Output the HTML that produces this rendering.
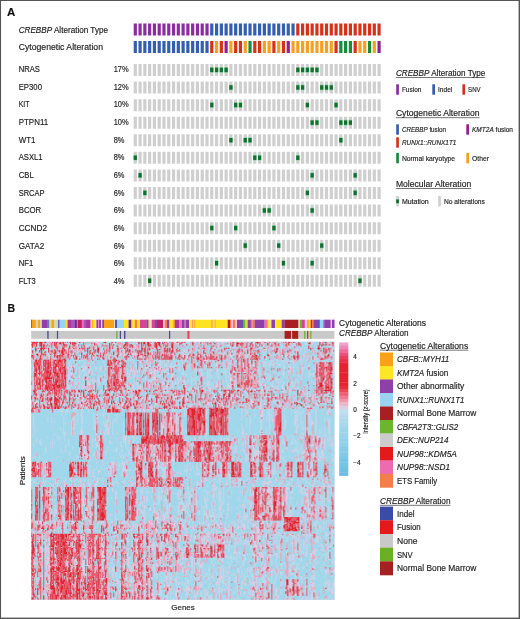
<!DOCTYPE html>
<html><head><meta charset="utf-8"><title>Figure</title>
<style>html,body{margin:0;padding:0;background:#fff;}body{width:520px;height:619px;overflow:hidden;}svg{display:block;font-family:"Liberation Sans",sans-serif;}text{opacity:.999;stroke:#1c1c1c;stroke-width:.16px;}</style></head><body>
<svg width="520" height="619" viewBox="0 0 520 619">
<rect x="0" y="0" width="520" height="619" fill="#fff"/>
<g id="panelA">
<text x="7.1" y="16.2" font-size="11.7" font-weight="bold" fill="#111" textLength="8.3" lengthAdjust="spacingAndGlyphs">A</text>
<text x="18.7" y="32.6" font-size="8.3" fill="#1c1c1c" textLength="89.3" lengthAdjust="spacingAndGlyphs"><tspan font-style="italic">CREBBP</tspan> Alteration Type</text>
<text x="18.7" y="50.0" font-size="8.3" fill="#1c1c1c" textLength="84.3" lengthAdjust="spacingAndGlyphs">Cytogenetic Alteration</text>
<rect x="133.70" y="23.5" width="3.2" height="12" fill="#8a2d9f"/>
<rect x="133.70" y="41" width="3.2" height="12" fill="#335fae"/>
<rect x="138.48" y="23.5" width="3.2" height="12" fill="#8a2d9f"/>
<rect x="138.48" y="41" width="3.2" height="12" fill="#335fae"/>
<rect x="143.26" y="23.5" width="3.2" height="12" fill="#8a2d9f"/>
<rect x="143.26" y="41" width="3.2" height="12" fill="#335fae"/>
<rect x="148.04" y="23.5" width="3.2" height="12" fill="#8a2d9f"/>
<rect x="148.04" y="41" width="3.2" height="12" fill="#335fae"/>
<rect x="152.82" y="23.5" width="3.2" height="12" fill="#8a2d9f"/>
<rect x="152.82" y="41" width="3.2" height="12" fill="#335fae"/>
<rect x="157.60" y="23.5" width="3.2" height="12" fill="#8a2d9f"/>
<rect x="157.60" y="41" width="3.2" height="12" fill="#335fae"/>
<rect x="162.38" y="23.5" width="3.2" height="12" fill="#8a2d9f"/>
<rect x="162.38" y="41" width="3.2" height="12" fill="#335fae"/>
<rect x="167.16" y="23.5" width="3.2" height="12" fill="#8a2d9f"/>
<rect x="167.16" y="41" width="3.2" height="12" fill="#335fae"/>
<rect x="171.94" y="23.5" width="3.2" height="12" fill="#8a2d9f"/>
<rect x="171.94" y="41" width="3.2" height="12" fill="#335fae"/>
<rect x="176.72" y="23.5" width="3.2" height="12" fill="#8a2d9f"/>
<rect x="176.72" y="41" width="3.2" height="12" fill="#335fae"/>
<rect x="181.50" y="23.5" width="3.2" height="12" fill="#8a2d9f"/>
<rect x="181.50" y="41" width="3.2" height="12" fill="#335fae"/>
<rect x="186.28" y="23.5" width="3.2" height="12" fill="#8a2d9f"/>
<rect x="186.28" y="41" width="3.2" height="12" fill="#335fae"/>
<rect x="191.06" y="23.5" width="3.2" height="12" fill="#8a2d9f"/>
<rect x="191.06" y="41" width="3.2" height="12" fill="#335fae"/>
<rect x="195.84" y="23.5" width="3.2" height="12" fill="#8a2d9f"/>
<rect x="195.84" y="41" width="3.2" height="12" fill="#335fae"/>
<rect x="200.62" y="23.5" width="3.2" height="12" fill="#8a2d9f"/>
<rect x="200.62" y="41" width="3.2" height="12" fill="#335fae"/>
<rect x="205.40" y="23.5" width="3.2" height="12" fill="#8a2d9f"/>
<rect x="205.40" y="41" width="3.2" height="12" fill="#335fae"/>
<rect x="210.18" y="23.5" width="3.2" height="12" fill="#335fae"/>
<rect x="210.18" y="41" width="3.2" height="12" fill="#d6321a"/>
<rect x="214.96" y="23.5" width="3.2" height="12" fill="#335fae"/>
<rect x="214.96" y="41" width="3.2" height="12" fill="#f5a021"/>
<rect x="219.74" y="23.5" width="3.2" height="12" fill="#335fae"/>
<rect x="219.74" y="41" width="3.2" height="12" fill="#d6321a"/>
<rect x="224.52" y="23.5" width="3.2" height="12" fill="#335fae"/>
<rect x="224.52" y="41" width="3.2" height="12" fill="#93208c"/>
<rect x="229.30" y="23.5" width="3.2" height="12" fill="#335fae"/>
<rect x="229.30" y="41" width="3.2" height="12" fill="#f5a021"/>
<rect x="234.08" y="23.5" width="3.2" height="12" fill="#335fae"/>
<rect x="234.08" y="41" width="3.2" height="12" fill="#d6321a"/>
<rect x="238.86" y="23.5" width="3.2" height="12" fill="#335fae"/>
<rect x="238.86" y="41" width="3.2" height="12" fill="#d6321a"/>
<rect x="243.64" y="23.5" width="3.2" height="12" fill="#335fae"/>
<rect x="243.64" y="41" width="3.2" height="12" fill="#f5a021"/>
<rect x="248.42" y="23.5" width="3.2" height="12" fill="#335fae"/>
<rect x="248.42" y="41" width="3.2" height="12" fill="#1b8a3c"/>
<rect x="253.20" y="23.5" width="3.2" height="12" fill="#335fae"/>
<rect x="253.20" y="41" width="3.2" height="12" fill="#d6321a"/>
<rect x="257.98" y="23.5" width="3.2" height="12" fill="#335fae"/>
<rect x="257.98" y="41" width="3.2" height="12" fill="#d6321a"/>
<rect x="262.76" y="23.5" width="3.2" height="12" fill="#335fae"/>
<rect x="262.76" y="41" width="3.2" height="12" fill="#f5a021"/>
<rect x="267.54" y="23.5" width="3.2" height="12" fill="#335fae"/>
<rect x="267.54" y="41" width="3.2" height="12" fill="#f5a021"/>
<rect x="272.32" y="23.5" width="3.2" height="12" fill="#335fae"/>
<rect x="272.32" y="41" width="3.2" height="12" fill="#d6321a"/>
<rect x="277.10" y="23.5" width="3.2" height="12" fill="#335fae"/>
<rect x="277.10" y="41" width="3.2" height="12" fill="#f5a021"/>
<rect x="281.88" y="23.5" width="3.2" height="12" fill="#335fae"/>
<rect x="281.88" y="41" width="3.2" height="12" fill="#d6321a"/>
<rect x="286.66" y="23.5" width="3.2" height="12" fill="#335fae"/>
<rect x="286.66" y="41" width="3.2" height="12" fill="#93208c"/>
<rect x="291.44" y="23.5" width="3.2" height="12" fill="#335fae"/>
<rect x="291.44" y="41" width="3.2" height="12" fill="#f5a021"/>
<rect x="296.22" y="23.5" width="3.2" height="12" fill="#d6321a"/>
<rect x="296.22" y="41" width="3.2" height="12" fill="#f5a021"/>
<rect x="301.00" y="23.5" width="3.2" height="12" fill="#d6321a"/>
<rect x="301.00" y="41" width="3.2" height="12" fill="#f5a021"/>
<rect x="305.78" y="23.5" width="3.2" height="12" fill="#d6321a"/>
<rect x="305.78" y="41" width="3.2" height="12" fill="#f5a021"/>
<rect x="310.56" y="23.5" width="3.2" height="12" fill="#d6321a"/>
<rect x="310.56" y="41" width="3.2" height="12" fill="#f5a021"/>
<rect x="315.34" y="23.5" width="3.2" height="12" fill="#d6321a"/>
<rect x="315.34" y="41" width="3.2" height="12" fill="#f5a021"/>
<rect x="320.12" y="23.5" width="3.2" height="12" fill="#d6321a"/>
<rect x="320.12" y="41" width="3.2" height="12" fill="#f5a021"/>
<rect x="324.90" y="23.5" width="3.2" height="12" fill="#d6321a"/>
<rect x="324.90" y="41" width="3.2" height="12" fill="#f5a021"/>
<rect x="329.68" y="23.5" width="3.2" height="12" fill="#d6321a"/>
<rect x="329.68" y="41" width="3.2" height="12" fill="#f5a021"/>
<rect x="334.46" y="23.5" width="3.2" height="12" fill="#d6321a"/>
<rect x="334.46" y="41" width="3.2" height="12" fill="#d6321a"/>
<rect x="339.24" y="23.5" width="3.2" height="12" fill="#d6321a"/>
<rect x="339.24" y="41" width="3.2" height="12" fill="#1b8a3c"/>
<rect x="344.02" y="23.5" width="3.2" height="12" fill="#d6321a"/>
<rect x="344.02" y="41" width="3.2" height="12" fill="#1b8a3c"/>
<rect x="348.80" y="23.5" width="3.2" height="12" fill="#d6321a"/>
<rect x="348.80" y="41" width="3.2" height="12" fill="#1b8a3c"/>
<rect x="353.58" y="23.5" width="3.2" height="12" fill="#d6321a"/>
<rect x="353.58" y="41" width="3.2" height="12" fill="#d6321a"/>
<rect x="358.36" y="23.5" width="3.2" height="12" fill="#d6321a"/>
<rect x="358.36" y="41" width="3.2" height="12" fill="#f5a021"/>
<rect x="363.14" y="23.5" width="3.2" height="12" fill="#d6321a"/>
<rect x="363.14" y="41" width="3.2" height="12" fill="#f5a021"/>
<rect x="367.92" y="23.5" width="3.2" height="12" fill="#d6321a"/>
<rect x="367.92" y="41" width="3.2" height="12" fill="#1b8a3c"/>
<rect x="372.70" y="23.5" width="3.2" height="12" fill="#d6321a"/>
<rect x="372.70" y="41" width="3.2" height="12" fill="#f5a021"/>
<rect x="377.48" y="23.5" width="3.2" height="12" fill="#d6321a"/>
<rect x="377.48" y="41" width="3.2" height="12" fill="#93208c"/>
<text x="18.7" y="72.0" font-size="8.3" fill="#1c1c1c" textLength="21.3" lengthAdjust="spacingAndGlyphs">NRAS</text>
<text x="113.7" y="72.0" font-size="8.3" fill="#1c1c1c" textLength="15" lengthAdjust="spacingAndGlyphs">17%</text>
<path d="M133.7 70.00h248.56" stroke="#cfcfcf" stroke-width="12" stroke-dasharray="3.2 1.58" fill="none"/>
<rect x="210.08" y="67.00" width="3.4000000000000004" height="5.8" fill="#8fd0a0"/>
<rect x="210.18" y="67.70" width="3.2" height="4.4" fill="#12702f"/>
<rect x="214.86" y="67.00" width="3.4000000000000004" height="5.8" fill="#8fd0a0"/>
<rect x="214.96" y="67.70" width="3.2" height="4.4" fill="#12702f"/>
<rect x="219.64" y="67.00" width="3.4000000000000004" height="5.8" fill="#8fd0a0"/>
<rect x="219.74" y="67.70" width="3.2" height="4.4" fill="#12702f"/>
<rect x="224.42" y="67.00" width="3.4000000000000004" height="5.8" fill="#8fd0a0"/>
<rect x="224.52" y="67.70" width="3.2" height="4.4" fill="#12702f"/>
<rect x="296.12" y="67.00" width="3.4000000000000004" height="5.8" fill="#8fd0a0"/>
<rect x="296.22" y="67.70" width="3.2" height="4.4" fill="#12702f"/>
<rect x="300.90" y="67.00" width="3.4000000000000004" height="5.8" fill="#8fd0a0"/>
<rect x="301.00" y="67.70" width="3.2" height="4.4" fill="#12702f"/>
<rect x="305.68" y="67.00" width="3.4000000000000004" height="5.8" fill="#8fd0a0"/>
<rect x="305.78" y="67.70" width="3.2" height="4.4" fill="#12702f"/>
<rect x="310.46" y="67.00" width="3.4000000000000004" height="5.8" fill="#8fd0a0"/>
<rect x="310.56" y="67.70" width="3.2" height="4.4" fill="#12702f"/>
<rect x="315.24" y="67.00" width="3.4000000000000004" height="5.8" fill="#8fd0a0"/>
<rect x="315.34" y="67.70" width="3.2" height="4.4" fill="#12702f"/>
<text x="18.7" y="89.65" font-size="8.3" fill="#1c1c1c" textLength="23.3" lengthAdjust="spacingAndGlyphs">EP300</text>
<text x="113.7" y="89.65" font-size="8.3" fill="#1c1c1c" textLength="15" lengthAdjust="spacingAndGlyphs">12%</text>
<path d="M133.7 87.57h248.56" stroke="#cfcfcf" stroke-width="12" stroke-dasharray="3.2 1.58" fill="none"/>
<rect x="229.20" y="84.57" width="3.4000000000000004" height="5.8" fill="#8fd0a0"/>
<rect x="229.30" y="85.27" width="3.2" height="4.4" fill="#12702f"/>
<rect x="296.12" y="84.57" width="3.4000000000000004" height="5.8" fill="#8fd0a0"/>
<rect x="296.22" y="85.27" width="3.2" height="4.4" fill="#12702f"/>
<rect x="300.90" y="84.57" width="3.4000000000000004" height="5.8" fill="#8fd0a0"/>
<rect x="301.00" y="85.27" width="3.2" height="4.4" fill="#12702f"/>
<rect x="320.02" y="84.57" width="3.4000000000000004" height="5.8" fill="#8fd0a0"/>
<rect x="320.12" y="85.27" width="3.2" height="4.4" fill="#12702f"/>
<rect x="324.80" y="84.57" width="3.4000000000000004" height="5.8" fill="#8fd0a0"/>
<rect x="324.90" y="85.27" width="3.2" height="4.4" fill="#12702f"/>
<rect x="329.58" y="84.57" width="3.4000000000000004" height="5.8" fill="#8fd0a0"/>
<rect x="329.68" y="85.27" width="3.2" height="4.4" fill="#12702f"/>
<text x="18.7" y="107.3" font-size="8.3" fill="#1c1c1c" textLength="10.8" lengthAdjust="spacingAndGlyphs">KIT</text>
<text x="113.7" y="107.3" font-size="8.3" fill="#1c1c1c" textLength="15" lengthAdjust="spacingAndGlyphs">10%</text>
<path d="M133.7 105.14h248.56" stroke="#cfcfcf" stroke-width="12" stroke-dasharray="3.2 1.58" fill="none"/>
<rect x="210.08" y="102.14" width="3.4000000000000004" height="5.8" fill="#8fd0a0"/>
<rect x="210.18" y="102.84" width="3.2" height="4.4" fill="#12702f"/>
<rect x="233.98" y="102.14" width="3.4000000000000004" height="5.8" fill="#8fd0a0"/>
<rect x="234.08" y="102.84" width="3.2" height="4.4" fill="#12702f"/>
<rect x="238.76" y="102.14" width="3.4000000000000004" height="5.8" fill="#8fd0a0"/>
<rect x="238.86" y="102.84" width="3.2" height="4.4" fill="#12702f"/>
<rect x="305.68" y="102.14" width="3.4000000000000004" height="5.8" fill="#8fd0a0"/>
<rect x="305.78" y="102.84" width="3.2" height="4.4" fill="#12702f"/>
<rect x="334.36" y="102.14" width="3.4000000000000004" height="5.8" fill="#8fd0a0"/>
<rect x="334.46" y="102.84" width="3.2" height="4.4" fill="#12702f"/>
<text x="18.7" y="124.95" font-size="8.3" fill="#1c1c1c" textLength="29.5" lengthAdjust="spacingAndGlyphs">PTPN11</text>
<text x="113.7" y="124.95" font-size="8.3" fill="#1c1c1c" textLength="15" lengthAdjust="spacingAndGlyphs">10%</text>
<path d="M133.7 122.71h248.56" stroke="#cfcfcf" stroke-width="12" stroke-dasharray="3.2 1.58" fill="none"/>
<rect x="310.46" y="119.71" width="3.4000000000000004" height="5.8" fill="#8fd0a0"/>
<rect x="310.56" y="120.41" width="3.2" height="4.4" fill="#12702f"/>
<rect x="315.24" y="119.71" width="3.4000000000000004" height="5.8" fill="#8fd0a0"/>
<rect x="315.34" y="120.41" width="3.2" height="4.4" fill="#12702f"/>
<rect x="339.14" y="119.71" width="3.4000000000000004" height="5.8" fill="#8fd0a0"/>
<rect x="339.24" y="120.41" width="3.2" height="4.4" fill="#12702f"/>
<rect x="343.92" y="119.71" width="3.4000000000000004" height="5.8" fill="#8fd0a0"/>
<rect x="344.02" y="120.41" width="3.2" height="4.4" fill="#12702f"/>
<rect x="348.70" y="119.71" width="3.4000000000000004" height="5.8" fill="#8fd0a0"/>
<rect x="348.80" y="120.41" width="3.2" height="4.4" fill="#12702f"/>
<text x="18.7" y="142.6" font-size="8.3" fill="#1c1c1c" textLength="16.8" lengthAdjust="spacingAndGlyphs">WT1</text>
<text x="113.7" y="142.6" font-size="8.3" fill="#1c1c1c" textLength="10.8" lengthAdjust="spacingAndGlyphs">8%</text>
<path d="M133.7 140.28h248.56" stroke="#cfcfcf" stroke-width="12" stroke-dasharray="3.2 1.58" fill="none"/>
<rect x="229.20" y="137.28" width="3.4000000000000004" height="5.8" fill="#8fd0a0"/>
<rect x="229.30" y="137.98" width="3.2" height="4.4" fill="#12702f"/>
<rect x="243.54" y="137.28" width="3.4000000000000004" height="5.8" fill="#8fd0a0"/>
<rect x="243.64" y="137.98" width="3.2" height="4.4" fill="#12702f"/>
<rect x="248.32" y="137.28" width="3.4000000000000004" height="5.8" fill="#8fd0a0"/>
<rect x="248.42" y="137.98" width="3.2" height="4.4" fill="#12702f"/>
<rect x="339.14" y="137.28" width="3.4000000000000004" height="5.8" fill="#8fd0a0"/>
<rect x="339.24" y="137.98" width="3.2" height="4.4" fill="#12702f"/>
<text x="18.7" y="160.25" font-size="8.3" fill="#1c1c1c" textLength="23.8" lengthAdjust="spacingAndGlyphs">ASXL1</text>
<text x="113.7" y="160.25" font-size="8.3" fill="#1c1c1c" textLength="10.8" lengthAdjust="spacingAndGlyphs">8%</text>
<path d="M133.7 157.85h248.56" stroke="#cfcfcf" stroke-width="12" stroke-dasharray="3.2 1.58" fill="none"/>
<rect x="133.60" y="154.85" width="3.4000000000000004" height="5.8" fill="#8fd0a0"/>
<rect x="133.70" y="155.55" width="3.2" height="4.4" fill="#12702f"/>
<rect x="253.10" y="154.85" width="3.4000000000000004" height="5.8" fill="#8fd0a0"/>
<rect x="253.20" y="155.55" width="3.2" height="4.4" fill="#12702f"/>
<rect x="257.88" y="154.85" width="3.4000000000000004" height="5.8" fill="#8fd0a0"/>
<rect x="257.98" y="155.55" width="3.2" height="4.4" fill="#12702f"/>
<rect x="296.12" y="154.85" width="3.4000000000000004" height="5.8" fill="#8fd0a0"/>
<rect x="296.22" y="155.55" width="3.2" height="4.4" fill="#12702f"/>
<text x="18.7" y="177.9" font-size="8.3" fill="#1c1c1c" textLength="15" lengthAdjust="spacingAndGlyphs">CBL</text>
<text x="113.7" y="177.9" font-size="8.3" fill="#1c1c1c" textLength="10.8" lengthAdjust="spacingAndGlyphs">6%</text>
<path d="M133.7 175.42h248.56" stroke="#cfcfcf" stroke-width="12" stroke-dasharray="3.2 1.58" fill="none"/>
<rect x="138.38" y="172.42" width="3.4000000000000004" height="5.8" fill="#8fd0a0"/>
<rect x="138.48" y="173.12" width="3.2" height="4.4" fill="#12702f"/>
<rect x="310.46" y="172.42" width="3.4000000000000004" height="5.8" fill="#8fd0a0"/>
<rect x="310.56" y="173.12" width="3.2" height="4.4" fill="#12702f"/>
<rect x="353.48" y="172.42" width="3.4000000000000004" height="5.8" fill="#8fd0a0"/>
<rect x="353.58" y="173.12" width="3.2" height="4.4" fill="#12702f"/>
<text x="18.7" y="195.55" font-size="8.3" fill="#1c1c1c" textLength="25.8" lengthAdjust="spacingAndGlyphs">SRCAP</text>
<text x="113.7" y="195.55" font-size="8.3" fill="#1c1c1c" textLength="10.8" lengthAdjust="spacingAndGlyphs">6%</text>
<path d="M133.7 192.99h248.56" stroke="#cfcfcf" stroke-width="12" stroke-dasharray="3.2 1.58" fill="none"/>
<rect x="143.16" y="189.99" width="3.4000000000000004" height="5.8" fill="#8fd0a0"/>
<rect x="143.26" y="190.69" width="3.2" height="4.4" fill="#12702f"/>
<rect x="305.68" y="189.99" width="3.4000000000000004" height="5.8" fill="#8fd0a0"/>
<rect x="305.78" y="190.69" width="3.2" height="4.4" fill="#12702f"/>
<rect x="353.48" y="189.99" width="3.4000000000000004" height="5.8" fill="#8fd0a0"/>
<rect x="353.58" y="190.69" width="3.2" height="4.4" fill="#12702f"/>
<text x="18.7" y="213.2" font-size="8.3" fill="#1c1c1c" textLength="22.5" lengthAdjust="spacingAndGlyphs">BCOR</text>
<text x="113.7" y="213.2" font-size="8.3" fill="#1c1c1c" textLength="10.8" lengthAdjust="spacingAndGlyphs">6%</text>
<path d="M133.7 210.56h248.56" stroke="#cfcfcf" stroke-width="12" stroke-dasharray="3.2 1.58" fill="none"/>
<rect x="262.66" y="207.56" width="3.4000000000000004" height="5.8" fill="#8fd0a0"/>
<rect x="262.76" y="208.26" width="3.2" height="4.4" fill="#12702f"/>
<rect x="267.44" y="207.56" width="3.4000000000000004" height="5.8" fill="#8fd0a0"/>
<rect x="267.54" y="208.26" width="3.2" height="4.4" fill="#12702f"/>
<rect x="310.46" y="207.56" width="3.4000000000000004" height="5.8" fill="#8fd0a0"/>
<rect x="310.56" y="208.26" width="3.2" height="4.4" fill="#12702f"/>
<text x="18.7" y="230.85" font-size="8.3" fill="#1c1c1c" textLength="28.3" lengthAdjust="spacingAndGlyphs">CCND2</text>
<text x="113.7" y="230.85" font-size="8.3" fill="#1c1c1c" textLength="10.8" lengthAdjust="spacingAndGlyphs">6%</text>
<path d="M133.7 228.13h248.56" stroke="#cfcfcf" stroke-width="12" stroke-dasharray="3.2 1.58" fill="none"/>
<rect x="210.08" y="225.13" width="3.4000000000000004" height="5.8" fill="#8fd0a0"/>
<rect x="210.18" y="225.83" width="3.2" height="4.4" fill="#12702f"/>
<rect x="233.98" y="225.13" width="3.4000000000000004" height="5.8" fill="#8fd0a0"/>
<rect x="234.08" y="225.83" width="3.2" height="4.4" fill="#12702f"/>
<rect x="272.22" y="225.13" width="3.4000000000000004" height="5.8" fill="#8fd0a0"/>
<rect x="272.32" y="225.83" width="3.2" height="4.4" fill="#12702f"/>
<text x="18.7" y="248.5" font-size="8.3" fill="#1c1c1c" textLength="25.5" lengthAdjust="spacingAndGlyphs">GATA2</text>
<text x="113.7" y="248.5" font-size="8.3" fill="#1c1c1c" textLength="10.8" lengthAdjust="spacingAndGlyphs">6%</text>
<path d="M133.7 245.70h248.56" stroke="#cfcfcf" stroke-width="12" stroke-dasharray="3.2 1.58" fill="none"/>
<rect x="243.54" y="242.70" width="3.4000000000000004" height="5.8" fill="#8fd0a0"/>
<rect x="243.64" y="243.40" width="3.2" height="4.4" fill="#12702f"/>
<rect x="277.00" y="242.70" width="3.4000000000000004" height="5.8" fill="#8fd0a0"/>
<rect x="277.10" y="243.40" width="3.2" height="4.4" fill="#12702f"/>
<rect x="320.02" y="242.70" width="3.4000000000000004" height="5.8" fill="#8fd0a0"/>
<rect x="320.12" y="243.40" width="3.2" height="4.4" fill="#12702f"/>
<text x="18.7" y="266.15" font-size="8.3" fill="#1c1c1c" textLength="14.5" lengthAdjust="spacingAndGlyphs">NF1</text>
<text x="113.7" y="266.15" font-size="8.3" fill="#1c1c1c" textLength="10.8" lengthAdjust="spacingAndGlyphs">6%</text>
<path d="M133.7 263.27h248.56" stroke="#cfcfcf" stroke-width="12" stroke-dasharray="3.2 1.58" fill="none"/>
<rect x="214.86" y="260.27" width="3.4000000000000004" height="5.8" fill="#8fd0a0"/>
<rect x="214.96" y="260.97" width="3.2" height="4.4" fill="#12702f"/>
<rect x="281.78" y="260.27" width="3.4000000000000004" height="5.8" fill="#8fd0a0"/>
<rect x="281.88" y="260.97" width="3.2" height="4.4" fill="#12702f"/>
<rect x="310.46" y="260.27" width="3.4000000000000004" height="5.8" fill="#8fd0a0"/>
<rect x="310.56" y="260.97" width="3.2" height="4.4" fill="#12702f"/>
<text x="18.7" y="283.8" font-size="8.3" fill="#1c1c1c" textLength="17" lengthAdjust="spacingAndGlyphs">FLT3</text>
<text x="113.7" y="283.8" font-size="8.3" fill="#1c1c1c" textLength="10.8" lengthAdjust="spacingAndGlyphs">4%</text>
<path d="M133.7 280.84h248.56" stroke="#cfcfcf" stroke-width="12" stroke-dasharray="3.2 1.58" fill="none"/>
<rect x="147.94" y="277.84" width="3.4000000000000004" height="5.8" fill="#8fd0a0"/>
<rect x="148.04" y="278.54" width="3.2" height="4.4" fill="#12702f"/>
<rect x="358.26" y="277.84" width="3.4000000000000004" height="5.8" fill="#8fd0a0"/>
<rect x="358.36" y="278.54" width="3.2" height="4.4" fill="#12702f"/>
<text x="395.9" y="76" font-size="8.6" fill="#1c1c1c" textLength="89.4" lengthAdjust="spacingAndGlyphs"><tspan font-style="italic">CREBBP</tspan> Alteration Type</text>
<rect x="395.9" y="77.3" width="89.4" height="0.6" fill="#1c1c1c"/>
<rect x="396.2" y="84.3" width="2.7" height="10.4" fill="#8a2d9f"/>
<text x="401.9" y="92.05" font-size="7.1" fill="#1c1c1c" textLength="19.5" lengthAdjust="spacingAndGlyphs">Fusion</text>
<rect x="432.3" y="84.3" width="2.7" height="10.4" fill="#335fae"/>
<text x="438.0" y="92.05" font-size="7.1" fill="#1c1c1c" textLength="14.3" lengthAdjust="spacingAndGlyphs">Indel</text>
<rect x="462.4" y="84.3" width="2.7" height="10.4" fill="#d6321a"/>
<text x="468.1" y="92.05" font-size="7.1" fill="#1c1c1c" textLength="12.5" lengthAdjust="spacingAndGlyphs">SNV</text>
<text x="395.9" y="116.2" font-size="8.6" fill="#1c1c1c" textLength="83.6" lengthAdjust="spacingAndGlyphs">Cytogenetic Alteration</text>
<rect x="395.9" y="117.5" width="83.6" height="0.6" fill="#1c1c1c"/>
<rect x="396.2" y="124.3" width="2.7" height="10.4" fill="#335fae"/>
<text x="401.9" y="132.05" font-size="7.1" fill="#1c1c1c" textLength="44.2" lengthAdjust="spacingAndGlyphs"><tspan font-style="italic">CREBBP</tspan> fusion</text>
<rect x="466.3" y="124.3" width="2.7" height="10.4" fill="#93208c"/>
<text x="472.0" y="132.05" font-size="7.1" fill="#1c1c1c" textLength="41" lengthAdjust="spacingAndGlyphs"><tspan font-style="italic">KMT2A</tspan> fusion</text>
<rect x="396.2" y="137.3" width="2.7" height="10.4" fill="#d6321a"/>
<text x="401.9" y="145.05" font-size="7.1" fill="#1c1c1c" textLength="54.5" lengthAdjust="spacingAndGlyphs"><tspan font-style="italic">RUNX1::RUNX1T1</tspan></text>
<rect x="396.2" y="152.9" width="2.7" height="10.4" fill="#1b8a3c"/>
<text x="401.9" y="160.65" font-size="7.1" fill="#1c1c1c" textLength="53.2" lengthAdjust="spacingAndGlyphs">Normal karyotype</text>
<rect x="466.3" y="152.9" width="2.7" height="10.4" fill="#f5a021"/>
<text x="472.0" y="160.65" font-size="7.1" fill="#1c1c1c" textLength="16.9" lengthAdjust="spacingAndGlyphs">Other</text>
<text x="395.9" y="186.9" font-size="8.6" fill="#1c1c1c" textLength="75.3" lengthAdjust="spacingAndGlyphs">Molecular Alteration</text>
<rect x="395.9" y="188.20000000000002" width="75.3" height="0.6" fill="#1c1c1c"/>
<rect x="396.2" y="196.0" width="2.7" height="10.4" fill="#cfcfcf"/>
<text x="401.9" y="203.75" font-size="7.1" fill="#1c1c1c" textLength="26.8" lengthAdjust="spacingAndGlyphs">Mutation</text>
<rect x="395.9" y="198.9" width="3.3" height="4.8" fill="#8fd0a0"/>
<rect x="396.2" y="199.5" width="2.7" height="3.6" fill="#12702f"/>
<rect x="438.2" y="196.0" width="2.7" height="10.4" fill="#cfcfcf"/>
<text x="443.9" y="203.75" font-size="7.1" fill="#1c1c1c" textLength="41" lengthAdjust="spacingAndGlyphs">No alterations</text>
</g>
<g id="panelB">
<text x="7.6" y="312.3" font-size="11.7" font-weight="bold" fill="#111" textLength="7.6" lengthAdjust="spacingAndGlyphs">B</text>
<rect x="31.20" y="319.7" width="0.85" height="8.3" fill="#6a2a8a"/>
<rect x="31.90" y="319.7" width="4.05" height="8.3" fill="#f9a11b"/>
<rect x="35.80" y="319.7" width="2.45" height="8.3" fill="#cdd6b6"/>
<rect x="38.10" y="319.7" width="2.45" height="8.3" fill="#f9a11b"/>
<rect x="40.40" y="319.7" width="1.65" height="8.3" fill="#cdd6b6"/>
<rect x="41.90" y="319.7" width="5.75" height="8.3" fill="#8e3fa8"/>
<rect x="47.50" y="319.7" width="1.45" height="8.3" fill="#5a55b0"/>
<rect x="48.80" y="319.7" width="1.75" height="8.3" fill="#9ad2f2"/>
<rect x="50.40" y="319.7" width="1.25" height="8.3" fill="#d6d447"/>
<rect x="51.50" y="319.7" width="2.85" height="8.3" fill="#f9a11b"/>
<rect x="54.20" y="319.7" width="4.05" height="8.3" fill="#cdd6b6"/>
<rect x="58.10" y="319.7" width="1.65" height="8.3" fill="#5a55b0"/>
<rect x="59.60" y="319.7" width="6.35" height="8.3" fill="#9ad2f2"/>
<rect x="65.80" y="319.7" width="1.85" height="8.3" fill="#fde321"/>
<rect x="67.50" y="319.7" width="3.65" height="8.3" fill="#b4339c"/>
<rect x="71.00" y="319.7" width="3.65" height="8.3" fill="#9a5cc0"/>
<rect x="74.50" y="319.7" width="2.45" height="8.3" fill="#6a2a8a"/>
<rect x="76.80" y="319.7" width="1.25" height="8.3" fill="#ee6bb0"/>
<rect x="77.90" y="319.7" width="4.05" height="8.3" fill="#c21f63"/>
<rect x="81.80" y="319.7" width="1.65" height="8.3" fill="#ee6bb0"/>
<rect x="83.30" y="319.7" width="2.85" height="8.3" fill="#9a5cc0"/>
<rect x="86.00" y="319.7" width="4.75" height="8.3" fill="#b4339c"/>
<rect x="90.60" y="319.7" width="1.55" height="8.3" fill="#f3c4dc"/>
<rect x="92.00" y="319.7" width="1.05" height="8.3" fill="#f9a11b"/>
<rect x="92.90" y="319.7" width="2.85" height="8.3" fill="#fde321"/>
<rect x="95.60" y="319.7" width="0.95" height="8.3" fill="#e8e0c8"/>
<rect x="96.40" y="319.7" width="2.05" height="8.3" fill="#8e3fa8"/>
<rect x="98.30" y="319.7" width="0.95" height="8.3" fill="#ee6bb0"/>
<rect x="99.10" y="319.7" width="2.05" height="8.3" fill="#8e3fa8"/>
<rect x="101.00" y="319.7" width="1.35" height="8.3" fill="#e8e0c8"/>
<rect x="102.20" y="319.7" width="1.95" height="8.3" fill="#8e3fa8"/>
<rect x="104.00" y="319.7" width="10.15" height="8.3" fill="#f9a11b"/>
<rect x="114.00" y="319.7" width="1.15" height="8.3" fill="#e8e0c8"/>
<rect x="115.00" y="319.7" width="2.15" height="8.3" fill="#5a55b0"/>
<rect x="117.00" y="319.7" width="7.15" height="8.3" fill="#9ad2f2"/>
<rect x="124.00" y="319.7" width="4.75" height="8.3" fill="#fde321"/>
<rect x="128.60" y="319.7" width="2.55" height="8.3" fill="#6a2a8a"/>
<rect x="131.00" y="319.7" width="1.65" height="8.3" fill="#f9a11b"/>
<rect x="132.50" y="319.7" width="2.45" height="8.3" fill="#fde321"/>
<rect x="134.80" y="319.7" width="2.35" height="8.3" fill="#f47d4a"/>
<rect x="137.00" y="319.7" width="3.15" height="8.3" fill="#fde321"/>
<rect x="140.00" y="319.7" width="6.45" height="8.3" fill="#d8409a"/>
<rect x="146.30" y="319.7" width="2.45" height="8.3" fill="#8e3fa8"/>
<rect x="148.60" y="319.7" width="1.55" height="8.3" fill="#fde321"/>
<rect x="150.00" y="319.7" width="1.85" height="8.3" fill="#e8e0c8"/>
<rect x="151.70" y="319.7" width="3.25" height="8.3" fill="#d8409a"/>
<rect x="154.80" y="319.7" width="2.35" height="8.3" fill="#8e3fa8"/>
<rect x="157.00" y="319.7" width="6.15" height="8.3" fill="#c21f63"/>
<rect x="163.00" y="319.7" width="1.95" height="8.3" fill="#f3c4dc"/>
<rect x="164.80" y="319.7" width="2.35" height="8.3" fill="#f47d4a"/>
<rect x="167.00" y="319.7" width="2.55" height="8.3" fill="#8e3fa8"/>
<rect x="169.40" y="319.7" width="3.95" height="8.3" fill="#fde321"/>
<rect x="173.20" y="319.7" width="1.75" height="8.3" fill="#f9a11b"/>
<rect x="174.80" y="319.7" width="4.75" height="8.3" fill="#b4339c"/>
<rect x="179.40" y="319.7" width="1.75" height="8.3" fill="#ee6bb0"/>
<rect x="181.00" y="319.7" width="0.95" height="8.3" fill="#f9a11b"/>
<rect x="181.80" y="319.7" width="2.95" height="8.3" fill="#8e3fa8"/>
<rect x="184.60" y="319.7" width="1.55" height="8.3" fill="#ee6bb0"/>
<rect x="186.00" y="319.7" width="3.15" height="8.3" fill="#8e3fa8"/>
<rect x="189.00" y="319.7" width="3.45" height="8.3" fill="#fde321"/>
<rect x="192.30" y="319.7" width="0.85" height="8.3" fill="#f47d4a"/>
<rect x="193.00" y="319.7" width="1.35" height="8.3" fill="#fde321"/>
<rect x="194.20" y="319.7" width="0.95" height="8.3" fill="#f9a11b"/>
<rect x="195.00" y="319.7" width="16.65" height="8.3" fill="#fde321"/>
<rect x="211.50" y="319.7" width="1.25" height="8.3" fill="#f47d4a"/>
<rect x="212.60" y="319.7" width="2.15" height="8.3" fill="#fde321"/>
<rect x="214.60" y="319.7" width="1.25" height="8.3" fill="#f9a11b"/>
<rect x="215.70" y="319.7" width="12.15" height="8.3" fill="#fde321"/>
<rect x="227.70" y="319.7" width="2.45" height="8.3" fill="#a81e22"/>
<rect x="230.00" y="319.7" width="1.65" height="8.3" fill="#f47d4a"/>
<rect x="231.50" y="319.7" width="1.65" height="8.3" fill="#f3c4dc"/>
<rect x="233.00" y="319.7" width="2.55" height="8.3" fill="#f47d4a"/>
<rect x="235.40" y="319.7" width="1.75" height="8.3" fill="#f3c4dc"/>
<rect x="237.00" y="319.7" width="3.95" height="8.3" fill="#8e3fa8"/>
<rect x="240.80" y="319.7" width="2.35" height="8.3" fill="#5a55b0"/>
<rect x="243.00" y="319.7" width="2.55" height="8.3" fill="#6cb52d"/>
<rect x="245.40" y="319.7" width="2.45" height="8.3" fill="#d6d447"/>
<rect x="247.70" y="319.7" width="3.25" height="8.3" fill="#8e3fa8"/>
<rect x="250.80" y="319.7" width="1.65" height="8.3" fill="#ee6bb0"/>
<rect x="252.30" y="319.7" width="2.45" height="8.3" fill="#f47d4a"/>
<rect x="254.60" y="319.7" width="10.05" height="8.3" fill="#8e3fa8"/>
<rect x="264.50" y="319.7" width="2.45" height="8.3" fill="#ee6bb0"/>
<rect x="266.80" y="319.7" width="1.65" height="8.3" fill="#f9a11b"/>
<rect x="268.30" y="319.7" width="2.45" height="8.3" fill="#fde321"/>
<rect x="270.60" y="319.7" width="0.95" height="8.3" fill="#e8e0c8"/>
<rect x="271.40" y="319.7" width="3.95" height="8.3" fill="#8e3fa8"/>
<rect x="275.20" y="319.7" width="0.95" height="8.3" fill="#e8e0c8"/>
<rect x="276.00" y="319.7" width="5.85" height="8.3" fill="#fde321"/>
<rect x="281.70" y="319.7" width="3.05" height="8.3" fill="#8e3fa8"/>
<rect x="284.60" y="319.7" width="14.05" height="8.3" fill="#a81e22"/>
<rect x="298.50" y="319.7" width="1.45" height="8.3" fill="#e8e0c8"/>
<rect x="299.80" y="319.7" width="1.65" height="8.3" fill="#6cb52d"/>
<rect x="301.30" y="319.7" width="3.65" height="8.3" fill="#d8409a"/>
<rect x="304.80" y="319.7" width="2.45" height="8.3" fill="#f3c4dc"/>
<rect x="307.10" y="319.7" width="1.85" height="8.3" fill="#f9a11b"/>
<rect x="308.80" y="319.7" width="1.95" height="8.3" fill="#fde321"/>
<rect x="310.60" y="319.7" width="1.55" height="8.3" fill="#e3191c"/>
<rect x="312.00" y="319.7" width="1.55" height="8.3" fill="#f47d4a"/>
<rect x="313.40" y="319.7" width="4.75" height="8.3" fill="#8e3fa8"/>
<rect x="318.00" y="319.7" width="1.95" height="8.3" fill="#5a55b0"/>
<rect x="319.80" y="319.7" width="3.65" height="8.3" fill="#9ad2f2"/>
<rect x="323.30" y="319.7" width="1.85" height="8.3" fill="#9a5cc0"/>
<rect x="325.00" y="319.7" width="5.85" height="8.3" fill="#8e3fa8"/>
<rect x="330.70" y="319.7" width="1.45" height="8.3" fill="#f3c4dc"/>
<rect x="332.00" y="319.7" width="2.55" height="8.3" fill="#8e3fa8"/>
<rect x="31.2" y="330.9" width="303.20" height="7.9" fill="#c9c9c9"/>
<rect x="47.3" y="330.9" width="1.30" height="7.9" fill="#474a8c"/>
<rect x="56.9" y="330.9" width="1.20" height="7.9" fill="#474a8c"/>
<rect x="116.3" y="330.9" width="1.20" height="7.9" fill="#6ab023"/>
<rect x="119.8" y="330.9" width="1.20" height="7.9" fill="#474a8c"/>
<rect x="124" y="330.9" width="1.40" height="7.9" fill="#474a8c"/>
<rect x="169" y="330.9" width="1.20" height="7.9" fill="#474a8c"/>
<rect x="187.4" y="330.9" width="2.10" height="7.9" fill="#e8455a"/>
<rect x="284.6" y="330.9" width="6.40" height="7.9" fill="#a52020"/>
<rect x="292.1" y="330.9" width="6.10" height="7.9" fill="#a52020"/>
<rect x="304.2" y="330.9" width="1.20" height="7.9" fill="#6ab023"/>
<rect x="307.1" y="330.9" width="1.20" height="7.9" fill="#e3191c"/>
<rect x="310.2" y="330.9" width="1.20" height="7.9" fill="#6ab023"/>
<defs><filter id="soft" x="-2%" y="-2%" width="104%" height="104%" color-interpolation-filters="sRGB"><feGaussianBlur stdDeviation="0.45"/></filter><clipPath id="hmclip"><rect x="31.2" y="341.8" width="303.20" height="257.90"/></clipPath></defs>
<rect x="31.2" y="341.8" width="303.20" height="257.90" fill="#cfd4e6"/>
<g clip-path="url(#hmclip)"><g filter="url(#soft)"><g transform="translate(31.2,341.8) scale(1.00066,1.19953)">
<rect x="-3" y="-3" width="309" height="221" fill="#a0d7ea"/>
<path transform="translate(0.5,0)" d="M0 1v1m0 2v2m0 18v1m0 12v2m0 38v1M1 5v1m0 9v2m0 6v1m0 5v2m0 3v5m0 39v1m0 38v1M2 4v4m0 15v2m0 5v6m0 12v1m0 11v11m0 14v2m0 27v4m0 19v4m0 43v2M3 7v4m0 40v2m0 17v7m0 2v1m0 3v1m0 11v2m0 48v3m0 10v1m0 20v4m0 3v1m0 9v5m0 7v2m0 3v1M4 2v2m0 169v2m0 5v1m0 20v1m0 2v1M5 9v1m0 38v3m0 2v1m0 26v4m0 29v2m0 35v3m0 1v2m0 3v1m0 7v1m0 4v3m0 1v1m0 29v2m0 6v1M6 2v1m0 6v1m0 6v1m0 3v1m0 20v1m0 58v1m0 2v1m0 14v1m0 30v2m0 17v1M7 0v3m0 3v3m0 5v1m0 28v1m0 7v1m0 53v1m0 12v1m0 3v2m0 39v2m0 12v2m0 17v2m0 1v1m0 12v2M8 4v1m0 77v3m0 10v3m0 51v2m0 6v1m0 6v3m0 44v4M9 27v1m0 23v1m0 29v5m0 34v1m0 4v4m0 20v1m0 8v2m0 35v1M10 13v1m0 32v1m0 3v2m0 32v3m0 18v1m0 4v1m0 5v3m0 1v1m0 29v4m0 6v1m0 3v1m0 5v6m0 1v4m0 7v1m0 1v1m0 13v4M11 6v2m0 7v2m0 26v2m0 10v1m0 105v1m0 1v1m0 9v3m0 11v1m0 5v3M12 8v1m0 4v2m0 22v2m0 61v2m0 2v1m0 9v4m0 39v1M13 6v1m0 25v3m0 9v9m0 40v1m0 6v1m0 16v3m0 30v4m0 2v1m0 10v1m0 14v2m0 1v1m0 13v1m0 2v5m0 1v4M14 13v1m0 30v1m0 66v2m0 4v1m0 32v2M15 6v1m0 3v2m0 29v3m0 8v1m0 47v1m0 9v1m0 10v1m0 25v1m0 27v1m0 3v2m0 12v3M16 63v3m0 35v4m0 75v2m0 12v1m0 6v2m0 1v4M17 11v2m0 37v2m0 1v1m0 63v1m0 2v1m0 36v2m0 9v2m0 13v2m0 13v4M18 6v2m0 2v2m0 38v2m0 71v4m0 3v1m0 2v4m0 5v3m0 2v2m0 7v1m0 2v1m0 3v4m0 21v3m0 1v1m0 7v2m0 1v2M19 3v4m0 47v1m0 28v5m0 30v1m0 2v1m0 3v2m0 5v1m0 10v1m0 4v1m0 2v3m0 3v1M20 13v1m0 1v1m0 34v1m0 7v1m0 4v4m0 31v2m0 39v5m0 12v1M21 20v1m0 50v1m0 9v8m0 3v1m0 20v2m0 16v1m0 12v6m0 13v1M22 40v1m0 2v3m0 3v1m0 101v1m0 1v1M23 4v2m0 7v1m0 42v3m0 7v2m0 8v2m0 5v2m0 29v1m0 11v1m0 5v1m0 5v3m0 2v2m0 4v1m0 7v3m0 2v1m0 3v1m0 7v6m0 19v5M24 12v2m0 100v3m0 2v2m0 18v4m0 6v2m0 6v1m0 8v2M25 45v1m0 50v1m0 16v1m0 28v2M26 1v3m0 74v5m0 32v5m0 32v1m0 1v1M27 8v3m0 36v1m0 9v2m0 36v1m0 19v1m0 2v1m0 24v1m0 8v1m0 3v3M28 79v2m0 6v1M29 4v2m0 50v3m0 12v3m0 7v1m0 7v4m0 24v1m0 10v1m0 2v2m0 20v3M30 10v1m0 34v2m0 2v3m0 6v1m0 1v2m0 69v5m0 16v1m0 1v1m0 3v1M31 39v2m0 1v1m0 3v1m0 6v2m0 20v1m0 4v1m0 10v2m0 32v1m0 10v3m0 5v4M32 62v16m0 67v2m0 3v2m0 2v1m0 4v1M33 5v1m0 69v8m0 6v2m0 31v4m0 10v1m0 1v2m0 3v1m0 9v5m0 37v3M34 1v1m0 3v1m0 4v2m0 44v5m0 14v2m0 8v4m0 2v1m0 15v1m0 12v1m0 28v5m0 5v1M35 12v1m0 7v2m0 21v4m0 1v2m0 6v3m0 31v1m0 27v1m0 30v3m0 6v2M36 5v5m0 12v1m0 5v1m0 6v1m0 2v2m0 16v3m0 60v2m0 35v1m0 26v7m0 9v1M37 4v1m0 19v8m0 3v5m0 15v1m0 1v2m0 21v7m0 30v1m0 38v1M38 8v1m0 2v2m0 10v9m0 4v4m0 51v4m0 20v1m0 11v2m0 3v5m0 1v10m0 1v1M39 3v1m0 11v2m0 3v5m0 2v1m0 12v2m0 6v6m0 59v3m0 3v1m0 29v1m0 1v1m0 3v3M40 0v5m0 18v1m0 8v2m0 1v3m0 21v1m0 5v3m0 45v1m0 1v2m0 3v3m0 26v2m0 59v2M41 13v2m0 16v2m0 16v1m0 13v3m0 6v1m0 14v3m0 37v2m0 15v6m0 6v1m0 9v1m0 12v2m0 7v1M42 9v1m0 4v1m0 1v2m0 1v2m0 8v1m0 14v1m0 1v1m0 5v1m0 3v3m0 11v5m0 13v1m0 17v4m0 3v2m0 34v1m0 7v3M43 8v1m0 2v3m0 6v2m0 6v2m0 4v1m0 21v3m0 2v12m0 33v3m0 6v2m0 65v3M44 19v1m0 4v3m0 2v3m0 52v1m0 34v1m0 65v1M45 22v3m0 9v3m0 7v4m0 5v1m0 2v3m0 26v1m0 9v2m0 34v2m0 61v3M46 0v4m0 1v3m0 32v2m0 4v1m0 3v1m0 3v1m0 4v10m0 26v1m0 35v1m0 22v2M47 4v1m0 3v2m0 11v2m0 1v6m0 7v3m0 2v2m0 5v2m0 44v2m0 17v4m0 9v1m0 7v2m0 21v2m0 41v1M48 4v1m0 3v1m0 6v2m0 14v8m0 59v1m0 1v3m0 8v2m0 40v2m0 2v1M49 10v2m0 1v1m0 12v1m0 21v1m0 11v2m0 11v5m0 19v1m0 15v1m0 60v2M50 15v1m0 4v2m0 1v2m0 23v1m0 10v17m0 40v1m0 7v2m0 1v3m0 2v1m0 2v2m0 5v1m0 9v2m0 3v3m0 1v7m0 2v4m0 11v2m0 6v7M51 12v1m0 2v1m0 8v1m0 5v2m0 2v2m0 3v1m0 2v1m0 13v3m0 3v6m0 19v4m0 17v3m0 15v1m0 14v5m0 2v1m0 2v1m0 1v2m0 1v1m0 13v2m0 4v2M52 6v3m0 9v2m0 2v3m0 2v2m0 3v1m0 4v3m0 10v5m0 32v1m0 3v2m0 25v2m0 10v2m0 4v1m0 8v4m0 11v1m0 13v2m0 3v1m0 10v1m0 1v2M53 15v1m0 1v1m0 4v7m0 3v6m0 51v5m0 9v1m0 10v3m0 1v2m0 15v3m0 10v1m0 11v2m0 5v2m0 12v8m0 5v1m0 15v4M54 2v4m0 4v1m0 6v3m0 29v1m0 38v1m0 4v1m0 1v3m0 40v3m0 11v1m0 6v1M55 4v1m0 21v5m0 6v2m0 79v2m0 32v1m0 1v1m0 23v1m0 2v2m0 9v2m0 3v6m0 7v1M56 2v3m0 25v1m0 2v4m0 11v1m0 44v4m0 3v4m0 7v2m0 14v2m0 6v1m0 2v3m0 6v1m0 7v3M57 2v1m0 3v1m0 1v6m0 9v1m0 5v1m0 2v2m0 19v1m0 2v3m0 10v1m0 24v1m0 3v2m0 14v6m0 2v1m0 3v12m0 6v1m0 2v1m0 4v2m0 2v4M58 22v4m0 9v4m0 49v4m0 1v3m0 7v4m0 11v6m0 27v1m0 31v2M59 0v1m0 1v1m0 2v2m0 3v3m0 6v4m0 10v1m0 14v1m0 6v1m0 42v1m0 13v1m0 1v1m0 4v1m0 25v6m0 5v1m0 1v2M60 7v3m0 5v2m0 14v1m0 17v2m0 39v1m0 13v1m0 7v1m0 2v1m0 6v3m0 10v2m0 6v2m0 32v6M61 11v1m0 10v4m0 29v1m0 16v1m0 5v1m0 3v3m0 2v1m0 20v5M62 2v2m0 14v1m0 8v1m0 4v3m0 2v3m0 1v3m0 3v1m0 11v14m0 33v1m0 6v3m0 36v1m0 2v2m0 2v1M63 20v1m0 9v2m0 6v2m0 2v2m0 27v3m0 7v2m0 23v1m0 11v1m0 1v2m0 4v2m0 6v3m0 3v9m0 4v3m0 7v1m0 6v2M64 3v3m0 3v2m0 10v4m0 2v1m0 20v1m0 3v2m0 10v14m0 4v1m0 5v1m0 2v1m0 21v2m0 2v2m0 1v1m0 3v19m0 3v2m0 35v1m0 21v4M65 6v2m0 4v3m0 6v1m0 12v2m0 11v3m0 3v2m0 8v1m0 13v1m0 5v6m0 10v3m0 1v1m0 1v1m0 11v3m0 1v9m0 2v1m0 2v5m0 3v1m0 1v1m0 11v1m0 4v2M66 13v1m0 16v4m0 10v1m0 3v1m0 3v2m0 5v9m0 10v2m0 2v1m0 1v1m0 1v2m0 3v6m0 55v2M67 28v1m0 1v6m0 7v3m0 8v2m0 22v5m0 5v1m0 27v1m0 3v1m0 15v3M68 0v4m0 17v3m0 8v4m0 18v1m0 31v4m0 2v5m0 16v2m0 43v1m0 4v4m0 1v1m0 9v2m0 5v2M69 2v2m0 38v1m0 2v3m0 3v1m0 7v2m0 12v4m0 40v1M70 0v1m0 13v1m0 26v1m0 4v3m0 5v1m0 49v3m0 45v1m0 20v1m0 8v2M71 3v4m0 14v1m0 11v1m0 21v1m0 3v3m0 5v2m0 29v2m0 14v2m0 1v1m0 1v1m0 39v2m0 8v3m0 19v1M72 7v1m0 7v3m0 12v1m0 2v3m0 9v2m0 9v1m0 2v4m0 3v1m0 7v2m0 14v2m0 24v1m0 43v1m0 34v3M73 19v6m0 31v3m0 46v2m0 12v1m0 33v1m0 10v1m0 13v2m0 31v3M74 32v2m0 1v1m0 7v1m0 6v3m0 6v2m0 3v2m0 4v3m0 6v1m0 2v1m0 8v4m0 14v1M75 0v3m0 9v2m0 25v1m0 15v4m0 8v7m0 37v1m0 4v2m0 10v1m0 5v1m0 8v1m0 12v1m0 21v3m0 4v1M76 59v1m0 16v2m0 9v3m0 11v1m0 3v1m0 15v4m0 11v1m0 26v1m0 1v1m0 5v4m0 4v1m0 1v4m0 3v1m0 2v1m0 11v2m0 3v3m0 1v3M77 10v5m0 27v1m0 16v8m0 4v3m0 33v5m0 10v3m0 19v1m0 6v2m0 1v1m0 11v1m0 2v1m0 10v1m0 7v1m0 11v2M78 12v3m0 28v2m0 3v3m0 17v4m0 10v3m0 19v3m0 10v2m0 28v2m0 3v2m0 6v1m0 10v1m0 1v6m0 8v1m0 13v1m0 6v1m0 2v1M79 7v3m0 39v1m0 29v2m0 19v1m0 2v2m0 6v2m0 5v1m0 31v1m0 6v2m0 1v1m0 1v2m0 5v2m0 4v3m0 24v2m0 10v1M80 14v2m0 25v4m0 11v3m0 42v2m0 2v1m0 6v1m0 16v2m0 18v1m0 4v1m0 16v1m0 8v1m0 8v3m0 13v1M81 1v2m0 13v1m0 8v2m0 2v1m0 18v1m0 16v13m0 6v1m0 31v4m0 24v1m0 4v2m0 3v1m0 4v1m0 6v1m0 14v4m0 17v1m0 10v2M82 3v3m0 12v4m0 20v1m0 9v1m0 37v2m0 4v1m0 3v2m0 16v2m0 38v2m0 10v2m0 9v1m0 10v2m0 4v6m0 3v1m0 5v2M83 0v1m0 63v3m0 44v1m0 4v2m0 31v5m0 16v3m0 2v4m0 33v3M84 1v2m0 3v1m0 1v4m0 77v2m0 23v1m0 9v2m0 5v5m0 5v6m0 7v1m0 37v4m0 5v1m0 11v1M85 13v2m0 31v1m0 13v8m0 13v1m0 5v5m0 8v4m0 9v5m0 7v2m0 20v2m0 9v1m0 6v2m0 3v1m0 16v3m0 5v3m0 9v1m0 3v2M86 20v1m0 16v1m0 4v1m0 3v2m0 15v1m0 3v1m0 7v2m0 29v1m0 9v2m0 30v1m0 11v1m0 10v1m0 2v4m0 2v5m0 9v1m0 3v6m0 2v1M87 14v1m0 25v2m0 12v2m0 24v1m0 3v1m0 18v1m0 1v2m0 34v4m0 17v1m0 26v1m0 9v3m0 7v3m0 1v1M88 6v2m0 3v1m0 31v1m0 8v1m0 2v1m0 1v1m0 34v3m0 5v5m0 45v1m0 15v4m0 7v1m0 15v2m0 4v1m0 2v2m0 2v3M89 6v6m0 3v6m0 5v1m0 20v3m0 29v1m0 3v5m0 74v4m0 1v1m0 1v4m0 4v5m0 4v2m0 2v3m0 1v3m0 2v1m0 4v1M90 18v1m0 12v3m0 9v2m0 41v3m0 1v3m0 1v6m0 1v3m0 47v1m0 6v1M91 6v1m0 35v1m0 2v2m0 57v1m0 2v6m0 3v2m0 2v1m0 8v2m0 12v1m0 5v3m0 5v1m0 7v2m0 20v1m0 22v2M92 40v2m0 24v10m0 2v7m0 9v4m0 2v5m0 12v1m0 16v1m0 41v1m0 8v6m0 11v2M93 7v1m0 13v1m0 18v2m0 54v1m0 3v4m0 1v3m0 6v2m0 2v1m0 30v6m0 13v5m0 1v1m0 2v3m0 5v4m0 8v4m0 5v2M94 15v2m0 16v1m0 10v1m0 34v1m0 13v2m0 5v1m0 3v1m0 3v2m0 1v3m0 5v2m0 30v1m0 3v1m0 3v1m0 21v1M95 10v1m0 11v1m0 3v2m0 9v1m0 24v7m0 9v3m0 17v2m0 11v1m0 4v1m0 16v2m0 14v3m0 12v3m0 3v4m0 2v3m0 2v4m0 7v7M96 8v2m0 12v5m0 7v1m0 2v3m0 1v1m0 48v1m0 18v3m0 1v1m0 3v1m0 1v1m0 29v1m0 3v5m0 4v8m0 2v2m0 1v1m0 1v2m0 2v2m0 1v3m0 9v1m0 6v2M97 3v1m0 9v5m0 10v1m0 2v1m0 9v2m0 1v2m0 32v2m0 10v5m0 20v2m0 2v2m0 5v1m0 7v1m0 2v2m0 7v2m0 4v2m0 1v1m0 1v1m0 2v4m0 9v2m0 12v2m0 23v1M98 10v1m0 9v1m0 5v3m0 1v1m0 5v4m0 58v1m0 67v1m0 29v2m0 4v1m0 4v1M99 1v1m0 6v1m0 6v3m0 16v1m0 3v1m0 5v3m0 7v3m0 39v3m0 17v1m0 1v1m0 2v1m0 4v4m0 3v2m0 8v1m0 11v3m0 2v1m0 11v2m0 16v1m0 6v1m0 3v2m0 4v1m0 5v2M100 1v1m0 4v5m0 1v1m0 6v1m0 1v4m0 4v2m0 3v1m0 8v1m0 34v1m0 17v1m0 22v1m0 40v3m0 6v1m0 9v1m0 10v1m0 1v2M101 12v1m0 10v5m0 8v4m0 4v2m0 1v1m0 2v1m0 3v1m0 23v2m0 4v1m0 71v1m0 2v1m0 5v3m0 1v3m0 5v1m0 18v2M102 4v1m0 2v1m0 7v3m0 11v1m0 2v3m0 20v1m0 95v3m0 4v1m0 12v4m0 11v6m0 21v2M103 33v2m0 4v1m0 6v2m0 14v9m0 9v3m0 16v1m0 17v2m0 2v2m0 31v1m0 9v2m0 8v1M104 18v3m0 2v1m0 14v2m0 5v2m0 1v1m0 1v3m0 9v3m0 39v3m0 10v2m0 34v3m0 3v1m0 11v5m0 4v1m0 4v3m0 14v5M105 17v9m0 3v8m0 86v12m0 3v2m0 3v1m0 12v1m0 13v2m0 9v1m0 6v1m0 1v2m0 14v2m0 4v3M106 10v1m0 4v1m0 9v6m0 3v7m0 42v1m0 22v1m0 1v5m0 20v1m0 9v1m0 1v1m0 1v1m0 15v3m0 4v1m0 4v4m0 8v3m0 20v3M107 12v2m0 1v1m0 4v4m0 7v4m0 84v2m0 10v1m0 3v3m0 1v1m0 6v1M108 21v1m0 89v1m0 1v1m0 20v1m0 18v1m0 47v2M109 4v3m0 6v1m0 33v3m0 6v3m0 64v3m0 1v1m0 1v2m0 3v3m0 19v1m0 1v1m0 11v1m0 24v1M110 20v1m0 2v1m0 9v2m0 92v4m0 2v1m0 25v1m0 20v1m0 24v2M111 28v1m0 8v1m0 2v4m0 12v3m0 40v1m0 2v2m0 14v1m0 2v7m0 5v5m0 2v1m0 7v1m0 7v2m0 20v3M112 4v1m0 3v4m0 1v1m0 1v2m0 5v5m0 25v1m0 67v1m0 20v2m0 10v2m0 17v4m0 16v3m0 5v5M113 2v3m0 33v2m0 1v1m0 17v5m0 2v1m0 7v4m0 15v6m0 9v1m0 4v1m0 8v1m0 6v6m0 5v6m0 3v3m0 5v1m0 18v2m0 8v3m0 2v1m0 1v1m0 13v8M114 19v1m0 11v2m0 7v1m0 1v4m0 11v1m0 29v2m0 11v1m0 13v1m0 10v1m0 11v1m0 8v1m0 13v2m0 3v2m0 11v1m0 7v1m0 6v2m0 12v5M115 1v6m0 4v1m0 3v3m0 6v1m0 2v1m0 10v2m0 16v1m0 53v1m0 7v1m0 3v1m0 2v1m0 17v2m0 4v1m0 6v1m0 11v1m0 23v1M116 4v1m0 46v1m0 50v8m0 12v4m0 3v3m0 27v1m0 3v1m0 6v1m0 12v2M117 12v1m0 6v1m0 15v1m0 21v2m0 56v1m0 4v1m0 5v1m0 43v3m0 12v1m0 1v1m0 15v5M118 7v3m0 12v1m0 12v3m0 16v2m0 69v1m0 12v3m0 3v2m0 6v1m0 4v1m0 2v1m0 1v2m0 5v2m0 1v1m0 6v1m0 6v1m0 1v1m0 10v1m0 2v3m0 4v3M119 18v6m0 6v3m0 10v7m0 3v1m0 35v1m0 31v1m0 16v3m0 25v2M120 1v3m0 3v2m0 2v2m0 5v1m0 4v2m0 5v2m0 12v1m0 7v4m0 33v1m0 3v2m0 33v2m0 21v1m0 7v2m0 3v1M121 10v1m0 14v1m0 3v3m0 4v3m0 1v3m0 3v3m0 42v1m0 7v1m0 42v1m0 14v2m0 4v2m0 2v2m0 9v1m0 6v4m0 3v1m0 8v5M122 4v2m0 14v3m0 8v1m0 54v1m0 2v2m0 5v1m0 1v2m0 2v8m0 22v9m0 44v4m0 17v1M123 5v1m0 9v2m0 3v1m0 7v1m0 4v2m0 2v2m0 12v5m0 30v2m0 12v3m0 23v1m0 7v2m0 2v2m0 9v4m0 17v1m0 1v3m0 5v1m0 7v9m0 12v2M124 28v1m0 89v1m0 1v1m0 21v1m0 17v1m0 1v1m0 41v1m0 3v1M125 7v2m0 6v3m0 2v2m0 2v1m0 10v1m0 5v2m0 8v2m0 44v2m0 24v1m0 10v1m0 12v2m0 1v3m0 29v1m0 9v6m0 4v1M126 19v9m0 9v2m0 101v4m0 13v1m0 6v1m0 3v4m0 8v1m0 12v1m0 5v1M127 8v1m0 18v3m0 5v2m0 10v2m0 1v1m0 2v1m0 32v4m0 15v1m0 6v2m0 7v2m0 3v10m0 12v1m0 1v2m0 1v1m0 5v3m0 2v1m0 44v1M128 16v1m0 2v3m0 35v2m0 26v2m0 21v2m0 14v3m0 6v1m0 16v1m0 3v1m0 27v5m0 12v2m0 1v9M129 15v4m0 21v1m0 11v1m0 17v1m0 6v1m0 24v3m0 16v1m0 7v2m0 10v1m0 3v4m0 5v5m0 3v11m0 12v1m0 3v1m0 5v1m0 7v9M130 16v1m0 6v5m0 2v4m0 16v2m0 19v6m0 22v1m0 4v3m0 2v1m0 11v5m0 3v1m0 11v2m0 18v1m0 30v2m0 2v3m0 1v2m0 5v5m0 2v1M131 4v1m0 11v1m0 4v1m0 11v4m0 39v1m0 27v4m0 2v2m0 11v3m0 32v1m0 2v4m0 1v1m0 1v3m0 42v2M132 16v1m0 17v2m0 1v2m0 13v2m0 33v1m0 14v10m0 19v2m0 12v5m0 2v1m0 6v1m0 23v1m0 1v1m0 6v2m0 10v1m0 5v5M133 15v1m0 1v6m0 5v5m0 1v2m0 3v1m0 31v2m0 33v3m0 4v2m0 1v1m0 2v2m0 3v1m0 6v3m0 1v2m0 11v1m0 2v1m0 2v1m0 2v3m0 10v2m0 13v1m0 8v4m0 4v3m0 2v2M134 0v1m0 17v3m0 2v3m0 12v2m0 3v1m0 6v2m0 3v1m0 3v2m0 6v5m0 31v5m0 3v2m0 7v1m0 2v1m0 1v1m0 8v1m0 3v1m0 3v4m0 4v3m0 3v2m0 27v3m0 3v1m0 3v1m0 15v2M135 4v2m0 9v6m0 11v2m0 7v1m0 10v1m0 51v2m0 21v5m0 2v6m0 1v1m0 1v1m0 13v1m0 6v2m0 2v4m0 8v5m0 10v2m0 13v5M136 0v1m0 14v1m0 16v1m0 12v1m0 2v3m0 41v3m0 27v1m0 9v2m0 2v1m0 6v3m0 16v5m0 4v1m0 5v1m0 8v1m0 24v4M137 0v1m0 1v5m0 2v1m0 5v3m0 2v1m0 2v5m0 2v6m0 6v1m0 88v1m0 15v2m0 4v2m0 16v3m0 2v1m0 3v3m0 19v3m0 3v2M138 4v1m0 27v2m0 3v1m0 96v9m0 30v4m0 1v3m0 6v1m0 4v6m0 1v1m0 1v1M139 17v2m0 9v9m0 98v2m0 10v1m0 13v2m0 9v1m0 14v1m0 13v1m0 6v7M140 6v1m0 12v4m0 19v2m0 9v2m0 31v1m0 30v1m0 2v1m0 4v2m0 50v2m0 8v3m0 8v1m0 6v2M141 9v2m0 21v4m0 9v4m0 6v1m0 2v1m0 40v1m0 13v3m0 4v1m0 31v1m0 1v5m0 3v1m0 1v1m0 9v5m0 22v2m0 11v1M142 16v1m0 4v2m0 20v5m0 6v2m0 3v2m0 9v2m0 14v3m0 5v1m0 1v7m0 3v2m0 46v2m0 7v2m0 13v1m0 5v1m0 7v3m0 3v1m0 4v1m0 5v2m0 2v2M143 0v1m0 1v2m0 1v2m0 5v2m0 8v1m0 10v3m0 6v2m0 12v3m0 26v1m0 3v4m0 1v1m0 2v3m0 2v1m0 23v1m0 11v2m0 5v1m0 3v1m0 8v2m0 2v2m0 10v1m0 10v1M144 16v5m0 6v1m0 3v5m0 5v1m0 6v1m0 6v1m0 3v3m0 3v8m0 38v2m0 36v3m0 5v3m0 40v2M145 16v1m0 2v1m0 29v5m0 2v1m0 4v1m0 30v1m0 22v1m0 10v1m0 29v4m0 14v1m0 17v4m0 2v2m0 1v5M146 6v1m0 1v1m0 3v1m0 9v1m0 11v2m0 4v4m0 54v2m0 25v5m0 7v6m0 27v1m0 8v1m0 5v1m0 4v1m0 13v1m0 9v1M147 0v1m0 7v1m0 6v5m0 2v2m0 12v3m0 8v5m0 7v1m0 52v1m0 3v2m0 4v10m0 1v3m0 4v4m0 3v2m0 4v6m0 2v1m0 5v1m0 1v4m0 9v3m0 10v2m0 10v6M148 13v1m0 5v4m0 14v3m0 4v1m0 79v1m0 9v2m0 7v1m0 5v3m0 9v2m0 2v1m0 3v2m0 25v2m0 2v2m0 2v2m0 5v1m0 2v1M149 9v2m0 2v1m0 33v1m0 58v1m0 9v1m0 14v5m0 7v6m0 14v2m0 1v1m0 5v2m0 7v2M150 6v1m0 19v1m0 17v1m0 6v2m0 15v1m0 43v1m0 6v1m0 11v5m0 11v2m0 2v3m0 2v4m0 16v2m0 6v3m0 1v1m0 3v5m0 15v3M151 9v2m0 8v5m0 1v3m0 4v2m0 1v3m0 6v2m0 19v10m0 43v1m0 11v1m0 1v1m0 1v2m0 3v3m0 4v2m0 6v1m0 5v1m0 12v1m0 1v2m0 5v1m0 19v1M152 6v3m0 8v1m0 4v6m0 3v2m0 83v2m0 16v7m0 23v3m0 8v2m0 2v1m0 10v3m0 10v4M153 3v1m0 2v1m0 3v1m0 4v2m0 14v4m0 13v1m0 6v8m0 32v1m0 7v6m0 11v3m0 2v6m0 5v2m0 10v1m0 1v1m0 2v3m0 11v1m0 3v1m0 2v2m0 30v3M154 7v2m0 2v6m0 3v1m0 13v2m0 5v3m0 28v3m0 3v5m0 24v2m0 17v3m0 8v6m0 12v2m0 9v3m0 1v2m0 4v2m0 12v2m0 4v3m0 4v2m0 5v3m0 1v1M155 0v1m0 5v3m0 1v5m0 4v3m0 16v2m0 2v7m0 25v3m0 5v1m0 19v2m0 1v8m0 1v1m0 7v2m0 9v1m0 15v1m0 19v2m0 16v1m0 3v3m0 2v1m0 1v7m0 3v4M156 0v1m0 9v4m0 8v2m0 19v1m0 3v3m0 2v3m0 23v3m0 9v3m0 21v1m0 5v3m0 1v4m0 12v4m0 7v1m0 3v1m0 24v2m0 17v2m0 8v2M157 0v3m0 2v1m0 26v2m0 4v4m0 48v1m0 1v4m0 2v2m0 12v1m0 2v1m0 5v7m0 1v7m0 8v1m0 5v1m0 15v1m0 23v2m0 1v1m0 4v4m0 5v4M158 0v3m0 18v1m0 16v2m0 9v1m0 36v2m0 13v2m0 6v3m0 13v1m0 2v8m0 8v7m0 3v1m0 28v1m0 2v1m0 2v1M159 7v2m0 4v1m0 68v1m0 5v1m0 10v1m0 13v6m0 1v1m0 7v2m0 11v1m0 2v1m0 8v1m0 8v1m0 6v2m0 8v2m0 7v1m0 6v8M160 1v1m0 1v2m0 13v2m0 12v6m0 14v2m0 30v1m0 8v1m0 60v1m0 1v4m0 2v1m0 6v2m0 3v1m0 3v6m0 10v2M161 14v1m0 27v1m0 1v1m0 38v2m0 1v4m0 5v2m0 6v3m0 17v3m0 24v2m0 28v13m0 4v2M162 0v1m0 3v2m0 9v3m0 12v3m0 2v1m0 2v1m0 1v1m0 3v1m0 39v3m0 37v1m0 11v9m0 7v5m0 5v5m0 28v1m0 6v2M163 24v2m0 2v1m0 13v1m0 1v1m0 34v2m0 26v2m0 47v1m0 2v2m0 4v1m0 23v2m0 4v4m0 3v1m0 3v3M164 4v2m0 9v8m0 6v1m0 4v2m0 1v1m0 3v2m0 35v1m0 1v1m0 29v2m0 10v6m0 4v3m0 49v2m0 22v1m0 1v5M165 37v1m0 71v2m0 6v2m0 2v1m0 1v1m0 2v4m0 6v1m0 5v1m0 4v2m0 8v3m0 7v1m0 8v1m0 6v2m0 8v4m0 11v6M166 17v3m0 18v1m0 66v6m0 4v3m0 49v1m0 12v3m0 11v1m0 2v7M167 6v3m0 2v2m0 3v1m0 9v2m0 1v1m0 6v3m0 10v1m0 2v1m0 27v3m0 26v2m0 6v1m0 3v2m0 18v4m0 1v3m0 3v1m0 1v1m0 5v4m0 20v3m0 6v1m0 2v3m0 4v1M168 3v1m0 4v2m0 20v6m0 1v1m0 12v3m0 26v2m0 25v2m0 1v3m0 9v2m0 17v4m0 7v4m0 1v3m0 11v2m0 4v7m0 5v2m0 6v1m0 5v5M169 4v1m0 17v1m0 2v3m0 9v1m0 14v3m0 33v2m0 10v5m0 9v6m0 39v1m0 20v1m0 27v5M170 10v2m0 10v5m0 18v2m0 1v2m0 44v3m0 7v1m0 31v3m0 10v1m0 8v2m0 1v1m0 24v6m0 2v1m0 9v1m0 6v3M171 1v1m0 2v1m0 1v2m0 9v2m0 24v1m0 49v1m0 44v1m0 11v2m0 34v2m0 12v3m0 10v2M172 44v3m0 3v1m0 51v10m0 4v1m0 2v1m0 4v1m0 5v1m0 8v2m0 2v6m0 2v2m0 4v2m0 32v3m0 2v1m0 10v1M173 10v2m0 1v1m0 16v1m0 3v1m0 7v1m0 6v2m0 27v3m0 27v2m0 6v1m0 6v1m0 4v1m0 5v1m0 1v3m0 2v4m0 10v1m0 1v3m0 1v3m0 2v2m0 15v1m0 6v1m0 4v3m0 9v1m0 5v2M174 8v1m0 29v1m0 1v2m0 15v8m0 3v15m0 38v1m0 2v2m0 5v5m0 1v1m0 18v2m0 22v1m0 8v1m0 3v3m0 2v4M175 0v1m0 10v1m0 17v2m0 4v1m0 1v1m0 6v1m0 11v8m0 5v9m0 17v2m0 32v2m0 2v1m0 5v1m0 4v2m0 46v3m0 11v5M176 3v1m0 12v1m0 9v1m0 4v6m0 43v2m0 7v1m0 23v1m0 10v2m0 2v1m0 10v1m0 11v5m0 1v4m0 37v1m0 9v4M177 7v1m0 14v1m0 14v1m0 7v3m0 3v2m0 98v3m0 15v3m0 16v4m0 1v6m0 4v3m0 6v1M178 0v1m0 27v3m0 4v2m0 3v2m0 1v1m0 36v1m0 1v1m0 24v3m0 18v1m0 24v3m0 4v2m0 24v2m0 1v2m0 20v3M179 106v3m0 2v2m0 31v3m0 4v2m0 27v1m0 11v1m0 1v1m0 5v1m0 4v1M180 19v2m0 1v2m0 3v4m0 2v4m0 1v1m0 3v2m0 6v4m0 48v9m0 3v3m0 7v1m0 14v2m0 3v6m0 4v2m0 25v1m0 5v2m0 21v2M181 5v3m0 13v1m0 16v2m0 1v4m0 7v4m0 24v2m0 40v3m0 3v1m0 10v7m0 3v1m0 19v4m0 19v2m0 10v1m0 3v1M182 36v2m0 7v2m0 1v1m0 33v1m0 27v1m0 2v1m0 6v1m0 9v4m0 8v9m0 8v2m0 13v3m0 3v3m0 13v4m0 4v3M183 2v1m0 14v1m0 2v2m0 21v5m0 43v3m0 6v1m0 2v1m0 5v4m0 8v4m0 8v1m0 6v1m0 5v4m0 16v2m0 12v1m0 2v1m0 23v1M184 12v1m0 5v2m0 2v1m0 23v2m0 1v1m0 31v1m0 6v2m0 2v2m0 19v4m0 5v1m0 20v2m0 5v1m0 18v3m0 5v2m0 10v1m0 11v2m0 3v1M185 7v1m0 12v1m0 1v6m0 5v3m0 3v1m0 6v1m0 2v3m0 1v2m0 31v1m0 17v2m0 4v3m0 3v1m0 9v4m0 14v3m0 2v11m0 5v3m0 6v1m0 1v4m0 12v3m0 10v1m0 4v5M186 9v1m0 13v1m0 11v3m0 68v4m0 7v1m0 35v1m0 13v1m0 39v3m0 4v1M187 5v2m0 7v1m0 7v9m0 50v2m0 10v1m0 5v1m0 10v1m0 3v2m0 6v11m0 1v4m0 1v10m0 4v3m0 2v2m0 20v2m0 3v1m0 5v1m0 10v2m0 9v2M188 8v1m0 7v3m0 15v3m0 63v3m0 9v1m0 8v6m0 1v2m0 1v1m0 20v1m0 1v2m0 3v1m0 1v2m0 5v1m0 12v1m0 5v3m0 9v2m0 1v1m0 1v2m0 1v4M189 4v2m0 3v1m0 26v4m0 38v5m0 19v1m0 8v1m0 6v2m0 9v5m0 2v1m0 4v4m0 15v2m0 19v1m0 2v1m0 1v3m0 9v2m0 8v1M190 9v1m0 13v2m0 17v1m0 37v2m0 7v1m0 15v3m0 1v4m0 12v1m0 16v4m0 8v1m0 25v4m0 16v1m0 3v10M191 2v5m0 10v3m0 11v4m0 18v1m0 1v1m0 62v2m0 39v1m0 7v2m0 11v4m0 2v5m0 1v2m0 1v7m0 1v1M192 6v2m0 8v1m0 5v5m0 53v1m0 40v7m0 1v6m0 11v1m0 19v2m0 36v1m0 6v1m0 1v2M193 0v1m0 21v2m0 56v3m0 69v1m0 1v3m0 3v1m0 1v6m0 1v4m0 6v1m0 26v3M194 16v1m0 2v2m0 8v1m0 2v1m0 70v1m0 5v3m0 38v2m0 1v1m0 1v5m0 18v3m0 13v2m0 15v1m0 2v1M195 31v4m0 3v2m0 13v2m0 25v3m0 33v1m0 26v1m0 2v2m0 7v1m0 7v2m0 4v1m0 1v2m0 5v3m0 2v1m0 9v1m0 4v3m0 2v4m0 7v1M196 2v2m0 15v3m0 19v4m0 4v1m0 51v2m0 26v1m0 2v1m0 2v6m0 1v4m0 10v4m0 18v1m0 26v1M197 0v4m0 18v1m0 11v2m0 2v2m0 10v1m0 1v2m0 21v8m0 9v3m0 6v1m0 2v2m0 7v1m0 3v1m0 11v2m0 6v1m0 14v3m0 1v2m0 25v2m0 3v1m0 6v7m0 7v4m0 1v1M198 10v2m0 13v3m0 4v1m0 3v2m0 1v1m0 11v2m0 26v1m0 2v1m0 27v3m0 8v1m0 1v1m0 25v1m0 3v1m0 1v1m0 10v2m0 1v2m0 8v2m0 5v3m0 8v3m0 6v3m0 2v2M199 38v2m0 6v1m0 16v1m0 38v5m0 3v1m0 8v2m0 8v1m0 20v1m0 5v1m0 1v2m0 1v2m0 13v5M200 0v1m0 6v1m0 19v1m0 3v2m0 11v5m0 5v1m0 27v5m0 34v1m0 2v3m0 13v1m0 10v3m0 7v1m0 7v4m0 5v7m0 8v2m0 11v5m0 2v2M201 4v5m0 2v2m0 5v1m0 5v1m0 28v2m0 43v1m0 16v3m0 32v1m0 17v1m0 1v1M202 3v1m0 11v4m0 5v2m0 22v5m0 60v1m0 3v1m0 35v2m0 1v2m0 2v1m0 1v1m0 16v3m0 24v1m0 1v3m0 3v1M203 3v4m0 2v2m0 9v1m0 3v1m0 4v1m0 11v1m0 7v1m0 46v2m0 15v1m0 3v1m0 6v1m0 29v2m0 2v8m0 3v5m0 2v1m0 2v3m0 26v2m0 3v2M204 2v1m0 5v1m0 7v1m0 8v1m0 1v2m0 3v3m0 3v2m0 14v1m0 27v6m0 7v1m0 21v4m0 30v3m0 9v1m0 31v5m0 4v1m0 2v1M205 15v8m0 1v1m0 10v7m0 46v1m0 24v1m0 24v1m0 4v2m0 13v1m0 4v2m0 3v1m0 10v5m0 9v9m0 11v1M206 74v2m0 2v1m0 8v1m0 50v2m0 8v1m0 7v1m0 3v2m0 4v3m0 3v1m0 3v1m0 11v4m0 17v3M207 11v1m0 1v1m0 3v3m0 22v1m0 38v4m0 29v8m0 7v4m0 18v3m0 6v1m0 7v1m0 6v1m0 7v1m0 8v6m0 3v1m0 11v2M208 11v2m0 14v2m0 9v2m0 6v2m0 1v1m0 2v2m0 60v3m0 2v1m0 4v1m0 15v3m0 9v1m0 6v1m0 4v1m0 13v3m0 3v1M209 3v2m0 9v1m0 20v1m0 28v2m0 14v2m0 8v2m0 22v3m0 4v1m0 14v2m0 5v1m0 1v1m0 3v1m0 3v4m0 5v2m0 1v4m0 18v2m0 5v3m0 3v1m0 7v4M210 43v1m0 6v4m0 1v9m0 4v3m0 4v2m0 9v1m0 11v2m0 14v1m0 17v1m0 16v6m0 1v4m0 11v1m0 18v3M211 14v1m0 1v3m0 24v4m0 5v1m0 3v2m0 20v2m0 8v3m0 19v3m0 4v1m0 5v1m0 7v1m0 19v2m0 5v1m0 4v1m0 4v1m0 7v3m0 4v3m0 3v1m0 2v4M212 25v1m0 15v2m0 8v1m0 22v3m0 4v1m0 23v3m0 7v4m0 1v1m0 20v1m0 2v5m0 1v2m0 4v1m0 6v1m0 4v2m0 8v9m0 13v1m0 4v1M213 6v1m0 16v3m0 3v2m0 9v2m0 4v2m0 42v4m0 18v1m0 31v5m0 8v2m0 5v5m0 6v1m0 2v6m0 9v6m0 7v2m0 4v1M214 7v2m0 5v1m0 12v1m0 3v1m0 8v1m0 3v3m0 33v7m0 1v1m0 5v6m0 20v1m0 7v4m0 10v2m0 18v1m0 6v2m0 9v2m0 8v2m0 3v1m0 2v1m0 9v2M215 12v2m0 8v1m0 6v2m0 15v1m0 9v4m0 3v9m0 12v1m0 8v2m0 18v4m0 4v1m0 25v2M216 13v1m0 29v3m0 12v2m0 19v3m0 28v1m0 12v4m0 5v3m0 17v1m0 1v2m0 9v4m0 7v2m0 13v5m0 15v1m0 2v1M217 0v1m0 6v2m0 6v2m0 33v1m0 27v8m0 21v1m0 6v1m0 1v1m0 36v1m0 1v1m0 4v3m0 3v1m0 1v1m0 37v4M218 4v2m0 7v1m0 22v2m0 3v2m0 13v1m0 4v17m0 8v3m0 13v2m0 5v2m0 2v1m0 9v1m0 2v16m0 19v1m0 4v3m0 12v1m0 6v4m0 10v1m0 6v5M219 8v1m0 10v4m0 23v1m0 8v1m0 8v4m0 69v3m0 7v2m0 2v1m0 3v2m0 2v1m0 9v4m0 9v1m0 6v4m0 7v2m0 5v5M220 2v3m0 4v2m0 3v1m0 23v1m0 87v3m0 5v1m0 2v2m0 10v1m0 19v7m0 1v3m0 12v5m0 6v1M221 0v2m0 5v2m0 15v1m0 23v1m0 5v1m0 23v3m0 1v2m0 6v1m0 2v1m0 2v2m0 10v3m0 7v1m0 4v3m0 8v2m0 2v3m0 11v3m0 1v1m0 3v3m0 5v1m0 6v2m0 12v3m0 1v3m0 6v2M222 0v5m0 3v1m0 6v2m0 12v2m0 82v1m0 2v1m0 7v3m0 14v5m0 5v4m0 3v1m0 6v1m0 5v1m0 9v1m0 5v2m0 5v8m0 1v1m0 4v4M223 8v1m0 6v1m0 36v1m0 3v2m0 4v1m0 13v2m0 11v7m0 16v1m0 2v1m0 42v2m0 6v1m0 7v1m0 7v6m0 1v2m0 9v4M224 49v2m0 34v2m0 12v2m0 12v1m0 38v3m0 4v1m0 4v1m0 1v1m0 32v2m0 12v1M225 1v2m0 17v1m0 25v3m0 32v7m0 2v1m0 22v4m0 32v1m0 7v3m0 24v1m0 11v2m0 7v4m0 2v1M226 5v1m0 7v1m0 7v4m0 29v1m0 24v1m0 7v2m0 8v1m0 1v1m0 3v1m0 9v1m0 4v2m0 22v1m0 6v2m0 17v1m0 7v1m0 3v3m0 5v5m0 20v1M227 1v2m0 13v5m0 3v1m0 7v2m0 12v4m0 28v3m0 4v1m0 4v1m0 17v3m0 6v1m0 50v1m0 3v2m0 7v1m0 7v3m0 5v1m0 2v1M228 5v3m0 7v1m0 5v1m0 2v2m0 1v10m0 29v1m0 7v1m0 46v5m0 34v5m0 36v2m0 5v1M229 2v4m0 34v3m0 13v1m0 6v15m0 67v2m0 7v1m0 4v1m0 20v1m0 9v5m0 5v1m0 12v2M230 14v1m0 1v1m0 5v1m0 9v1m0 2v1m0 1v2m0 8v3m0 3v2m0 12v7m0 15v1m0 9v1m0 26v3m0 4v2m0 14v3m0 4v1m0 26v9m0 4v1m0 4v1M231 29v4m0 15v1m0 14v2m0 10v3m0 20v2m0 16v1m0 10v1m0 14v3m0 12v2m0 3v1m0 1v1m0 3v1m0 4v4m0 3v2m0 12v7M232 2v3m0 3v4m0 4v3m0 14v1m0 1v2m0 2v1m0 1v1m0 2v1m0 10v2m0 46v3m0 3v4m0 4v2m0 16v10m0 17v6m0 24v1m0 1v7m0 5v1m0 7v1M233 9v1m0 6v1m0 2v1m0 5v3m0 8v2m0 67v1m0 8v1m0 39v1m0 3v1m0 9v1m0 6v2m0 8v2m0 11v4M234 14v1m0 3v4m0 8v1m0 2v1m0 2v2m0 2v1m0 7v1m0 50v1m0 4v6m0 45v1m0 1v1m0 11v1m0 7v2m0 3v4m0 6v4m0 3v2m0 4v5M235 0v1m0 5v2m0 4v3m0 2v2m0 3v2m0 6v2m0 6v2m0 5v1m0 2v2m0 4v2m0 6v5m0 4v7m0 26v2m0 11v2m0 11v1m0 19v2m0 5v2m0 35v2m0 11v2m0 1v3M236 26v3m0 8v3m0 1v2m0 15v4m0 17v4m0 1v3m0 10v3m0 14v1m0 5v1m0 16v2m0 11v5m0 10v4M237 34v1m0 2v3m0 2v1m0 13v6m0 1v4m0 3v1m0 24v1m0 8v2m0 1v1m0 5v1m0 14v5m0 16v1m0 6v4m0 6v3m0 1v1m0 6v2m0 6v1m0 10v4m0 2v1m0 11v1M238 17v1m0 9v6m0 7v1m0 15v2m0 1v17m0 5v5m0 27v2m0 6v1m0 14v2m0 14v2m0 3v1m0 20v1m0 8v1m0 16v4M239 0v3m0 8v9m0 9v3m0 3v3m0 4v4m0 7v1m0 68v7m0 5v1m0 7v4m0 15v3m0 1v3m0 20v1m0 12v5m0 3v2M240 11v1m0 5v1m0 6v1m0 10v4m0 17v10m0 19v1m0 14v6m0 8v1m0 4v2m0 1v5m0 1v9m0 12v1m0 13v2m0 6v1m0 6v1m0 4v4m0 10v4M241 0v1m0 17v9m0 5v6m0 5v1m0 5v2m0 4v1m0 50v4m0 3v1m0 5v1m0 3v2m0 25v1m0 11v2m0 4v1m0 9v1m0 25v2m0 5v3M242 16v4m0 5v1m0 11v3m0 13v1m0 1v1m0 49v2m0 1v1m0 40v1m0 50v1m0 11v1M243 9v3m0 12v3m0 10v2m0 3v1m0 7v2m0 23v4m0 5v3m0 5v5m0 6v6m0 8v2m0 43v2m0 3v2m0 6v3m0 21v5m0 1v2m0 4v1M244 10v3m0 2v1m0 1v1m0 30v3m0 28v1m0 2v7m0 1v10m0 4v1m0 1v1m0 9v2m0 2v1m0 29v1m0 18v3m0 9v4m0 6v2m0 4v2m0 15v1M245 9v2m0 3v1m0 1v5m0 1v2m0 5v3m0 5v3m0 9v1m0 2v3m0 45v1m0 13v1m0 34v1m0 5v1m0 2v2m0 2v5m0 1v1m0 35v2m0 4v1M246 3v2m0 3v2m0 4v3m0 13v2m0 4v1m0 17v1m0 51v1m0 3v1m0 2v1m0 11v3m0 5v5m0 14v1m0 6v1m0 18v1m0 10v3m0 20v3M247 0v1m0 3v1m0 13v2m0 5v4m0 2v2m0 1v3m0 2v1m0 13v1m0 47v1m0 4v1m0 45v3m0 3v2m0 1v1m0 3v6m0 5v1m0 15v1m0 12v1m0 5v2M248 18v3m0 12v1m0 44v1m0 4v6m0 1v3m0 15v2m0 6v5m0 38v1m0 18v2m0 5v2m0 9v1M249 0v4m0 11v2m0 3v1m0 12v1m0 21v1m0 39v2m0 16v1m0 1v1m0 1v2m0 41v3m0 11v1m0 10v4m0 2v1m0 2v1m0 2v1m0 2v4M250 11v4m0 1v3m0 11v3m0 3v2m0 6v1m0 5v4m0 2v9m0 13v2m0 9v3m0 24v3m0 5v4m0 6v2m0 16v1m0 4v2m0 16v1m0 7v4m0 2v1m0 1v4m0 3v3M251 0v2m0 9v1m0 13v1m0 7v1m0 21v1m0 26v4m0 4v3m0 3v2m0 15v1m0 1v2m0 6v1m0 3v1m0 5v3m0 9v2m0 4v2m0 1v1m0 1v1m0 5v1m0 17v1M252 4v3m0 10v2m0 3v8m0 3v2m0 3v2m0 31v4m0 3v3m0 2v3m0 6v1m0 3v4m0 1v2m0 10v1m0 18v4m0 23v5M253 0v1m0 20v2m0 11v1m0 5v3m0 12v3m0 3v9m0 13v8m0 4v1m0 17v1m0 6v1m0 18v1m0 19v1m0 17v2m0 5v3m0 18v3M254 15v2m0 48v5m0 19v1m0 8v4m0 2v3m0 1v3m0 7v1m0 1v1m0 7v1m0 15v2m0 16v2m0 7v1m0 16v2m0 11v3m0 8v3M255 13v1m0 1v2m0 6v1m0 4v2m0 6v2m0 40v1m0 3v1m0 36v2m0 3v1m0 10v1m0 3v2m0 32v3M256 32v4m0 14v2m0 26v4m0 8v2m0 26v2m0 16v3m0 23v5m0 13v2M257 18v4m0 1v1m0 16v1m0 1v1m0 4v1m0 37v2m0 8v1m0 21v2m0 3v1m0 16v2m0 1v1m0 15v1m0 17v5m0 8v6m0 5v5m0 3v1m0 2v1M258 3v2m0 3v2m0 27v3m0 4v1m0 10v1m0 44v6m0 1v2m0 2v2m0 4v3m0 1v2m0 17v2m0 1v1m0 38v1m0 2v3m0 24v2M259 15v2m0 2v2m0 18v5m0 34v2m0 4v2m0 33v1m0 5v9m0 24v1m0 1v2m0 20v1m0 5v3m0 7v1M260 2v3m0 32v1m0 18v3m0 18v1m0 2v5m0 3v1m0 25v4m0 3v6m0 31v2m0 16v7m0 14v2m0 1v2m0 1v3m0 7v2M261 0v4m0 3v2m0 2v4m0 6v3m0 21v2m0 2v2m0 2v1m0 29v3m0 17v5m0 7v1m0 8v2m0 12v6m0 14v1m0 5v2m0 4v1m0 2v3m0 7v2m0 9v1m0 2v1m0 3v1m0 10v1M262 1v1m0 7v2m0 5v1m0 2v2m0 5v3m0 11v2m0 37v2m0 19v1m0 35v4m0 18v1m0 2v3m0 12v2m0 1v2m0 2v2m0 28v1M263 1v1m0 1v1m0 7v1m0 26v2m0 1v3m0 17v5m0 3v2m0 11v2m0 18v2m0 54v4m0 1v4m0 2v2m0 2v3m0 8v1m0 4v2m0 2v5m0 4v4M264 0v3m0 9v1m0 3v1m0 2v2m0 10v4m0 8v1m0 2v2m0 9v4m0 8v1m0 3v4m0 5v4m0 4v2m0 2v3m0 1v1m0 60v1m0 7v1m0 1v1m0 7v2m0 15v4m0 10v1M265 0v1m0 16v1m0 3v1m0 9v1m0 12v1m0 4v1m0 12v5m0 8v2m0 10v5m0 11v1m0 1v2m0 13v1m0 12v3m0 25v1m0 2v1m0 2v3m0 3v2m0 1v2m0 2v1m0 5v7M266 0v3m0 2v3m0 13v2m0 4v2m0 4v3m0 1v3m0 14v1m0 1v10m0 2v4m0 12v3m0 1v1m0 1v3m0 3v4m0 16v2m0 25v3m0 42v2m0 11v3M267 23v2m0 1v3m0 4v1m0 6v2m0 12v1m0 26v1m0 10v2m0 1v5m0 15v1m0 2v1m0 5v1m0 39v2m0 1v2m0 1v2m0 26v6M268 4v1m0 10v2m0 23v3m0 15v3m0 18v1m0 10v3m0 27v2m0 33v1m0 3v2m0 27v2m0 5v3m0 5v2m0 4v1m0 3v2M269 8v2m0 9v1m0 9v2m0 7v1m0 11v2m0 7v10m0 2v1m0 6v4m0 5v1m0 25v2m0 5v6m0 19v1m0 3v1m0 19v3m0 9v3m0 12v1m0 10v2m0 1v2M270 5v1m0 9v2m0 5v9m0 23v1m0 17v2m0 1v3m0 1v2m0 4v3m0 3v3m0 1v5m0 7v5m0 9v2m0 12v2m0 3v1m0 9v1m0 5v2m0 15v5m0 1v4m0 15v3M271 2v2m0 19v1m0 16v2m0 8v1m0 5v4m0 6v6m0 6v1m0 12v3m0 19v3m0 10v2m0 13v1m0 18v1m0 11v1m0 3v1m0 11v2m0 23v2M272 16v1m0 24v4m0 8v1m0 20v4m0 13v3m0 1v2m0 25v2m0 16v2m0 32v5m0 8v2m0 5v1M273 1v2m0 2v5m0 2v1m0 7v3m0 5v1m0 7v1m0 10v2m0 3v4m0 65v5m0 11v3m0 9v4m0 1v2m0 2v1m0 37v2m0 9v3m0 3v1M274 0v3m0 8v1m0 5v1m0 3v1m0 34v2m0 4v16m0 21v1m0 15v4m0 6v1m0 1v2m0 8v4m0 1v7m0 4v1m0 8v1m0 4v1m0 4v1m0 2v4m0 19v1m0 4v5M275 0v3m0 35v1m0 1v1m0 5v1m0 3v2m0 36v1m0 11v1m0 2v4m0 9v1m0 3v4m0 5v1m0 18v1m0 4v1m0 2v1m0 11v2m0 1v3m0 4v1m0 11v1M276 13v2m0 5v1m0 2v1m0 2v1m0 15v5m0 6v2m0 37v3m0 3v10m0 9v1m0 3v3m0 1v11m0 2v3m0 28v1m0 28v1m0 2v1m0 3v5M277 0v1m0 1v1m0 21v6m0 3v2m0 18v2m0 9v5m0 2v7m0 15v2m0 13v3m0 3v1m0 2v2m0 12v1m0 2v2m0 22v6m0 3v1m0 42v2m0 2v1M278 3v1m0 13v2m0 6v1m0 4v1m0 5v1m0 15v3m0 3v8m0 6v6m0 28v2m0 14v1m0 32v1m0 5v1m0 1v1m0 12v1m0 19v2m0 2v2m0 6v1M279 8v1m0 17v2m0 4v2m0 33v4m0 10v4m0 1v4m0 8v1m0 2v3m0 14v2m0 3v2m0 1v3m0 7v4m0 3v3m0 1v2m0 11v4m0 4v1m0 19v2m0 3v1m0 5v2m0 1v7m0 1v5M280 2v1m0 31v1m0 21v3m0 16v3m0 15v3m0 3v6m0 2v1m0 8v1m0 9v1m0 8v2m0 16v3m0 5v1m0 2v1m0 14v1m0 10v3m0 9v2m0 7v4M281 0v2m0 19v1m0 4v3m0 15v1m0 4v1m0 4v2m0 22v1m0 2v3m0 8v3m0 22v4m0 27v1m0 12v1m0 1v2m0 1v3m0 2v1m0 12v3m0 3v3m0 3v3m0 1v1m0 6v8M282 3v3m0 2v1m0 2v1m0 3v2m0 5v2m0 1v2m0 4v1m0 9v1m0 3v2m0 7v2m0 22v4m0 3v3m0 31v1m0 33v1m0 23v1m0 11v2m0 5v2m0 4v2m0 3v1m0 5v1M283 12v2m0 22v1m0 17v1m0 45v3m0 5v2m0 3v6m0 20v2m0 22v4m0 2v1m0 12v7m0 2v1m0 3v4m0 4v1M284 6v3m0 3v1m0 6v5m0 19v1m0 5v3m0 3v1m0 30v1m0 33v1m0 18v3m0 22v4m0 4v1m0 6v3m0 3v1M285 3v2m0 41v1m0 8v1m0 36v2m0 1v2m0 2v1m0 13v2m0 1v2m0 6v4m0 2v1m0 27v2m0 5v2m0 6v2M286 7v1m0 7v1m0 2v3m0 18v1m0 8v1m0 29v2m0 11v2m0 34v7m0 8v1m0 6v3m0 4v2m0 1v1m0 7v1M287 0v2m0 46v2m0 2v1m0 25v2m0 13v7m0 3v1m0 9v3m0 1v1m0 8v2m0 5v3m0 2v1m0 8v1m0 21v2M288 31v2m0 8v2m0 4v1m0 1v1m0 23v5m0 13v2m0 1v3m0 31v5m0 9v2m0 2v3m0 13v2m0 11v3m0 24v2M289 9v2m0 33v1m0 6v1m0 28v9m0 3v1m0 2v2m0 1v1m0 11v2m0 7v1m0 8v3m0 1v5m0 5v1m0 10v6m0 4v2m0 3v2m0 2v1m0 6v2m0 9v1m0 15v2M290 7v1m0 2v3m0 31v1m0 12v3m0 12v5m0 18v1m0 40v7m0 6v2m0 18v1m0 19v1m0 24v1M291 12v1m0 37v1m0 32v2m0 10v4m0 4v1m0 9v3m0 1v2m0 2v1m0 3v16m0 7v1m0 20v5m0 3v2M292 15v1m0 16v6m0 43v1m0 5v2m0 13v1m0 8v2m0 50v1m0 10v1m0 1v2m0 5v3m0 5v1m0 11v1M293 7v1m0 7v2m0 13v3m0 6v1m0 3v2m0 1v2m0 15v4m0 3v8m0 2v1m0 6v3m0 24v1m0 4v2m0 1v1m0 2v7m0 1v3m0 15v1m0 48v2m0 1v1m0 10v1M294 44v1m0 6v1m0 3v1m0 22v1m0 17v4m0 16v1m0 3v1m0 29v1m0 1v1m0 9v1m0 6v1m0 5v1m0 2v1m0 19v2M295 3v1m0 6v2m0 3v1m0 28v1m0 9v1m0 2v2m0 45v1m0 8v2m0 22v1m0 14v1m0 7v3m0 26v2M296 2v2m0 12v1m0 22v1m0 3v2m0 5v1m0 12v5m0 11v5m0 58v4m0 2v1m0 11v2m0 2v5m0 3v1m0 2v5m0 25v4M297 4v1m0 8v2m0 27v4m0 5v1m0 4v5m0 4v5m0 6v2m0 7v1m0 32v1m0 2v1m0 4v1m0 4v3m0 3v6m0 1v2m0 5v3m0 6v2m0 1v1m0 5v7m0 25v1m0 3v2M298 1v1m0 46v2m0 2v1m0 3v2m0 4v15m0 6v1m0 35v1m0 51v1m0 2v1m0 6v2m0 3v2m0 10v11m0 1v4M299 2v3m0 1v3m0 2v2m0 36v1m0 5v1m0 22v2m0 12v1m0 4v1m0 7v3m0 4v1m0 1v3m0 3v2m0 18v3m0 12v1m0 2v1m0 3v3m0 24v3m0 13v1M300 9v2m0 18v1m0 10v3m0 2v1m0 39v2m0 7v1m0 19v1m0 29v3m0 10v11m0 7v1m0 4v1m0 2v3m0 9v1m0 9v1m0 4v5M301 12v3m0 21v3m0 44v7m0 3v4m0 10v4m0 16v1m0 13v1m0 11v3m0 4v2m0 6v1m0 12v4m0 10v1m0 5v1M302 4v2m0 3v1m0 5v1m0 7v5m0 4v4m0 6v1m0 4v3m0 29v2m0 21v1m0 16v2m0 35v1m0 11v1m0 29v3m0 4v1" stroke="#bdd9ed" stroke-width="1.03" fill="none"/>
<path transform="translate(0.5,0)" d="M0 6v1m0 1v1m0 10v1m0 6v1m0 9v1m0 2v1m0 10v1m0 105v1M1 14v1m0 18v1m0 12v3m0 4v1m0 42v1m0 48v4m0 9v2m0 38v1M2 2v2m0 16v3m0 15v2m0 81v2m0 35v2M3 13v2m0 29v1m0 5v1m0 2v1m0 2v3m0 57v2m0 35v1m0 3v1m0 1v2m0 9v2m0 11v2m0 2v2m0 1v2m0 9v2m0 1v4M4 49v3m0 65v1m0 31v2m0 26v1m0 6v1m0 8v3M5 100v5m0 7v1m0 21v2m0 13v1m0 6v1m0 6v2m0 33v2M6 1v1m0 1v2m0 7v1m0 11v1m0 15v1m0 1v5m0 52v1m0 4v3m0 13v1m0 30v1m0 6v1m0 7v1m0 37v1M7 27v2m0 15v1m0 1v1m0 3v1m0 49v1m0 56v3m0 7v1m0 24v3m0 3v1m0 12v1M8 5v2m0 2v3m0 28v1m0 114v1m0 24v2M9 119v1m0 30v2m0 3v3m0 13v2m0 7v1M10 31v1m0 2v6m0 15v1m0 48v1m0 44v1m0 6v2m0 7v2m0 19v2M11 17v6m0 30v2m0 51v1m0 21v1m0 13v2m0 4v1m0 13v1m0 2v1m0 6v1m0 4v3m0 8v1m0 7v3M12 0v1m0 23v2m0 8v1m0 4v1m0 2v1m0 59v2m0 46v3m0 6v1m0 4v1M13 21v1m0 20v2m0 55v1m0 4v1m0 6v2m0 26v3m0 35v5m0 9v5M14 5v2m0 45v2m0 34v5m0 12v1m0 2v2m0 5v2m0 32v1m0 2v1m0 15v10M15 53v1m0 69v4m0 11v1m0 10v1m0 1v1m0 2v1m0 3v2m0 4v3m0 4v4m0 7v11m0 6v3m0 3v1m0 4v5M16 3v7m0 69v1m0 25v1m0 4v2m0 10v1m0 1v1m0 17v1m0 7v2m0 17v2m0 8v1m0 3v3M17 1v2m0 7v1m0 34v1m0 79v1m0 15v1m0 10v1m0 11v2m0 6v4m0 1v6m0 3v4m0 4v4m0 8v1m0 4v1M18 12v2m0 26v1m0 67v1m0 19v2m0 1v2m0 5v3m0 4v2m0 15v1m0 4v3m0 10v1m0 6v1m0 8v4m0 7v1M19 114v1m0 7v3m0 13v2m0 1v2m0 6v2M20 12v1m0 3v5m0 28v1m0 17v1m0 50v3m0 10v1m0 17v1m0 21v1M21 3v1m0 27v4m0 167v1M22 10v1m0 3v1m0 31v2m0 30v1m0 40v2M23 14v1m0 17v1m0 92v1m0 10v1m0 4v2m0 7v3m0 17v4M24 16v2m0 99v2m0 58v3M25 117v1m0 22v2m0 44v1M26 10v1m0 10v2m0 11v2m0 8v1m0 75v1m0 6v1m0 63v1M27 4v3m0 44v1m0 4v1m0 89v1m0 2v1m0 1v1m0 2v1m0 4v1M28 9v1m0 35v1m0 2v1m0 106v1m0 37v1M29 2v1m0 24v1m0 22v4m0 67v1m0 7v2m0 3v1m0 14v1M30 24v1m0 48v1m0 10v1m0 28v1m0 7v2m0 34v1m0 1v1m0 11v1M31 2v1m0 10v1m0 42v3m0 70v1m0 1v5m0 12v1M32 52v2m0 62v1m0 5v2m0 8v4m0 11v3M33 0v2m0 46v4m0 64v5m0 23v1m0 2v2M34 67v2m0 45v2M35 0v2m0 3v1m0 11v1m0 9v2m0 1v5m0 1v2m0 14v2m0 23v1m0 76v2m0 26v5M36 1v1m0 19v1m0 11v2m0 1v1m0 8v3m0 57v1M37 0v1m0 13v1m0 2v1m0 3v3m0 73v1M38 9v2m0 6v4m0 1v1m0 114v1m0 32v1M39 9v1m0 16v1m0 18v2m0 7v2m0 111v3m0 4v1m0 1v1m0 8v1m0 5v1M40 5v1m0 6v2m0 5v4m0 2v3m0 2v2m0 36v10m0 22v1m0 59v2m0 24v6M41 5v1m0 4v3m0 9v4m0 116v1m0 7v2m0 5v2m0 8v5m0 9v1m0 19v2m0 4v3M42 4v1m0 1v3m0 6v1m0 11v2m0 13v1m0 10v1m0 1v1m0 6v8m0 5v3m0 72v2m0 11v2M43 43v1m0 11v1m0 45v3m0 31v10m0 5v1m0 7v2m0 4v2m0 2v7m0 10v3M44 0v1m0 14v1m0 16v4m0 1v2m0 1v1m0 7v2m0 5v1m0 52v2m0 2v1m0 36v1m0 13v2m0 8v1m0 6v4m0 3v3m0 10v5M45 18v2m0 21v3m0 11v1m0 53v2m0 16v2m0 10v2m0 1v2m0 7v1m0 4v4m0 21v5M46 8v2m0 5v1m0 17v2m0 94v1m0 4v1m0 21v4M47 1v1m0 11v2m0 8v1m0 20v5m0 31v1m0 39v1m0 16v1m0 14v2M48 23v1m0 3v4m0 11v3m0 10v1m0 32v5m0 11v4m0 20v2m0 5v5m0 9v2m0 4v1M49 5v1m0 3v1m0 41v3m0 32v1m0 8v2m0 17v4m0 1v2m0 40v4m0 2v1m0 8v3m0 19v7M50 1v1m0 37v1m0 4v1m0 7v2m0 2v3m0 17v1m0 49v1m0 3v1m0 6v5m0 6v1m0 1v2m0 35v1m0 2v1M51 0v1m0 6v1m0 5v2m0 5v4m0 12v3m0 5v7m0 4v1m0 15v1m0 2v3m0 1v3m0 3v3m0 6v2m0 5v2m0 10v1m0 6v1m0 9v8m0 20v2m0 15v2m0 6v9m0 15v2m0 5v2M52 49v1m0 34v1m0 3v1m0 4v5m0 22v1m0 11v4m0 26v3m0 2v1m0 3v1m0 1v1m0 8v8m0 8v2M53 8v1m0 7v1m0 3v2m0 7v1m0 48v3m0 1v7m0 11v3m0 18v1m0 27v1m0 6v2m0 20v3m0 8v5m0 1v2M54 14v1m0 5v4m0 3v2m0 8v2m0 74v1m0 16v2m0 10v1m0 1v4m0 38v1m0 6v2M55 3v1m0 5v1m0 21v1m0 18v2m0 2v2m0 35v7m0 4v2m0 13v1m0 20v3m0 5v3m0 14v5m0 11v1m0 11v1m0 2v3m0 6v1m0 3v1m0 3v1M56 105v6m0 11v5m0 4v4m0 36v1m0 10v5M57 17v2m0 5v3m0 7v2m0 3v2m0 4v2m0 4v2m0 29v2m0 39v2m0 17v2m0 5v1m0 36v3m0 9v2M58 2v2m0 28v1m0 20v2m0 41v2m0 9v4m0 13v1m0 8v2m0 10v2m0 1v3m0 5v1M59 1v1m0 21v1m0 10v2m0 3v1m0 2v2m0 73v1m0 4v1m0 12v10m0 6v2m0 16v1m0 15v2M60 26v2m0 11v1m0 13v1m0 111v2m0 3v3m0 10v1m0 21v1M61 6v1m0 5v3m0 2v1m0 13v4m0 19v1m0 31v1m0 20v1m0 25v2m0 17v1M62 12v2m0 30v1m0 47v4m0 13v1m0 40v2m0 6v1M63 10v2m0 20v1m0 3v1m0 3v2m0 12v2m0 55v2m0 6v1m0 10v2m0 33v4m0 3v2m0 2v4m0 12v1M64 32v2m0 9v5m0 32v2m0 3v1m0 11v1m0 21v1m0 1v3m0 24v1m0 22v6m0 2v1m0 8v4m0 10v3M65 0v1m0 2v3m0 16v1m0 35v1m0 1v2m0 14v1m0 39v1m0 24v2m0 1v1m0 1v3m0 15v1M66 0v3m0 46v1m0 1v1m0 22v1m0 10v1m0 27v6m0 40v1m0 6v1M67 1v2m0 33v1m0 16v1m0 29v1m0 23v3m0 40v2M68 24v1m0 17v2m0 2v3m0 30v4m0 2v1m0 21v2m0 58v1m0 42v5M69 7v1m0 5v2m0 5v4m0 4v2m0 10v2m0 6v3m0 1v1m0 96v2m0 1v1M70 6v7m0 27v1m0 11v1m0 96v3m0 8v11m0 5v6m0 2v2m0 19v1M71 54v1m0 23v3m0 32v1m0 35v2m0 13v2m0 8v6m0 8v1m0 9v1m0 4v2M72 67v1m0 33v2m0 46v5m0 13v2m0 1v6m0 2v6M73 1v2m0 7v3m0 14v4m0 1v1m0 7v1m0 28v2m0 5v2m0 81v1m0 21v2m0 17v3M74 14v1m0 7v1m0 15v2m0 9v1m0 16v4m0 3v4m0 60v3m0 17v1m0 30v2M75 10v2m0 29v2m0 48v1m0 49v2m0 1v5m0 6v1m0 4v4m0 6v2m0 1v5m0 16v3M76 0v1m0 9v1m0 9v1m0 43v12m0 30v1m0 11v1m0 11v5m0 14v2m0 9v1m0 3v1m0 3v2m0 6v2m0 12v1m0 9v1m0 4v2M77 74v4m0 25v1m0 8v1m0 42v1m0 9v1m0 36v1m0 1v1m0 1v1m0 1v2M78 0v1m0 10v1m0 39v2m0 6v1m0 7v1m0 51v2m0 40v1m0 17v1m0 8v5m0 12v1m0 6v2M79 1v2m0 8v1m0 32v5m0 5v2m0 27v2m0 5v1m0 14v6m0 32v2m0 26v1m0 12v1M80 6v1m0 1v1m0 14v2m0 71v1m0 3v1m0 49v1m0 4v3m0 11v2m0 2v1m0 10v1m0 3v1m0 17v1m0 6v1M81 41v1m0 2v1m0 55v3m0 1v1m0 7v1m0 9v3m0 26v3m0 11v1m0 6v1m0 15v4m0 1v4M82 0v2m0 37v1m0 11v1m0 50v7m0 53v1m0 5v1m0 3v8m0 5v7M83 1v2m0 2v2m0 3v1m0 66v1m0 2v1m0 19v2m0 53v1m0 2v2M84 4v2m0 43v2m0 1v1m0 57v3m0 13v5m0 16v2m0 6v1m0 1v3m0 1v2m0 3v3m0 4v2m0 24v1m0 2v2m0 10v1M85 4v1m0 7v1m0 3v3m0 30v2m0 31v1m0 47v1m0 29v2m0 9v1m0 20v1m0 5v4m0 6v3M86 13v2m0 20v1m0 8v2m0 74v1m0 46v1m0 22v2m0 12v2M87 19v1m0 33v1m0 48v1m0 14v2m0 88v1M88 3v3m0 3v2m0 2v2m0 2v2m0 6v1m0 4v2m0 7v1m0 2v1m0 2v1m0 105v1m0 2v2m0 3v1m0 5v1m0 9v2m0 18v2m0 7v1m0 4v1M89 2v3m0 9v1m0 9v1m0 2v5m0 7v1m0 3v1m0 1v2m0 48v2m0 59v1m0 11v1m0 4v1m0 19v1m0 7v3m0 1v4M90 9v2m0 3v1m0 36v5m0 53v3m0 38v1m0 6v1m0 7v2M91 3v1m0 3v2m0 28v3m0 10v4m0 25v2m0 9v1m0 9v3m0 2v2m0 37v1M92 1v1m0 3v5m0 1v2m0 17v2m0 19v1m0 4v1m0 48v4m0 7v1m0 32v2m0 3v2m0 2v2m0 10v2m0 24v2M93 4v1m0 1v1m0 2v3m0 10v1m0 11v2m0 42v5m0 34v1m0 64v2m0 17v1m0 6v2M94 10v1m0 24v3m0 40v1m0 1v8m0 17v3m0 45v2m0 7v3m0 29v5M95 51v2m0 6v2m0 14v3m0 22v3m0 3v3m0 1v1m0 1v1m0 29v1m0 16v1m0 30v2m0 7v1m0 1v4M96 13v2m0 14v2m0 4v2m0 51v1m0 59v1m0 11v2m0 14v1m0 13v1m0 15v1m0 5v1M97 0v1m0 3v3m0 22v1m0 13v1m0 2v1m0 8v1m0 26v3m0 63v1m0 2v1m0 6v2m0 5v2m0 5v1m0 7v7m0 12v2m0 13v1M98 9v1m0 19v1m0 26v3m0 20v4m0 23v2m0 41v1m0 3v2m0 24v2m0 5v5m0 7v2m0 3v2m0 1v1M99 5v2m0 14v6m0 12v1m0 48v2m0 3v2m0 18v2m0 4v1m0 2v4m0 9v5m0 2v1m0 11v1m0 36v1m0 7v2M100 13v1m0 26v1m0 5v2m0 10v3m0 8v1m0 85v1m0 1v1m0 12v1m0 2v1m0 10v1m0 2v3m0 1v1m0 4v5m0 2v1m0 3v2M101 0v2m0 7v3m0 2v1m0 20v1m0 13v1m0 1v1m0 4v3m0 54v1m0 3v3m0 30v1m0 2v3m0 29v2m0 19v4M102 5v1m0 3v2m0 9v5m0 10v5m0 14v1m0 1v3m0 19v7m0 113v3m0 11v1M103 3v1m0 5v2m0 2v1m0 10v6m0 10v1m0 30v2m0 13v2m0 48v5m0 25v1m0 23v1m0 16v1M104 3v3m0 3v4m0 81v3m0 3v1m0 11v1m0 18v1m0 1v1m0 18v1m0 7v5m0 4v2m0 10v3m0 8v1m0 1v1M105 0v2m0 8v1m0 35v3m0 30v2m0 4v1m0 3v5m0 46v3m0 1v5m0 3v1m0 11v5m0 3v4m0 3v2m0 24v1m0 2v4M106 1v1m0 2v2m0 46v2m0 34v3m0 50v2m0 1v1m0 8v7m0 11v1m0 22v3m0 4v3M107 36v3m0 50v1m0 1v7m0 10v1m0 5v3m0 47v1M108 2v3m0 4v4m0 10v3m0 12v1m0 5v1m0 4v1m0 6v3m0 32v1m0 3v3m0 1v1m0 39v2m0 58v2M109 12v1m0 3v2m0 4v1m0 12v5m0 10v1m0 2v1m0 64v1m0 32v5m0 3v1m0 4v1m0 4v1m0 22v2m0 6v4m0 9v1M110 11v3m0 26v1m0 3v1m0 1v2m0 41v2m0 31v1m0 1v2m0 14v3m0 2v3m0 8v3m0 9v2m0 11v3M111 0v5m0 10v1m0 3v3m0 5v1m0 10v2m0 5v3m0 39v1m0 4v3m0 6v1m0 4v2m0 34v2m0 48v2m0 9v1M112 5v1m0 24v2m0 24v3m0 29v3m0 25v4m0 8v3m0 12v4m0 13v10m0 38v1m0 3v1M113 12v2m0 33v2m0 7v3m0 8v3m0 14v1m0 25v1m0 8v1m0 1v1m0 14v4m0 6v3m0 29v3m0 17v1m0 5v1m0 1v1M114 21v6m0 1v3m0 2v4m0 14v1m0 34v1m0 5v1m0 2v4m0 8v3m0 42v1m0 3v4m0 7v1m0 16v2m0 6v1m0 12v2M115 7v2m0 12v2m0 36v6m0 55v1m0 6v1m0 1v5m0 24v1m0 21v1m0 13v1m0 7v1m0 5v1M116 15v7m0 24v4m0 6v3m0 55v4m0 37v1m0 15v1m0 1v2m0 6v2m0 9v1M117 7v2m0 23v3m0 1v2m0 10v1m0 7v1m0 92v2m0 12v2m0 14v1m0 17v6m0 7v3M118 0v1m0 11v2m0 5v2m0 2v1m0 7v2m0 5v2m0 4v4m0 2v1m0 48v1m0 49v3m0 1v3m0 56v1M119 1v1m0 3v1m0 11v1m0 7v2m0 6v2m0 15v1m0 3v2m0 29v3m0 5v1m0 57v1m0 33v1m0 13v1M120 6v1m0 2v1m0 4v1m0 10v5m0 2v2m0 52v1m0 3v3m0 56v2m0 1v1m0 15v6m0 8v1m0 5v3m0 5v2m0 5v1m0 5v3m0 2v1M121 0v3m0 6v1m0 4v1m0 19v2m0 18v4m0 63v5m0 25v2m0 16v1m0 2v2m0 6v2m0 24v8M122 7v1m0 3v2m0 10v8m0 14v2m0 10v2m0 28v2m0 4v2m0 16v1m0 5v2m0 22v2m0 1v1m0 8v2m0 12v6m0 16v3m0 20v3M123 7v1m0 14v6m0 1v3m0 12v1m0 4v1m0 6v3m0 34v3m0 1v1m0 11v3m0 1v1m0 13v2m0 11v3m0 2v1m0 8v1m0 4v1m0 9v1m0 5v3m0 35v2M124 23v1m0 5v3m0 2v2m0 11v1m0 3v2m0 32v1m0 14v2m0 13v1m0 3v1m0 26v3m0 6v2M125 0v1m0 37v1m0 37v2m0 17v2m0 38v1m0 7v1m0 2v1m0 7v6m0 8v2m0 14v4m0 15v2m0 2v2m0 1v1M126 28v1m0 5v1m0 17v1m0 42v4m0 5v1m0 23v3m0 15v2m0 1v2m0 34v2m0 23v1M127 3v1m0 14v2m0 20v2m0 56v7m0 1v2m0 2v2m0 3v3m0 6v2m0 16v6m0 15v1m0 10v1m0 6v1m0 5v1m0 17v1M128 4v2m0 1v1m0 7v1m0 1v2m0 3v1m0 4v3m0 3v1m0 22v1m0 42v1m0 3v1m0 17v1m0 5v6m0 6v2m0 27v1m0 1v4m0 2v6m0 11v1m0 7v1M129 9v2m0 8v4m0 3v2m0 5v1m0 14v1m0 68v2m0 34v1m0 25v2m0 1v3m0 6v1m0 20v2M130 18v1m0 17v1m0 7v2m0 21v4m0 40v1m0 16v1m0 1v1m0 36v8m0 4v2m0 5v2M131 2v2m0 1v2m0 1v2m0 2v1m0 9v2m0 26v1m0 8v8m0 2v7m0 24v3m0 9v1m0 32v4m0 5v1m0 10v1m0 1v1m0 7v2M132 23v1m0 16v4m0 3v2m0 15v1m0 1v6m0 25v3m0 12v2m0 29v2m0 8v1m0 2v3m0 4v1m0 35v1M133 2v2m0 19v3m0 15v1m0 17v3m0 11v5m0 31v2m0 14v5m0 14v4m0 25v1m0 24v2m0 13v1M134 1v1m0 76v3m0 27v1m0 4v1m0 16v4m0 15v1m0 13v2m0 13v4m0 14v1m0 10v1M135 22v2m0 11v5m0 6v1m0 9v1m0 28v7m0 9v1m0 40v1m0 3v2m0 8v1m0 9v2m0 9v2m0 9v4m0 5v7M136 21v2m0 3v1m0 6v5m0 2v4m0 52v2m0 1v4m0 15v2m0 3v5m0 9v6m0 3v1m0 2v1m0 3v2m0 12v2m0 13v1m0 2v1m0 6v6m0 2v1m0 2v1m0 6v1M137 8v1m0 13v1m0 18v1m0 13v1m0 37v2m0 50v2m0 8v5m0 29v2m0 14v3M138 9v2m0 15v1m0 23v2m0 11v6m0 31v1m0 19v1m0 30v1m0 18v3M139 4v1m0 14v4m0 16v1m0 19v6m0 48v1m0 7v2m0 4v6m0 4v1m0 8v1m0 1v1m0 2v1m0 6v1m0 14v1m0 2v3m0 17v5m0 2v1m0 1v3M140 10v1m0 16v5m0 23v1m0 7v3m0 1v11m0 14v8m0 18v2m0 29v5m0 7v1m0 6v1m0 2v6m0 8v1m0 7v5m0 2v1m0 3v1m0 4v1M141 14v1m0 5v1m0 5v4m0 6v4m0 4v1m0 8v1m0 2v2m0 37v4m0 38v1m0 7v4m0 10v1m0 11v1m0 1v1m0 6v1M142 14v1m0 5v1m0 27v3m0 101v2m0 26v1m0 24v3M143 7v2m0 36v4m0 97v1m0 4v4m0 10v2m0 19v1m0 3v2m0 22v1M144 0v2m0 35v1m0 4v5m0 2v1m0 2v2m0 19v3m0 87v4m0 6v2m0 21v4m0 7v6M145 1v1m0 43v4m0 11v1m0 1v13m0 22v2m0 10v1m0 53v2m0 26v1m0 5v1m0 2v1m0 5v9M146 10v2m0 18v2m0 60v1m0 19v1m0 33v3m0 3v1m0 15v1m0 2v1m0 1v3m0 5v4m0 22v2M147 1v3m0 5v2m0 22v2m0 18v3m0 6v7m0 3v3m0 1v2m0 31v1m0 26v4m0 4v1m0 23v1m0 11v2m0 18v3M148 8v2m0 13v1m0 8v1m0 19v1m0 118v3M149 30v2m0 9v1m0 6v1m0 4v1m0 2v3m0 16v1m0 33v2m0 8v2m0 2v6m0 1v1m0 9v2m0 7v1m0 1v1m0 5v2m0 2v2m0 2v1m0 12v2m0 4v3m0 19v3M150 10v1m0 34v4m0 20v9m0 40v1m0 20v2m0 1v2m0 10v2m0 16v4m0 24v2M151 1v1m0 9v2m0 2v3m0 21v1m0 6v1m0 7v2m0 60v1m0 2v3m0 15v2m0 9v1m0 4v1m0 9v1m0 13v5m0 2v1m0 3v4M152 9v5m0 19v3m0 19v1m0 25v2m0 4v2m0 2v5m0 14v1m0 37v1m0 2v4m0 25v1m0 19v1M153 1v2m0 4v2m0 8v1m0 34v2m0 42v2m0 40v4m0 5v1m0 12v2m0 10v2m0 14v1m0 12v2M154 26v2m0 4v2m0 2v2m0 1v1m0 5v5m0 2v1m0 39v1m0 21v1m0 3v1m0 30v2m0 3v1m0 5v2m0 7v1m0 8v4m0 11v3m0 9v3m0 5v1M155 5v1m0 3v1m0 31v1m0 14v5m0 33v6m0 26v1m0 2v1m0 4v3m0 18v5m0 1v4m0 24v2m0 14v3M156 42v1m0 50v2m0 4v1m0 3v1m0 1v3m0 44v1m0 7v2m0 5v1m0 2v1m0 30v1m0 1v4m0 5v2M157 10v1m0 8v2m0 22v2m0 38v1m0 7v1m0 44v2m0 7v1m0 38v3m0 17v3M158 6v4m0 30v1m0 12v1m0 73v1m0 65v1m0 11v3M159 38v2m0 12v3m0 30v1m0 19v3m0 18v2m0 4v1m0 1v1m0 29v2M160 2v1m0 8v1m0 14v1m0 2v3m0 6v2m0 45v3m0 6v1m0 26v4m0 2v3m0 6v5m0 6v2m0 11v2m0 9v2m0 3v1m0 7v4m0 3v2m0 11v6M161 40v2m0 5v1m0 43v1m0 62v2M162 14v1m0 28v1m0 4v1m0 46v1M163 0v1m0 11v1m0 9v2m0 14v1m0 10v3m0 71v1m0 11v1m0 7v1m0 9v1m0 8v3m0 15v9m0 2v2m0 7v2m0 7v5M164 6v1m0 23v4m0 6v1m0 40v2m0 38v1m0 9v1m0 13v1m0 6v2m0 5v1m0 1v4m0 1v1m0 13v1m0 16v2M165 7v1m0 2v1m0 11v4m0 12v1m0 12v2m0 48v6m0 12v1m0 4v1m0 5v6m0 1v1m0 30v1m0 2v4M166 2v2m0 24v2m0 9v3m0 34v1m0 41v2m0 29v1m0 26v1m0 6v3m0 10v1m0 7v7M167 0v2m0 116v2m0 46v1M168 0v2m0 20v3m0 24v1m0 69v2m0 29v1m0 8v1m0 8v1m0 4v1m0 9v5m0 2v3m0 2v1m0 4v2M169 20v2m0 11v1m0 2v1m0 42v1m0 33v1m0 43v1m0 27v4m0 5v1m0 5v1m0 1v3M170 7v1m0 19v1m0 58v7m0 6v1m0 15v2m0 34v1m0 10v5m0 35v2m0 4v3m0 3v1M171 9v1m0 17v4m0 8v1m0 2v1m0 6v2m0 40v2m0 60v1m0 10v5m0 2v4m0 9v2M172 34v1m0 3v2m0 47v1m0 7v3m0 43v1m0 8v1m0 11v2m0 13v3m0 34v1M173 0v1m0 14v1m0 6v1m0 9v1m0 72v1m0 7v3m0 13v5m0 30v2m0 3v1m0 36v1m0 1v5M174 12v4m0 3v3m0 12v1m0 32v1m0 36v3m0 6v1m0 9v1m0 19v2m0 10v1m0 4v1m0 1v1m0 4v2m0 7v1m0 2v1m0 27v1m0 5v1M175 2v2m0 11v1m0 1v4m0 32v2m0 31v2m0 13v2m0 11v2m0 19v4m0 1v4m0 2v1m0 2v2m0 9v9m0 7v2m0 36v1M176 10v3m0 2v1m0 6v4m0 1v3m0 7v2m0 1v1m0 9v3m0 34v1m0 19v1m0 11v2m0 5v2m0 2v3m0 11v4m0 17v2m0 3v2m0 1v4M177 33v4m0 1v2m0 3v2m0 5v1m0 2v2m0 70v1m0 32v3m0 1v2m0 49v1M178 11v2m0 2v2m0 7v4m0 4v1m0 5v2m0 66v1m0 4v2m0 1v1m0 1v2m0 22v6m0 3v1m0 2v1m0 13v1m0 10v1m0 18v2m0 3v2m0 11v1M179 22v2m0 14v2m0 10v1m0 108v1m0 3v3m0 40v2m0 3v4M180 10v1m0 7v1m0 71v3m0 3v2m0 2v2m0 33v3m0 14v1m0 3v2m0 8v2m0 12v1m0 1v4m0 7v1m0 1v2m0 9v1m0 6v2M181 15v1m0 24v1m0 45v4m0 7v1m0 2v3m0 16v2m0 5v2m0 1v1m0 2v1m0 1v1m0 13v1m0 8v1m0 2v2m0 5v2m0 20v1m0 4v3M182 13v1m0 29v1m0 6v2m0 33v2m0 2v3m0 27v1m0 1v9m0 22v1m0 1v2m0 2v1m0 20v1m0 5v3M183 4v2m0 77v1m0 10v6m0 2v1m0 11v1m0 2v4m0 13v4m0 1v1m0 5v1m0 5v4m0 1v1m0 34v1m0 14v1m0 1v1m0 1v1M184 36v2m0 45v4m0 36v1m0 16v1m0 21v2m0 12v1m0 2v1m0 1v1m0 2v1m0 28v2M185 11v1m0 5v3m0 16v2m0 7v1m0 41v1m0 4v3m0 11v4m0 11v2m0 47v2m0 28v4M186 3v3m0 7v1m0 2v7m0 1v1m0 4v1m0 17v1m0 5v1m0 31v2m0 4v1m0 7v1m0 51v2m0 9v4m0 22v1m0 5v1m0 2v4M187 0v5m0 13v1m0 12v1m0 19v1m0 36v2m0 10v1m0 10v2m0 52v4m0 6v3m0 4v2m0 4v1m0 7v1m0 2v3m0 2v3m0 1v1m0 2v1M188 5v1m0 3v1m0 4v1m0 23v2m0 1v2m0 2v1m0 30v2m0 9v1m0 2v1m0 1v1m0 13v3m0 5v4m0 14v2m0 3v3m0 13v1m0 4v1m0 5v3m0 7v7m0 15v3m0 7v1m0 4v2M189 6v1m0 33v1m0 1v1m0 50v5m0 5v3m0 1v2m0 15v5m0 6v1m0 1v4m0 4v2m0 2v4m0 1v1m0 27v1m0 6v9M190 0v2m0 20v1m0 2v1m0 17v2m0 6v1m0 30v1m0 19v3m0 3v1m0 4v1m0 2v1m0 4v2m0 11v2m0 15v2m0 7v2m0 1v1m0 31v5M191 0v2m0 34v1m0 14v2m0 1v1m0 43v2m0 62v2m0 42v2M192 9v4m0 40v2m0 73v1m0 11v2m0 47v13m0 10v1M193 8v2m0 8v1m0 19v2m0 2v1m0 7v2m0 31v1m0 3v8m0 63v2m0 15v4M194 22v7m0 10v1m0 4v2m0 34v1m0 37v1m0 41v3m0 6v2m0 17v1m0 1v1m0 10v2m0 10v1M195 10v1m0 4v1m0 6v1m0 6v1m0 14v1m0 5v3m0 25v1m0 13v1m0 22v1m0 1v3m0 36v3m0 6v3m0 23v2m0 2v1M196 35v4m0 14v2m0 25v2m0 30v1m0 10v1M197 8v4m0 5v3m0 5v1m0 3v1m0 6v2m0 3v2m0 6v1m0 1v1m0 2v1m0 1v4m0 3v4m0 19v2m0 19v6m0 21v2m0 3v2m0 28v1m0 2v3m0 4v2m0 6v1m0 1v1m0 1v3m0 8v7m0 4v1M198 3v2m0 9v1m0 7v1m0 7v2m0 16v1m0 38v1m0 3v1m0 21v3m0 36v1m0 1v1m0 2v3m0 11v1m0 13v1m0 10v1M199 4v3m0 2v4m0 3v3m0 2v1m0 1v1m0 3v11m0 5v2m0 41v4m0 23v1m0 2v3m0 41v1M200 8v1m0 2v5m0 2v1m0 11v1m0 4v1m0 2v2m0 9v3m0 3v1m0 82v1m0 15v4m0 2v1m0 1v2m0 48v1M201 14v1m0 10v2m0 23v1m0 29v3m0 13v2m0 15v1m0 46v1m0 4v1M202 5v1m0 4v2m0 10v2m0 19v2m0 43v1m0 31v1m0 28v2m0 7v1m0 16v3m0 15v2M203 7v2m0 10v1m0 13v4m0 13v1m0 28v1m0 9v4m0 21v2m0 34v4m0 14v1m0 5v2m0 10v1m0 10v1m0 1v2M204 0v2m0 27v1m0 58v2m0 74v5m0 4v5m0 27v1M205 32v1m0 11v2m0 45v2m0 3v4m0 20v1m0 38v1m0 2v1m0 15v1M206 34v1m0 4v1m0 9v1m0 93v1m0 5v1m0 3v3m0 46v7m0 4v2M207 0v1m0 1v2m0 12v1m0 8v1m0 13v1m0 3v1m0 99v6m0 1v1m0 3v2m0 7v5m0 21v3m0 6v2M208 1v1m0 7v2m0 6v2m0 11v1m0 13v1m0 73v1m0 17v1m0 13v1m0 3v1m0 20v3M209 0v1m0 4v1m0 1v1m0 1v1m0 29v1m0 58v2m0 17v2m0 6v1m0 21v1m0 57v1M210 145v1m0 40v1m0 14v5M211 3v1m0 15v1m0 11v1m0 21v1m0 17v7m0 6v2m0 38v4m0 7v4m0 8v1m0 11v1m0 2v1m0 12v1m0 6v1m0 16v2M212 7v3m0 8v6m0 28v1m0 26v1m0 3v1m0 6v1m0 61v4m0 4v3m0 3v1m0 31v1m0 10v3M213 12v1m0 18v3m0 87v1m0 10v2m0 1v9m0 8v4m0 3v1m0 17v1m0 11v1m0 11v2m0 5v1M214 5v2m0 3v4m0 28v2m0 5v1m0 3v2m0 1v7m0 15v2m0 7v1m0 23v2m0 32v4m0 14v1m0 1v4m0 32v3M215 0v1m0 20v1m0 9v1m0 4v3m0 15v1m0 21v2m0 17v5m0 44v2m0 4v1M216 3v1m0 6v3m0 25v2m0 11v1m0 62v1m0 2v2m0 26v1m0 7v1m0 34v3m0 21v1M217 9v2m0 6v1m0 37v1m0 35v8m0 18v1m0 30v3m0 32v1M218 17v1m0 1v2m0 1v3m0 3v3m0 9v1m0 11v1m0 106v1m0 17v1m0 20v3m0 13v1M219 16v3m0 6v1m0 2v1m0 9v1m0 8v5m0 45v3m0 21v5m0 8v3m0 27v3m0 21v1M220 26v5m0 17v4m0 1v1m0 79v1m0 8v7m0 8v2m0 1v5m0 22v4m0 10v2M221 13v1m0 5v1m0 18v2m0 9v2m0 1v1m0 31v3m0 11v1m0 1v1m0 2v3m0 13v1m0 6v2m0 17v1m0 2v1m0 2v1m0 5v2m0 6v1m0 7v2m0 25v2m0 5v6M222 17v4m0 4v1m0 5v1m0 10v1m0 38v3m0 2v14m0 10v3m0 6v2m0 7v1m0 19v1m0 12v3m0 2v2m0 1v2m0 5v5M223 0v5m0 21v3m0 5v1m0 4v1m0 7v2m0 11v2m0 16v1m0 73v2m0 14v3m0 6v3m0 24v1m0 8v2M224 23v1m0 6v1m0 3v1m0 4v2m0 10v1m0 28v2m0 8v7m0 12v3m0 53v1m0 1v4m0 13v2m0 7v2m0 1v2m0 6v5M225 9v1m0 81v4m0 2v3m0 2v9m0 40v1m0 2v3m0 13v13m0 15v7m0 7v1m0 1v1M226 44v2m0 32v1m0 10v4m0 1v1m0 3v1m0 15v1m0 6v10m0 1v2m0 9v3m0 8v6m0 1v7m0 11v1M227 4v2m0 8v2m0 6v2m0 14v2m0 51v7m0 51v1m0 3v7m0 1v6m0 9v2m0 14v2M228 4v1m0 21v1m0 25v4m0 35v1m0 41v14m0 2v1m0 19v2m0 4v3m0 10v1m0 10v2m0 5v2M229 26v1m0 7v3m0 6v1m0 4v6m0 1v1m0 4v3m0 15v4m0 6v1m0 3v4m0 25v3m0 8v3m0 12v2m0 2v1m0 17v5m0 4v2m0 29v1M230 0v2m0 38v3m0 12v1m0 1v6m0 2v2m0 8v1m0 1v1m0 10v1m0 52v1m0 10v1m0 4v3m0 10v1m0 1v1m0 2v5m0 17v2m0 3v4M231 7v1m0 9v1m0 15v2m0 2v4m0 15v6m0 22v4m0 8v2m0 20v2m0 29v3m0 13v1m0 11v3m0 2v2m0 4v1m0 15v1m0 8v1M232 6v1m0 12v2m0 9v1m0 11v2m0 2v2m0 1v1m0 1v1m0 49v2m0 3v2m0 8v1m0 2v2m0 29v1m0 9v2m0 7v2m0 17v4M233 2v1m0 3v1m0 1v1m0 8v1m0 10v1m0 6v1m0 2v1m0 11v3m0 1v1m0 45v2m0 14v3m0 3v3m0 7v1m0 22v2m0 30v3m0 19v6M234 4v3m0 4v3m0 12v1m0 11v1m0 4v2m0 1v1m0 65v1m0 4v2m0 41v3m0 7v3m0 41v1M235 42v1m0 57v1m0 22v2m0 11v7m0 3v3m0 10v6m0 14v2m0 5v1M236 29v1m0 2v1m0 7v1m0 55v1m0 3v3m0 2v1m0 7v1m0 2v3m0 3v4m0 3v1m0 3v3m0 33v1m0 8v4m0 1v1m0 13v1M237 17v4m0 29v1m0 2v2m0 7v1m0 19v7m0 3v3m0 2v4m0 10v2m0 4v3m0 1v5m0 13v5m0 9v1m0 6v1m0 28v1M238 9v3m0 38v1m0 37v1m0 5v1m0 8v9m0 3v2m0 5v3m0 7v4m0 33v1m0 7v1m0 1v4m0 5v4M239 23v1m0 22v1m0 40v5m0 24v2m0 12v4m0 2v4m0 8v1m0 6v2m0 19v4M240 15v1m0 2v2m0 12v1m0 6v1m0 15v1m0 50v7m0 24v6m0 7v2m0 1v1m0 14v2m0 19v7M241 5v2m0 9v1m0 30v2m0 15v3m0 11v6m0 2v2m0 34v1m0 13v8M242 1v1m0 1v4m0 5v3m0 30v2m0 62v2m0 43v1m0 17v2M243 47v3m0 51v2m0 53v1m0 3v2m0 3v2m0 22v3m0 21v2M244 4v1m0 25v3m0 8v1m0 2v1m0 11v6m0 14v2m0 11v1m0 18v2m0 3v3m0 26v3m0 10v4m0 1v1m0 15v2m0 28v6M245 12v1m0 8v1m0 11v1m0 11v1m0 1v1m0 67v1m0 34v5m0 21v5m0 5v3m0 4v3m0 10v3m0 2v4M246 33v2m0 2v3m0 45v3m0 13v5m0 16v1m0 7v3m0 7v7m0 6v1m0 6v1m0 9v3M247 5v7m0 10v3m0 21v3m0 70v1m0 29v3m0 4v1m0 56v1M248 0v3m0 9v2m0 34v7m0 38v7m0 27v1m0 6v1m0 25v2m0 7v7M249 54v1m0 45v1m0 3v3m0 2v1m0 9v2m0 42v2m0 27v2m0 12v5M250 2v7m0 32v1m0 71v2m0 8v1m0 12v1m0 3v3m0 10v1m0 18v1m0 3v1M251 15v1m0 8v1m0 1v2m0 7v5m0 1v1m0 12v1m0 94v2m0 49v3M252 15v2m0 2v3m0 18v1m0 5v2m0 3v1m0 1v1m0 27v2m0 53v1m0 10v2M253 1v1m0 1v1m0 66v3m0 36v1M254 10v3m0 39v1m0 54v1m0 3v1m0 9v2m0 1v2m0 3v5m0 2v2m0 12v1m0 25v1m0 9v2m0 7v1m0 4v1m0 6v1m0 3v1M255 0v1m0 8v4m0 1v1m0 2v1m0 36v2m0 32v2m0 18v3m0 2v1m0 7v3m0 1v10m0 6v5m0 19v2m0 9v4m0 16v1m0 15v2M256 2v1m0 8v1m0 18v1m0 5v4m0 76v1m0 4v2m0 3v1m0 1v1m0 15v2m0 23v1m0 4v1m0 7v1M257 3v2m0 7v1m0 1v1m0 1v1m0 7v4m0 3v1m0 22v1m0 105v1m0 37v2m0 5v1m0 3v2m0 3v1M258 1v2m0 7v4m0 6v3m0 13v1m0 3v2m0 3v2m0 83v1m0 13v2m0 14v1m0 17v4m0 7v3m0 9v4m0 9v1M259 0v2m0 1v1m0 17v5m0 82v4m0 2v1m0 19v2m0 4v6m0 19v1m0 19v1m0 5v1m0 1v2m0 4v7m0 8v1M260 8v1m0 1v2m0 3v2m0 16v4m0 17v2m0 34v2m0 4v1m0 23v1m0 39v2m0 5v2m0 37v3m0 2v2M261 15v2m0 7v1m0 2v1m0 5v2m0 74v4m0 7v1m0 9v1m0 13v1m0 14v1m0 1v3m0 3v2m0 2v2m0 4v5m0 3v3m0 5v1M262 17v2m0 2v1m0 14v3m0 42v1m0 8v3m0 26v1m0 58v1m0 2v2m0 2v1m0 2v2m0 3v1M263 36v1m0 7v1m0 4v1m0 2v1m0 5v2m0 6v3m0 19v3m0 71v1m0 4v2m0 22v2m0 17v2M264 6v2m0 7v1m0 22v2m0 9v1m0 6v1m0 4v8m0 99v1m0 3v4m0 6v1m0 6v2m0 18v3M265 6v6m0 2v1m0 33v1m0 9v1m0 2v1m0 8v5m0 8v1m0 14v2m0 4v1m0 57v2m0 1v2M266 49v2m0 62v2m0 45v2m0 3v1m0 11v4m0 3v3m0 13v1M267 14v1m0 23v1m0 7v3m0 31v1m0 9v1m0 3v1m0 24v2m0 41v2m0 8v1m0 31v2M268 0v1m0 2v1m0 50v2m0 22v1m0 18v1m0 7v4m0 63v4m0 5v1m0 30v1M269 5v3m0 5v2m0 73v2m0 27v1m0 19v5m0 23v2m0 42v1M270 17v2m0 24v1m0 7v1m0 54v1m0 16v4m0 3v5m0 8v3m0 3v1m0 45v3m0 5v1m0 10v1M271 21v2m0 26v1m0 29v2m0 9v1m0 30v2m0 2v1m0 19v3m0 1v1m0 1v3m0 2v1m0 1v1m0 49v1m0 3v1M272 10v5m0 56v3m0 40v1m0 4v2m0 25v1m0 11v1m0 1v2m0 3v7m0 36v1M273 43v1m0 46v3m0 33v1m0 9v1m0 19v1m0 47v1M274 4v1m0 10v1m0 62v1m0 5v6m0 23v2m0 11v1m0 5v3m0 19v1m0 45v1m0 13v1M275 14v1m0 26v4m0 2v1m0 4v3m0 25v2m0 10v2m0 5v1m0 26v3m0 1v4m0 18v1m0 7v7m0 3v1m0 3v4m0 6v3m0 25v3M276 3v1m0 6v3m0 8v1m0 114v2m0 8v3m0 5v1M277 19v2m0 38v5m0 14v2m0 8v1m0 7v4m0 7v1m0 24v2m0 2v9m0 3v1m0 7v2m0 48v1m0 6v1M278 2v1m0 21v1m0 1v3m0 12v6m0 1v1m0 19v2m0 51v1m0 17v5m0 46v1m0 11v4M279 14v1m0 48v1m0 36v1m0 3v2m0 6v1m0 12v1m0 3v6m0 34v1m0 6v9m0 12v2M280 0v2m0 1v5m0 2v1m0 1v3m0 31v2m0 3v1m0 13v5m0 15v3m0 21v3m0 7v1m0 2v1m0 5v1m0 14v2m0 29v5m0 15v3m0 11v3M281 43v1m0 1v4m0 18v2m0 16v1m0 10v1m0 3v13m0 8v6m0 12v5m0 25v1m0 25v1m0 5v6M282 7v1m0 4v3m0 12v3m0 3v3m0 54v7m0 19v1m0 34v2m0 21v3m0 5v1m0 4v2m0 5v1m0 5v2m0 2v1M283 1v1m0 12v1m0 11v1m0 17v1m0 48v3m0 14v1m0 57v1m0 4v6m0 2v1m0 10v3m0 11v3M284 2v1m0 28v1m0 3v1m0 8v1m0 1v2m0 8v22m0 9v2m0 10v1m0 36v2m0 4v6m0 1v5m0 1v2m0 2v1M285 13v2m0 1v1m0 26v1m0 6v3m0 25v4m0 5v5m0 2v1m0 16v2m0 7v1m0 41v3m0 47v2M286 8v1m0 4v2m0 2v1m0 13v5m0 8v1m0 6v3m0 83v4m0 21v5m0 16v2m0 28v2M287 36v1m0 8v1m0 4v1m0 3v1m0 64v1m0 20v3M288 21v1m0 7v2m0 9v1m0 3v1m0 5v2m0 27v1m0 4v3m0 1v1m0 8v3m0 13v2m0 7v3m0 27v4M289 4v1m0 3v1m0 88v1m0 23v7m0 19v2m0 39v1M290 0v1m0 23v1m0 28v1m0 26v5m0 5v5m0 25v1m0 23v1m0 25v1m0 2v1M291 3v1m0 30v1m0 43v1m0 11v5m0 21v1m0 3v1m0 1v1M292 39v1m0 54v1m0 1v1m0 4v1m0 16v3m0 29v3m0 1v3m0 16v1m0 12v1M293 5v1m0 19v3m0 50v2m0 1v6m0 9v1m0 19v2m0 3v1m0 10v1m0 3v1m0 1v1m0 8v2m0 25v1m0 20v1M294 17v2m0 3v2m0 6v2m0 77v2m0 19v1m0 27v4m0 1v2m0 3v1m0 7v2m0 1v4m0 7v4m0 6v5m0 1v2m0 6v1M295 43v1m0 15v1m0 42v2m0 12v2m0 2v1m0 28v1m0 3v3m0 13v5m0 17v2m0 8v1m0 11v1M296 14v1m0 32v3m0 6v5m0 53v1m0 2v1m0 6v9m0 66v2M297 0v2m0 1v1m0 8v1m0 35v1m0 1v1m0 4v1m0 14v6m0 43v2m0 22v1m0 35v3m0 7v5m0 8v2m0 9v2M298 3v3m0 4v2m0 29v2m0 15v1m0 19v5m0 37v1m0 17v1m0 31v1M299 27v1m0 23v1m0 32v4m0 65v2m0 2v1m0 11v2M300 3v3m0 9v2m0 64v1m0 1v2m0 37v5m0 21v2m0 18v1m0 37v4M301 6v4m0 14v3m0 17v1m0 10v1m0 41v3m0 19v2m0 7v2m0 18v1m0 8v3m0 30v2m0 8v1m0 1v8M302 12v1m0 4v6m0 126v1m0 12v1m0 3v2m0 4v1m0 17v2m0 9v2" stroke="#e4cde2" stroke-width="1.03" fill="none"/>
<path transform="translate(0.5,0)" d="M0 7v1m0 2v1m0 4v4m0 9v3m0 1v1m0 7v1m0 2v2m0 3v2m0 1v5m0 44v6m0 2v2m0 1v1m0 9v2m0 11v1m0 6v2m0 5v2m0 7v2m0 4v3m0 2v1m0 2v2m0 31v9M1 40v1m0 63v1m0 44v2m0 4v1m0 4v2m0 26v1m0 3v1m0 2v2m0 5v1m0 8v2M2 8v4m0 4v1m0 1v2m0 5v5m0 13v1m0 7v1m0 4v1m0 53v1m0 38v9m0 9v1m0 10v1m0 2v3m0 8v1m0 1v1M3 11v2m0 2v2m0 28v1m0 108v3m0 4v5m0 9v1m0 38v1M4 8v1m0 5v1m0 10v1m0 3v7m0 1v1m0 7v1m0 10v3m0 45v5m0 42v4m0 2v3m0 11v2m0 2v2m0 2v1m0 1v3m0 2v3m0 10v2m0 1v2m0 3v5m0 2v1M5 5v1m0 30v4m0 5v3m0 7v4m0 34v2m0 16v1m0 8v1m0 12v1m0 26v3m0 2v2M6 15v1m0 5v2m0 2v5m0 21v1m0 3v4m0 48v1m0 7v2m0 2v1m0 11v2m0 19v1m0 6v1m0 1v4m0 8v2m0 2v1m0 2v3m0 3v5m0 20v2M7 9v5m0 10v2m0 6v2m0 2v2m0 3v2m0 76v1m0 29v1m0 1v2m0 8v2m0 2v1m0 10v1m0 6v1m0 2v3m0 6v1m0 4v2m0 1v3M8 12v2m0 14v2m0 13v5m0 7v2m0 43v6m0 1v6m0 9v2m0 32v1m0 5v2m0 4v8m0 6v3m0 3v1m0 3v7m0 7v5M9 8v3m0 9v5m0 3v2m0 19v1m0 2v2m0 60v1m0 2v2m0 33v3m0 7v2m0 6v1m0 2v3m0 7v4m0 5v3M10 11v2m0 2v5m0 3v1m0 6v1m0 1v2m0 7v1m0 6v1m0 5v1m0 46v3m0 7v2m0 41v1m0 3v2m0 8v2m0 12v3M11 1v3m0 7v4m0 8v4m0 2v2m0 11v1m0 8v2m0 49v4m0 15v3m0 16v2m0 2v4m0 1v1m0 2v2m0 4v2m0 16v1m0 7v3m0 17v6M12 1v1m0 5v1m0 1v1m0 2v1m0 23v1m0 8v2m0 1v4m0 109v3m0 2v3m0 3v3m0 32v3M13 1v1m0 14v1m0 18v3m0 63v3m0 2v5m0 2v1m0 9v1m0 10v5m0 15v2m0 1v3m0 53v2M14 14v1m0 19v2m0 7v1m0 1v2m0 4v1m0 2v2m0 67v15m0 5v6m0 10v1m0 30v2m0 21v1M15 12v3m0 5v1m0 19v1m0 4v1m0 3v3m0 52v1m0 2v3m0 1v1m0 15v2m0 3v6m0 6v3m0 3v1m0 2v1m0 3v1m0 2v4m0 3v3m0 6v1m0 4v1m0 20v3m0 1v4M16 0v1m0 11v3m0 17v1m0 8v2m0 2v1m0 3v1m0 50v1m0 20v1m0 3v14m0 10v1m0 2v3m0 2v12m0 17v4m0 2v1m0 2v4m0 4v1m0 4v1m0 3v3M17 0v1m0 2v1m0 19v1m0 20v1m0 1v2m0 76v1m0 2v2m0 6v6m0 8v1m0 9v4m0 22v1m0 4v2m0 1v1m0 8v4m0 2v3M18 0v3m0 5v2m0 5v2m0 27v3m0 2v1m0 3v1m0 1v1m0 49v1m0 15v2m0 18v1m0 18v1m0 12v2m0 2v3m0 1v4m0 8v1m0 8v1m0 2v2m0 1v7M19 0v3m0 5v2m0 12v1m0 5v2m0 1v1m0 12v2m0 7v1m0 1v1m0 52v1m0 24v5m0 2v1m0 3v4m0 39v1m0 18v4M20 5v2m0 2v3m0 2v1m0 12v2m0 15v1m0 11v2m0 59v1m0 4v3m0 2v4m0 1v2m0 16v2m0 5v2m0 4v1m0 10v6m0 3v1m0 23v1M21 1v2m0 3v1m0 2v1m0 3v4m0 1v1m0 2v6m0 3v1m0 6v1m0 10v1m0 102v1m0 2v1m0 3v1m0 1v2m0 12v3m0 4v3m0 1v2m0 3v1m0 3v1m0 2v1M22 7v2m0 17v3m0 19v1m0 1v5m0 97v1m0 33v1M23 19v1m0 9v3m0 87v1m0 9v1m0 23v3m0 13v1m0 12v6m0 1v2m0 1v1m0 2v3M24 5v2m0 3v1m0 34v1m0 112v2m0 9v2m0 9v3m0 2v6m0 11v7M25 8v4m0 1v2m0 6v2m0 6v1m0 16v1m0 8v1m0 58v3m0 27v2m0 3v1m0 4v2m0 14v1m0 9v6m0 15v1m0 6v3M26 8v2m0 13v2m0 14v1m0 6v1m0 67v1m0 18v16m0 38v1m0 25v2M27 0v4m0 8v3m0 37v1m0 61v1m0 5v12m0 2v1m0 7v1m0 5v1m0 32v1m0 22v2M28 2v1m0 1v3m0 3v1m0 2v1m0 3v1m0 2v2m0 3v1m0 17v2m0 80v3m0 5v3m0 1v3m0 8v1m0 1v5m0 1v2m0 29v1m0 4v1m0 1v7m0 6v8M29 3v1m0 2v4m0 18v3m0 3v1m0 5v3m0 1v1m0 3v2m0 72v6m0 5v1m0 1v9m0 6v3m0 57v3M30 0v2m0 4v1m0 5v1m0 10v1m0 15v1m0 78v1m0 20v1m0 2v7m0 1v2m0 24v1m0 14v1m0 17v2M31 3v1m0 48v1m0 96v2m0 42v5m0 4v1M32 11v3m0 13v4m0 9v4m0 54v2m0 21v1m0 3v5m0 6v1m0 1v7m0 10v1m0 34v1M33 8v6m0 4v1m0 13v1m0 1v2m0 4v1m0 85v3m0 8v1m0 7v1m0 37v1M34 6v1m0 1v1m0 4v1m0 14v1m0 9v2m0 2v1m0 4v1m0 1v5m0 72v2m0 14v1m0 20v1m0 15v1m0 3v5m0 4v1M35 4v1m0 2v1m0 2v2m0 10v2m0 5v1m0 25v1m0 65v2m0 5v2m0 36v1m0 1v1m0 5v1m0 6v1m0 10v7m0 12v1M36 13v2m0 8v4m0 16v2m0 3v2m0 2v4m0 96v1m0 4v1m0 2v4m0 2v3m0 6v2m0 1v3m0 15v3M37 34v1m0 5v1m0 125v3m0 1v1m0 1v3m0 8v1m0 3v1m0 22v3M38 13v1m0 7v1m0 12v2m0 4v1m0 12v3m0 44v2m0 48v10m0 1v4m0 27v1m0 4v1M39 2v1m0 1v4m0 2v4m0 106v1m0 11v2m0 1v1m0 16v3m0 4v1m0 1v1m0 8v1m0 4v1m0 10v1m0 1v2m0 6v2M40 10v1m0 23v1m0 3v2m0 7v1m0 8v1m0 3v5m0 47v1m0 10v3m0 4v2m0 9v3m0 19v2m0 2v5m0 9v3m0 16v9m0 4v2M41 6v2m0 11v2m0 6v4m0 2v4m0 10v2m0 10v4m0 3v6m0 1v5m0 23v3m0 6v5m0 2v4m0 20v1m0 10v2m0 5v3m0 2v1m0 17v6m0 6v1m0 4v1m0 14v1M42 18v1m0 2v1m0 18v2m0 3v1m0 4v2m0 7v3m0 73v1m0 34v1m0 1v14m0 1v1m0 14v3M43 4v4m0 16v1m0 25v1m0 2v2m0 4v2m0 39v1m0 3v1m0 6v2m0 32v1m0 1v1m0 1v1m0 2v2m0 6v4m0 17v1m0 6v4m0 4v2m0 2v10m0 3v2M44 3v2m0 22v2m0 21v2m0 50v6m0 3v1m0 19v2m0 27v3m0 2v3m0 6v2m0 1v1m0 6v1m0 1v1m0 5v1m0 3v4m0 6v2m0 1v1m0 3v2M45 0v1m0 3v5m0 28v2m0 82v2m0 22v2m0 5v2m0 9v2m0 14v1M46 10v3m0 10v5m0 8v1m0 15v1m0 58v2m0 5v1m0 3v2m0 3v2m0 1v1m0 2v1m0 4v2m0 9v1m0 1v3m0 6v2m0 4v1m0 8v1m0 2v1m0 4v2m0 23v1M47 0v1m0 4v2m0 12v1m0 10v1m0 3v2m0 76v1m0 8v4m0 29v3m0 20v1m0 12v2m0 10v4m0 4v5M48 3v1m0 2v1m0 39v4m0 1v4m0 39v3m0 29v2m0 2v2m0 10v3m0 7v1m0 35v2M49 0v1m0 5v3m0 40v1m0 38v2m0 1v1m0 68v1m0 7v1m0 4v1m0 5v8m0 1v1m0 16v9M50 0v1m0 13v1m0 3v1m0 24v1m0 2v2m0 6v2m0 27v1m0 12v1m0 6v1m0 17v3m0 9v2m0 8v1m0 3v1m0 27v10m0 7v1m0 10v2m0 7v2M51 41v1m0 1v1m0 8v3m0 26v3m0 7v2m0 11v3m0 10v1m0 28v2m0 4v1m0 2v1m0 3v6m0 2v3m0 3v1m0 4v2m0 11v7m0 1v3m0 1v3M52 14v1m0 33v1m0 33v2m0 54v2m0 10v3m0 4v1m0 1v1m0 5v2m0 3v1m0 7v1m0 22v3m0 3v2M53 12v3m0 15v2m0 6v1m0 5v1m0 6v1m0 29v1m0 13v3m0 9v6m0 18v4m0 15v6m0 2v1m0 3v1m0 9v3m0 28v2m0 1v1M54 0v2m0 9v1m0 27v1m0 7v2m0 2v3m0 1v1m0 22v5m0 11v1m0 12v6m0 4v3m0 1v7m0 4v1m0 15v1m0 5v2m0 52v6M55 5v1m0 8v1m0 4v1m0 16v1m0 3v1m0 5v3m0 30v12m0 45v2m0 17v1m0 4v3m0 5v6m0 6v1m0 23v2m0 2v1m0 3v3M56 0v2m0 14v1m0 81v1m0 22v1m0 7v2m0 5v1m0 8v1m0 7v2m0 5v3m0 1v1m0 1v4m0 3v8m0 20v1m0 6v1m0 5v1M57 14v3m0 2v2m0 1v1m0 7v2m0 4v3m0 9v3m0 4v1m0 28v1m0 1v5m0 34v1m0 12v4m0 8v2m0 2v2m0 5v1m0 1v1m0 28v4m0 12v1M58 0v2m0 11v3m0 35v2m0 72v8m0 10v2m0 7v1m0 10v2m0 1v1m0 4v2m0 7v3m0 3v3m0 5v1M59 3v1m0 4v1m0 16v2m0 9v3m0 91v1m0 26v1m0 21v2m0 6v4m0 1v3m0 3v1m0 1v1m0 2v1m0 7v1M60 0v1m0 2v4m0 3v1m0 8v1m0 9v2m0 2v6m0 4v2m0 7v1m0 1v1m0 86v2m0 2v8m0 11v1m0 8v4m0 7v6m0 16v9M61 0v2m0 2v2m0 30v4m0 8v1m0 64v1m0 5v2m0 8v4m0 2v4m0 3v3m0 11v2m0 1v1m0 30v1m0 6v2m0 11v2M62 0v1m0 6v1m0 15v1m0 22v1m0 83v2m0 21v2m0 23v1m0 2v3m0 19v1m0 8v3M63 3v2m0 1v1m0 5v2m0 35v1m0 3v1m0 62v2m0 46v1m0 9v2m0 4v1m0 7v4m0 3v3m0 1v2m0 1v2m0 4v3M64 16v3m0 6v1m0 2v4m0 58v1m0 3v1m0 66v2m0 4v4m0 13v4m0 4v1m0 8v1m0 8v5M65 1v1m0 24v1m0 28v1m0 3v1m0 4v5m0 9v5m0 8v7m0 51v2m0 10v1m0 25v3m0 7v2M66 10v1m0 1v1m0 33v1m0 21v6m0 1v3m0 2v2m0 1v1m0 4v2m0 35v6m0 29v4m0 3v1m0 17v7M67 0v1m0 10v1m0 40v1m0 31v2m0 11v1m0 31v1m0 15v1m0 9v1m0 25v2M68 4v2m0 34v1m0 49v2m0 24v1m0 35v2m0 16v1m0 12v1m0 3v1m0 2v2m0 1v5m0 5v1m0 2v1m0 2v1M69 33v1m0 78v1m0 50v1m0 4v4m0 1v5m0 7v2m0 2v3m0 5v5m0 4v1m0 1v1m0 1v2M70 1v1m0 42v2m0 5v1m0 34v1m0 1v3m0 30v2m0 10v1m0 38v1m0 2v1m0 10v1m0 2v6m0 1v4m0 1v4m0 1v6M71 9v3m0 38v1m0 23v2m0 5v3m0 7v7m0 22v2m0 8v1m0 20v7m0 5v1m0 26v1m0 16v2M72 21v3m0 24v6m0 104v1m0 2v3m0 5v1m0 6v2m0 6v2m0 4v4m0 15v6M73 13v2m0 29v2m0 9v1m0 61v2m0 28v2m0 11v1m0 1v2m0 1v6m0 21v4m0 1v1m0 8v1M74 1v3m0 6v3m0 42v4m0 54v1m0 21v1m0 13v5m0 2v1m0 2v1m0 26v2m0 13v1M75 4v2m0 8v1m0 30v3m0 4v3m0 7v3m0 62v1m0 29v3m0 4v2m0 15v4m0 1v3m0 3v2m0 10v1m0 6v2M76 3v5m0 1v1m0 1v4m0 6v11m0 6v1m0 1v3m0 2v2m0 2v7m0 57v2m0 36v1m0 1v3m0 2v1m0 7v1m0 8v1m0 2v1m0 10v1M77 3v1m0 1v2m0 13v1m0 46v2m0 1v1m0 42v2m0 38v1m0 18v1m0 3v3m0 2v3m0 3v1m0 3v1m0 1v7m0 12v2M78 9v2m0 4v3m0 11v7m0 2v1m0 3v1m0 12v1m0 45v2m0 10v4m0 45v2m0 1v2m0 5v1m0 26v2m0 8v2m0 3v1M79 3v4m0 3v1m0 11v9m0 4v4m0 62v2m0 14v1m0 60v2m0 17v2m0 6v3M80 9v5m0 2v1m0 3v1m0 4v3m0 27v1m0 95v3m0 23v3m0 23v2M81 14v1m0 2v7m0 6v8m0 2v1m0 10v3m0 51v7m0 8v1m0 39v1m0 3v1m0 2v3m0 1v1m0 1v2m0 26v1m0 4v2M82 12v2m0 9v1m0 13v1m0 3v1m0 11v2m0 94v5m0 6v1m0 6v1m0 1v1m0 10v1m0 1v3m0 19v1M83 25v2m0 10v1m0 12v1m0 51v7M84 7v1m0 32v1m0 4v2m0 4v1m0 3v1m0 44v2m0 1v5m0 55v3m0 5v1m0 9v6M85 6v4m0 17v4m0 23v2m0 75v5m0 4v3m0 9v1m0 4v1m0 4v3m0 7v11m0 7v2m0 10v1m0 10v2M86 0v3m0 6v1m0 5v2m0 2v1m0 1v1m0 16v1m0 4v1m0 5v2m0 102v4m0 15v2m0 5v1m0 8v1m0 20v6M87 0v2m0 18v1m0 4v6m0 12v2m0 11v1m0 59v1m0 41v2M88 0v3m0 5v1m0 6v1m0 3v6m0 1v4m0 2v3m0 3v1m0 12v1m0 100v1m0 7v5m0 33v1m0 6v1m0 8v1M89 0v2m0 10v2m0 11v1m0 6v1m0 2v1m0 16v6m0 20v1m0 70v2m0 6v3m0 15v2m0 7v2m0 2v1m0 11v1m0 8v6M90 1v5m0 11v1m0 3v6m0 10v3m0 78v2m0 29v1m0 2v1m0 1v3m0 2v1m0 13v2M91 1v2m0 2v1m0 3v3m0 2v1m0 25v2m0 113v1m0 2v1m0 5v1m0 2v8m0 1v7m0 1v3m0 1v6m0 5v4m0 10v2M92 2v1m0 19v3m0 2v3m0 2v1m0 5v2m0 70v3m0 39v2m0 2v2m0 2v5m0 7v2m0 1v1m0 16v4m0 9v3m0 2v4M93 8v1m0 4v1m0 1v2m0 2v1m0 3v6m0 15v2m0 8v1m0 49v1m0 3v2m0 65v2m0 3v2m0 2v1m0 4v1m0 12v3m0 5v2M94 3v1m0 7v1m0 8v9m0 11v4m0 8v7m0 42v2m0 21v5m0 23v1m0 17v7m0 6v3m0 6v2m0 5v1m0 1v3m0 3v1m0 2v5M95 4v3m0 33v4m0 25v3m0 24v2m0 11v1m0 12v7m0 2v2m0 2v5m0 12v3m0 5v1m0 14v1m0 3v1m0 8v2m0 10v1m0 12v2M96 4v1m0 16v1m0 18v1m0 7v2m0 7v2m0 57v1m0 4v5m0 1v3m0 40v2m0 2v1m0 16v5m0 4v3m0 2v1m0 7v2M97 1v2m0 27v1m0 3v3m0 13v1m0 1v2m0 2v3m0 41v1m0 16v1m0 3v5m0 7v1m0 2v1m0 12v2m0 3v1m0 34v10m0 2v6m0 6v1M98 16v3m0 2v2m0 12v1m0 6v3m0 6v5m0 69v2m0 10v3m0 4v3m0 3v3m0 7v4m0 3v1m0 1v10m0 12v1m0 1v2m0 5v2m0 6v1m0 5v1M99 0v1m0 27v1m0 6v1m0 4v1m0 1v1m0 21v11m0 7v2m0 1v1m0 31v1m0 12v3m0 7v2m0 2v5m0 43v3m0 13v5M100 0v1m0 24v2m0 21v1m0 2v1m0 9v8m0 45v1m0 13v3m0 22v2m0 30v2m0 14v2m0 1v3m0 2v6M101 5v3m0 11v4m0 11v1m0 5v3m0 3v1m0 49v1m0 2v1m0 24v4m0 29v2m0 1v1m0 30v2M102 40v1m0 2v3m0 1v4m0 2v1m0 121v2m0 15v1m0 8v9M103 4v1m0 3v1m0 2v1m0 2v1m0 8v1m0 17v5m0 3v4m0 20v5m0 7v1m0 2v10m0 22v1m0 26v1m0 7v1m0 12v1m0 9v9m0 11v1m0 3v5M104 0v1m0 7v1m0 4v2m0 14v3m0 1v1m0 53v7m0 3v3m0 1v3m0 5v3m0 12v2m0 8v4m0 7v4m0 17v2m0 8v4m0 4v1m0 4v3m0 16v2m0 1v4M105 2v8m0 1v2m0 13v1m0 13v1m0 4v1m0 7v2m0 1v3m0 9v4m0 14v3m0 6v1m0 9v2m0 62v1m0 6v1m0 7v2m0 8v6m0 1v4M106 0v1m0 1v2m0 2v1m0 34v2m0 5v1m0 6v4m0 26v1m0 5v4m0 6v4m0 10v3m0 2v1m0 52v2m0 4v1m0 10v4m0 5v2m0 3v1M107 2v1m0 2v3m0 6v1m0 15v1m0 8v1m0 10v6m0 3v19m0 20v4m0 8v2m0 5v1m0 14v3m0 5v5m0 6v3m0 8v1m0 20v1m0 12v7m0 3v2M108 13v1m0 12v1m0 8v1m0 6v2m0 1v1m0 1v2m0 1v1m0 37v2m0 2v3m0 6v3m0 8v1m0 1v7m0 41v1m0 3v1m0 7v1m0 7v3m0 4v1m0 2v2m0 4v1m0 8v8M109 11v1m0 3v1m0 7v4m0 3v5m0 6v1m0 9v2m0 2v1m0 29v1m0 2v2m0 1v4m0 2v3m0 4v1m0 14v2m0 28v1m0 10v4m0 4v1m0 2v1m0 1v3m0 5v9m0 1v1m0 2v1m0 9v3m0 4v2m0 1v1M110 9v1m0 31v1m0 14v3m0 19v1m0 12v1m0 2v5m0 38v3m0 4v1m0 3v3m0 1v1m0 2v1m0 5v4m0 5v5m0 10v1m0 12v2m0 2v3M111 12v3m0 2v2m0 4v1m0 25v2m0 1v4m0 29v2m0 4v1m0 6v1m0 12v2m0 2v3m0 2v1m0 7v5m0 18v2m0 12v4m0 1v2m0 5v1m0 6v4m0 2v2m0 3v3m0 10v3m0 3v1M112 6v1m0 5v1m0 1v1m0 2v1m0 1v3m0 7v1m0 9v3m0 4v6m0 26v1m0 6v3m0 5v7m0 13v2m0 40v1m0 34v2m0 3v1m0 9v2m0 6v2M113 25v1m0 52v1m0 20v1m0 2v4m0 46v4m0 2v2m0 12v2m0 25v5M114 1v1m0 8v1m0 4v1m0 1v2m0 37v1m0 33v2m0 1v2m0 8v4m0 3v4m0 1v4m0 1v1m0 33v2m0 16v1m0 4v1m0 9v1m0 24v3M115 0v1m0 11v3m0 8v1m0 8v1m0 16v3m0 13v3m0 45v5m0 3v1m0 28v2m0 1v1m0 16v3m0 1v5m0 4v3m0 5v1m0 9v1m0 3v1m0 5v2M116 22v8m0 5v4m0 50v2m0 27v3m0 28v6m0 6v1m0 10v1m0 5v1m0 9v1m0 5v9m0 7v1M117 5v1m0 8v4m0 6v1m0 2v1m0 10v1m0 13v3m0 39v6m0 13v2m0 36v12m0 2v5m0 10v5m0 1v1m0 3v3m0 16v1M118 4v1m0 5v2m0 15v1m0 50v1m0 6v8m0 4v2m0 62v1m0 18v2m0 11v1m0 1v1m0 9v2M119 11v5m0 19v4m0 1v2m0 40v1m0 5v1m0 23v1m0 28v1m0 7v2m0 1v4m0 4v3m0 7v2m0 4v8m0 2v3m0 2v1m0 1v5m0 2v6m0 8v1M120 4v2m0 9v3m0 2v2m0 12v7m0 2v1m0 41v1m0 2v1m0 6v1m0 1v3m0 13v1m0 47v2m0 2v3m0 6v6m0 3v5m0 18v1M121 3v1m0 11v3m0 4v2m0 2v3m0 4v1m0 19v1m0 4v1m0 19v1m0 6v6m0 1v2m0 2v3m0 6v2m0 42v2m0 2v2m0 4v2m0 4v2m0 10v1m0 1v1M122 0v4m0 2v1m0 2v1m0 8v1m0 13v4m0 2v2m0 2v3m0 6v2m0 3v1m0 15v4m0 15v2m0 2v1m0 24v10m0 13v1m0 5v4m0 2v6M123 8v5m0 6v1m0 30v1m0 41v1m0 3v1m0 1v1m0 22v5m0 3v5m0 2v2m0 5v2m0 8v1m0 2v3M124 5v2m0 3v1m0 9v3m0 9v2m0 2v4m0 1v2m0 1v1m0 3v3m0 3v1m0 20v2m0 9v10m0 9v3m0 6v1m0 29v2m0 13v1m0 4v2M125 12v3m0 17v2m0 2v2m0 40v4m0 3v2m0 2v4m0 6v1m0 3v3m0 38v2m0 3v1m0 3v1m0 9v4m0 3v1m0 12v1m0 4v4m0 7v2m0 4v2m0 2v1m0 1v2M126 1v3m0 36v2m0 1v1m0 6v2m0 3v1m0 29v4m0 2v1m0 1v2m0 4v1m0 14v1m0 24v1m0 11v3m0 5v4m0 20v2m0 2v3m0 8v1m0 1v1m0 6v3m0 4v1M127 9v3m0 8v1m0 1v3m0 5v4m0 3v1m0 4v1m0 1v2m0 6v1m0 1v2m0 22v1m0 29v2m0 8v3m0 19v2m0 15v1m0 4v1m0 4v7m0 8v5m0 4v2m0 7v1m0 1v3m0 1v3M128 36v3m0 1v2m0 2v2m0 1v7m0 20v1m0 12v12m0 2v2m0 3v2m0 2v3m0 3v1m0 24v5m0 3v1m0 5v2m0 3v5m0 1v2m0 22v2m0 20v2M129 5v1m0 2v1m0 5v1m0 8v3m0 6v1m0 1v1m0 9v4m0 7v1m0 22v1m0 9v2m0 24v2m0 65v1m0 6v1m0 12v1M130 3v8m0 27v1m0 9v1m0 10v1m0 17v1m0 11v2m0 1v7m0 11v1m0 2v1m0 19v8m0 5v2m0 6v4m0 8v1m0 14v4m0 5v2m0 13v2M131 7v1m0 23v1m0 6v1m0 3v1m0 24v2m0 8v1m0 25v1m0 13v2m0 1v1m0 28v1m0 6v1m0 15v3m0 13v4M132 0v1m0 3v8m0 10v1m0 13v1m0 7v3m0 8v1m0 3v5m0 1v1m0 18v3m0 5v1m0 3v1m0 17v2m0 4v1m0 4v3m0 26v2m0 17v2m0 4v3m0 23v2M133 1v1m0 7v1m0 23v1m0 2v1m0 3v1m0 23v7m0 7v1m0 3v1m0 17v4m0 11v1m0 1v1m0 3v3m0 14v4m0 7v2m0 16v3m0 2v1m0 1v11m0 1v2m0 2v2m0 8v1m0 4v2m0 2v1M134 10v1m0 4v3m0 3v2m0 4v1m0 2v1m0 61v1m0 16v1m0 4v1m0 3v1m0 5v1m0 2v2m0 29v2m0 13v2m0 7v3m0 4v1m0 3v1m0 7v6M135 1v2m0 26v1m0 4v1m0 8v3m0 1v1m0 14v14m0 7v2m0 7v9m0 1v2m0 4v5m0 5v3m0 28v3m0 24v1m0 2v1m0 7v1m0 4v3m0 9v6M136 51v1m0 1v5m0 27v6m0 7v1m0 4v5m0 7v1m0 5v1m0 9v1m0 15v1m0 2v1m0 7v1m0 1v2m0 7v2m0 3v3m0 2v1m0 11v1m0 7v1M137 1v1m0 5v1m0 3v1m0 9v1m0 16v1m0 1v1m0 2v7m0 3v2m0 13v4m0 3v3m0 10v2m0 10v1m0 14v1m0 2v1m0 2v10m0 1v3m0 25v1m0 5v2m0 9v3m0 3v1m0 4v1m0 2v1M138 2v2m0 13v1m0 9v1m0 2v2m0 3v2m0 3v5m0 1v4m0 19v7m0 23v1m0 7v3m0 9v1m0 23v6m0 7v1m0 3v3m0 5v2m0 7v1m0 3v2m0 6v1M139 5v4m0 6v2m0 8v2m0 18v3m0 5v1m0 11v13m0 20v6m0 1v8m0 10v4m0 11v4m0 22v5m0 5v2m0 3v8m0 1v1M140 41v1m0 2v1m0 4v1m0 2v1m0 6v1m0 2v1m0 3v1m0 14v3m0 3v5m0 23v2m0 21v1m0 15v1m0 3v2m0 2v1m0 1v2m0 15v3m0 15v1M141 11v3m0 49v1m0 6v5m0 3v1m0 7v2m0 2v5m0 12v6m0 3v3m0 31v2m0 13v1m0 2v3m0 1v1m0 8v1m0 6v3m0 2v2m0 4v2m0 5v1M142 0v10m0 19v4m0 19v2m0 25v1m0 4v2m0 3v3m0 3v1m0 20v1m0 43v3m0 3v2m0 3v6m0 2v1m0 2v2m0 3v5m0 8v1m0 3v1M143 1v1m0 9v1m0 2v1m0 37v2m0 7v7m0 19v2m0 6v2m0 12v1m0 3v4m0 1v3m0 29v1M144 2v6m0 17v1m0 2v3m0 7v2m0 11v1m0 2v1m0 21v2m0 24v2m0 48v1m0 19v1m0 7v7m0 19v1M145 21v2m0 62v7m0 1v2m0 4v1m0 13v2m0 38v3m0 4v2m0 3v9m0 3v1m0 4v9M146 2v2m0 5v1m0 11v1m0 22v1m0 9v2m0 29v7m0 2v2m0 1v1m0 20v1m0 2v2m0 22v1m0 14v1m0 4v3m0 1v1m0 2v1m0 7v1m0 8v1m0 22v2M147 14v1m0 54v3m0 3v1m0 10v1m0 28v1m0 5v1m0 10v1m0 12v2m0 2v3m0 7v2m0 1v1m0 1v3m0 6v7m0 5v7M148 3v2m0 29v3m0 3v1m0 18v4m0 16v1m0 8v1m0 68v1m0 1v2m0 15v5m0 10v1M149 11v2m0 1v1m0 30v2m0 14v2m0 2v6m0 5v2m0 37v1m0 1v1m0 3v2m0 6v1m0 6v4m0 20v1m0 14v2m0 10v3m0 5v1M150 5v1m0 5v1m0 42v2m0 33v3m0 23v1m0 5v1m0 6v2m0 6v3m0 2v1m0 18v6m0 13v1m0 2v1m0 6v1m0 15v4M151 28v4m0 8v1m0 37v3m0 32v1m0 8v1m0 32v2m0 29v2M152 15v2m0 1v1m0 11v1m0 8v4m0 46v1m0 7v3m0 27v4m0 1v2m0 43v1M153 4v1m0 4v1m0 4v1m0 3v2m0 16v1m0 7v4m0 1v2m0 35v9m0 24v1m0 49v1m0 6v4m0 9v5m0 1v1M154 21v1m0 8v2m0 6v1m0 49v4m0 1v4m0 47v1m0 27v3m0 14v1M155 17v2m0 17v1m0 12v2m0 35v6m0 58v5m0 5v1m0 4v3m0 15v4m0 1v1m0 6v1M156 84v5m0 8v2m0 63v3m0 1v1m0 8v1M157 13v4m0 18v2m0 5v1m0 4v3m0 12v4m0 6v3m0 9v4m0 8v2m0 48v3m0 11v4m0 1v1m0 2v1m0 2v2m0 5v6m0 4v2m0 22v3M158 4v1m0 7v1m0 28v2m0 3v2m0 2v1m0 32v3m0 2v1m0 2v1m0 22v7m0 15v2m0 37v2m0 7v2m0 4v3m0 15v2M159 0v3m0 6v4m0 6v1m0 29v1m0 37v1m0 7v4m0 22v1m0 11v1m0 3v4m0 14v1m0 19v4m0 10v1m0 14v2m0 3v1M160 8v1m0 11v2m0 18v2m0 7v1m0 1v1m0 2v1m0 33v1m0 6v4m0 26v2m0 6v3m0 5v2m0 12v1m0 12v1m0 6v1m0 1v1M161 7v3m0 2v2m0 1v9m0 4v1m0 20v1m0 3v2m0 24v1m0 10v1m0 6v3m0 42v2m0 1v4M162 2v2m0 8v1m0 6v3m0 11v1m0 2v2m0 11v2m0 46v3m0 75v1m0 28v4M163 3v5m0 7v3m0 25v1m0 42v3m0 32v2m0 3v9m0 14v1m0 2v1m0 1v2m0 17v2m0 18v1m0 5v1m0 3v2m0 9v1M164 12v2m0 22v1m0 14v4m0 1v2m0 21v1m0 16v1m0 70v2m0 2v1m0 4v3m0 7v9m0 1v1m0 2v1m0 4v4m0 1v1M165 11v2m0 42v1m0 25v1m0 40v1m0 15v4m0 13v1m0 4v7m0 2v2m0 4v1m0 2v3m0 8v4m0 12v3M166 0v2m0 20v3m0 9v4m0 5v5m0 1v6m0 10v8m0 5v4m0 15v1m0 29v5m0 15v2m0 5v1m0 9v1m0 27v1m0 2v1m0 17v2M167 2v3m0 4v1m0 8v1m0 97v1m0 28v1m0 9v1m0 13v1m0 22v1m0 1v1m0 9v3M168 13v8m0 4v3m0 1v1m0 10v2m0 11v2m0 82v3m0 15v1m0 10v2m0 1v1m0 2v1m0 1v2m0 37v2M169 5v5m0 4v1m0 1v1m0 17v2m0 2v2m0 8v1m0 25v4m0 76v3m0 5v7m0 1v1m0 5v1m0 6v2m0 4v5m0 1v5m0 5v2M170 2v1m0 10v2m0 21v2m0 12v5m0 1v4m0 9v9m0 5v3m0 11v2m0 15v1m0 2v1m0 34v2m0 6v1m0 9v3M171 0v1m0 9v7m0 2v3m0 16v1m0 12v1m0 2v1m0 5v3m0 5v6m0 16v1m0 5v4m0 14v4m0 36v4m0 2v3m0 19v1M172 0v3m0 9v1m0 27v3m0 6v1m0 5v1m0 27v4m0 1v2m0 22v1m0 40v2m0 4v2m0 20v3M173 1v2m0 20v2m0 4v1m0 13v4m0 29v2m0 3v1m0 17v2m0 9v2m0 33v4m0 21v2m0 1v6M174 10v1m0 5v1m0 48v2m0 17v1m0 3v8m0 4v2m0 1v1m0 4v5m0 48v1m0 3v2m0 2v7m0 7v2m0 11v2M175 1v1m0 2v4m0 2v1m0 30v3m0 2v7m0 41v1m0 8v9m0 42v1m0 16v5m0 4v3m0 30v1M176 13v2m0 2v1m0 21v1m0 1v9m0 3v3m0 27v1m0 14v2m0 1v1m0 6v2m0 30v4m0 25v1m0 9v1M177 10v2m0 2v8m0 20v1m0 12v1m0 52v1m0 1v3m0 55v1M178 7v3m0 10v1m0 25v3m0 4v2m0 26v1m0 20v2m0 42v3m0 7v1m0 18v2m0 2v1m0 26v3M179 2v2m0 5v1m0 33v5m0 62v1m0 3v1m0 38v3m0 4v3m0 3v1m0 2v1M180 1v2m0 5v2m0 5v3m0 8v1m0 4v2m0 6v3m0 44v1m0 8v1m0 15v2m0 4v2m0 7v1m0 26v1m0 6v6m0 2v2m0 16v1m0 2v4m0 1v1m0 12v3M181 3v2m0 5v2m0 37v1m0 12v4m0 19v1m0 23v2m0 1v2m0 11v1m0 24v1m0 11v1m0 10v1m0 1v4m0 27v2M182 1v1m0 8v2m0 71v1m0 3v1m0 4v4m0 4v2m0 3v1m0 6v1m0 21v2m0 17v1m0 46v2m0 7v5M183 10v4m0 9v2m0 10v2m0 11v3m0 9v1m0 40v1m0 2v3m0 1v1m0 54v3m0 2v1m0 10v1m0 29v1M184 0v4m0 6v2m0 3v1m0 5v1m0 40v12m0 13v1m0 6v5m0 8v1m0 3v2m0 41v2m0 4v2M185 0v1m0 1v1m0 5v3m0 10v1m0 16v1m0 35v1m0 14v3m0 3v5m0 61v4m0 3v2m0 2v2M186 11v2m0 1v1m0 36v2m0 23v1m0 10v1m0 4v7m0 6v1m0 48v2m0 4v2m0 4v1m0 4v2m0 7v2m0 29v3M187 10v1m0 5v2m0 14v7m0 5v1m0 3v3m0 4v1m0 12v2m0 5v3m0 5v5m0 2v3m0 68v1m0 2v1m0 13v1m0 7v2m0 1v2M188 0v1m0 2v2m0 1v1m0 3v1m0 1v1m0 30v1m0 2v1m0 1v1m0 4v2m0 6v2m0 7v5m0 11v1m0 4v1m0 1v7m0 9v2m0 52v1m0 3v1m0 3v2m0 9v1m0 3v1M189 1v2m0 4v1m0 2v4m0 33v9m0 31v4m0 15v1m0 14v1m0 33v2m0 7v5m0 5v7m0 2v1m0 25v6M190 2v1m0 14v4m0 10v4m0 3v2m0 1v1m0 3v2m0 49v1m0 1v2m0 1v1m0 15v3m0 35v1m0 6v1m0 3v3m0 3v4m0 8v1m0 29v1M191 7v2m0 4v2m0 23v1m0 5v1m0 2v1m0 1v2m0 34v7m0 5v1m0 55v1m0 1v4m0 5v1M192 5v1m0 7v2m0 33v1m0 6v1m0 38v6m0 44v2m0 1v2m0 13v4m0 8v2m0 32v2M193 1v2m0 4v1m0 38v4m0 3v1m0 8v5m0 1v1m0 3v6m0 17v5m0 4v2m0 74v1M194 0v2m0 8v2m0 5v2m0 2v1m0 16v1m0 15v1m0 36v2m0 2v3m0 65v4m0 1v1m0 30v2m0 8v2M195 8v1m0 2v1m0 4v3m0 1v2m0 18v3m0 3v1m0 8v1m0 6v4m0 11v1m0 21v1m0 10v3m0 7v1m0 32v1m0 8v1m0 5v1m0 38v1m0 1v5M196 7v1m0 53v3m0 3v8m0 23v1m0 21v1m0 34v1M197 12v3m0 69v2m0 5v1m0 3v6m0 1v2m0 21v2m0 28v1m0 2v8M198 0v1m0 4v1m0 3v1m0 36v2m0 1v1m0 4v1m0 33v3m0 4v1m0 9v5m0 52v2m0 29v1m0 19v1M199 0v1m0 21v1m0 3v1m0 14v2m0 10v1m0 30v2m0 6v3m0 14v1m0 42v2m0 3v1m0 50v2m0 1v3M200 5v2m0 10v1m0 1v4m0 5v2m0 6v2m0 14v2m0 60v2m0 1v4m0 43v4m0 20v2m0 14v2M201 19v1m0 7v5m0 3v1m0 16v1m0 25v1m0 4v4m0 32v1M202 1v2m0 16v3m0 10v4m0 2v1m0 75v1m0 4v1m0 35v1m0 3v1m0 5v2m0 17v1M203 30v2m0 14v1m0 4v1m0 28v1m0 2v1m0 16v5m0 1v3m0 7v1m0 60v1m0 10v1m0 23v1M204 11v1m0 2v2m0 1v3m0 1v2m0 17v5m0 4v4m0 41v1m0 1v5m0 7v2m0 1v1m0 1v4m0 44v2M205 6v2m0 1v2m0 14v7m0 1v2m0 7v1m0 7v3m0 27v3m0 1v2m0 7v3m0 4v4m0 4v3m0 3v3m0 55v3M206 6v1m0 2v2m0 2v2m0 7v4m0 16v1m0 7v2m0 1v2m0 57v1m0 31v4m0 17v1m0 5v1m0 15v1m0 5v8M207 5v1m0 4v1m0 4v1m0 4v3m0 4v8m0 66v8m0 53v1m0 41v3m0 1v3M208 0v1m0 1v2m0 4v1m0 4v4m0 2v7m0 3v1m0 1v3m0 17v1m0 2v1m0 45v1m0 50v1m0 1v1m0 1v1M209 8v1m0 1v2m0 3v10m0 3v2m0 1v4m0 1v2m0 8v2m0 1v3m0 43v2m0 3v1m0 6v1M210 9v5m0 22v3m0 1v2m0 7v1m0 105v1M211 4v2m0 4v2m0 20v6m0 3v1m0 13v1m0 24v3m0 72v3m0 2v2m0 17v3M212 0v5m0 5v4m0 13v2m0 3v2m0 1v5m0 7v1m0 1v1m0 73v5m0 36v2m0 7v1m0 32v2m0 6v1M213 0v1m0 3v2m0 1v2m0 4v2m0 12v2m0 21v1m0 3v1m0 114v6m0 1v1m0 23v1M214 0v2m0 1v1m0 11v5m0 2v3m0 13v2m0 81v3m0 35v3m0 44v2M215 6v2m0 2v1m0 3v7m0 2v6m0 10v1m0 12v2m0 1v1m0 5v2m0 15v6m0 1v8m0 26v1M216 1v2m0 1v2m0 15v6m0 26v2m0 61v1m0 39v1m0 7v1m0 10v1m0 21v5M217 12v3m0 12v2m0 8v3m0 4v4m0 3v1m0 37v2m0 8v1m0 29v2m0 62v1m0 17v1M218 1v2m0 18v1m0 5v1m0 3v1m0 2v2m0 7v9m0 7v2m0 17v1m0 14v1m0 66v1m0 1v4M219 11v3m0 15v6m0 9v1m0 7v3m0 24v1m0 6v4m0 3v4m0 32v3m0 9v6m0 15v1m0 41v3m0 5v1M220 6v3m0 10v5m0 1v1m0 11v1m0 4v5m0 38v1m0 15v1m0 19v5m0 13v2m0 27v1m0 15v3m0 4v1M221 5v2m0 14v2m0 4v5m0 2v4m0 2v2m0 11v1m0 47v2m0 4v1m0 6v4m0 3v2m0 5v6m0 3v1m0 5v2m0 1v2m0 1v2m0 4v1m0 10v2m0 1v1m0 2v1m0 31v1M222 5v2m0 3v2m0 10v3m0 2v2m0 3v7m0 7v4m0 5v1m0 24v1m0 23v5m0 5v1m0 6v1m0 7v5m0 21v3m0 10v1m0 6v1m0 8v1m0 5v4m0 12v1m0 5v3M223 5v1m0 1v1m0 9v1m0 2v4m0 8v2m0 2v2m0 16v1m0 29v5m0 9v3m0 9v1m0 3v1m0 1v2m0 3v2m0 31v2m0 15v1m0 3v2m0 3v2m0 6v1m0 2v1m0 2v6m0 5v1M224 5v1m0 2v1m0 6v1m0 6v1m0 4v1m0 3v3m0 1v3m0 40v2m0 2v3m0 12v2m0 2v3m0 1v1m0 49v4m0 15v1m0 2v2m0 16v1m0 5v3M225 3v1m0 4v1m0 6v5m0 1v1m0 1v5m0 4v6m0 12v2m0 3v1m0 22v3m0 44v3m0 18v1m0 3v1m0 1v1m0 7v9m0 19v3m0 4v1m0 13v2m0 2v1M226 16v5m0 6v5m0 11v1m0 3v1m0 3v3m0 1v1m0 24v3m0 1v3m0 47v8m0 18v1m0 11v3m0 31v4M227 30v2m0 2v1m0 9v1m0 99v2m0 14v1m0 8v3m0 6v1m0 3v1m0 12v2m0 9v9M228 12v2m0 27v3m0 1v5m0 31v6m0 5v2m0 4v2m0 29v2m0 27v2m0 12v2m0 15v7m0 8v2m0 3v1m0 2v2M229 1v1m0 15v1m0 39v3m0 24v4m0 2v2m0 4v2m0 1v1m0 24v8m0 3v3m0 5v2m0 13v1m0 1v2m0 26v2m0 5v1m0 15v1M230 17v3m0 1v1m0 34v1m0 7v1m0 20v1m0 7v1m0 6v2m0 4v5m0 1v1m0 8v2m0 6v4m0 2v6m0 7v1m0 4v2m0 8v1m0 3v2m0 2v1m0 1v2m0 18v2m0 13v7M231 0v1m0 5v1m0 14v8m0 6v2m0 6v3m0 9v1m0 24v3m0 11v2m0 7v2m0 9v1m0 7v4m0 8v1m0 13v1m0 7v1m0 3v2m0 7v2m0 15v2m0 5v1m0 12v5m0 1v1M232 21v1m0 2v3m0 7v1m0 5v1m0 7v1m0 1v1m0 2v2m0 29v1m0 8v1m0 32v6m0 73v1m0 6v2M233 1v1m0 1v1m0 3v1m0 7v1m0 26v1m0 38v1m0 1v1m0 26v3m0 23v8M234 2v2m0 28v1m0 14v1m0 33v1m0 10v2m0 25v2m0 5v1m0 13v3m0 3v3m0 2v4m0 24v3m0 22v1m0 8v1M235 36v1m0 7v1m0 1v2m0 2v1m0 44v2m0 9v2m0 17v2m0 4v3m0 18v5m0 8v4m0 2v1m0 6v1m0 2v5m0 1v2m0 2v3m0 2v8m0 5v1M236 0v1m0 4v4m0 15v2m0 10v1m0 8v1m0 9v1m0 27v1m0 19v2m0 1v1m0 2v4m0 8v1m0 6v1m0 1v3m0 6v5m0 1v4m0 23v6m0 4v1m0 1v4m0 1v3m0 7v16M237 0v6m0 34v1m0 2v1m0 11v1m0 22v4m0 8v2m0 11v1m0 22v2m0 8v3m0 13v1m0 12v1m0 3v1m0 3v2m0 4v1m0 3v2m0 5v2m0 2v2m0 4v2M238 12v2m0 27v4m0 8v3m0 24v1m0 8v5m0 18v1m0 7v1m0 6v5m0 10v8m0 4v3m0 19v1m0 24v1M239 7v4m0 29v1m0 7v5m0 2v1m0 26v1m0 1v3m0 20v3m0 11v1m0 13v1m0 10v2m0 12v1m0 11v4m0 13v2m0 2v2m0 11v3M240 0v2m0 5v3m0 2v1m0 7v2m0 3v1m0 4v2m0 8v1m0 33v8m0 1v2m0 2v6m0 1v3m0 24v1m0 33v1m0 3v1m0 1v1m0 10v4m0 1v1m0 1v1m0 7v2M241 1v4m0 9v1m0 2v1m0 20v2m0 48v4m0 3v1m0 3v1m0 21v1m0 4v10m0 11v3m0 1v9M242 2v1m0 23v6m0 20v1m0 1v1m0 29v6m0 24v1m0 36v3m0 3v2M243 0v1m0 1v4m0 39v1m0 10v1m0 1v14m0 2v1m0 6v3m0 65v4m0 4v2m0 10v5M244 13v1m0 2v1m0 2v1m0 3v1m0 50v2m0 5v1m0 39v2m0 8v2m0 4v2m0 13v3m0 4v1m0 12v4m0 13v2m0 21v2M245 2v2m0 31v1m0 4v2m0 15v4m0 31v2m0 7v6m0 9v1m0 9v1m0 5v1m0 1v10m0 12v1m0 33v3M246 0v1m0 6v1m0 3v3m0 41v2m0 13v8m0 36v1m0 13v2m0 8v2M247 12v3m0 25v3m0 2v1m0 5v2m0 26v1m0 9v3m0 7v1m0 21v15M248 7v3m0 30v1m0 63v4m0 4v1m0 8v6m0 2v1m0 3v1m0 1v3m0 1v3m0 1v2m0 9v2m0 31v1M249 9v6m0 33v3m0 59v3m0 1v1m0 1v1m0 11v1m0 36v2m0 1v6m0 1v7m0 8v1m0 8v1m0 4v2M250 0v2m0 7v2m0 38v1m0 5v1m0 63v1m0 8v2m0 3v1m0 12v2m0 19v3m0 20v1M251 23v1m0 26v1m0 63v1m0 6v2m0 1v3m0 3v3m0 3v6m0 6v1m0 6v1m0 11v1M252 1v3m0 3v3m0 96v4m0 7v1m0 3v1m0 5v5m0 23v4M253 5v3m0 35v2m0 5v1m0 1v3m0 23v3m0 1v1m0 31v4m0 4v11m0 5v1m0 3v4m0 5v1M254 36v1m0 13v2m0 28v8m0 2v1m0 21v1m0 30v1m0 7v1m0 20v2m0 3v6m0 7v4m0 4v2m0 6v1M255 4v3m0 33v1m0 8v2m0 51v6m0 3v2m0 23v3m0 21v3m0 6v3m0 8v16m0 1v1m0 9v5m0 2v1M256 0v1m0 8v2m0 15v1m0 13v4m0 4v2m0 2v1m0 2v1m0 51v2m0 4v2m0 17v1m0 6v3m0 18v2m0 5v2m0 1v1m0 4v1m0 2v2m0 3v13m0 7v4m0 5v3M257 5v1m0 2v3m0 17v3m0 7v2m0 8v3m0 56v2m0 1v2m0 39v4M258 31v4m0 12v1m0 1v3m0 2v1m0 51v1m0 2v2m0 61v1m0 2v2m0 32v2M259 2v1m0 6v1m0 37v1m0 2v5m0 81v2m0 21v1m0 49v3M260 1v1m0 3v3m0 1v1m0 4v1m0 7v5m0 18v5m0 3v1m0 73v1m0 29v1m0 7v1m0 33v1m0 9v2M261 100v3m0 16v1m0 25v1m0 30v1m0 5v1m0 5v3m0 11v2m0 4v2m0 3v2M262 4v1m0 9v1m0 14v4m0 6v1m0 4v1m0 72v2m0 45v12m0 10v2m0 2v3m0 18v1M263 5v1m0 1v1m0 2v1m0 4v2m0 20v1m0 7v1m0 8v1m0 21v2m0 18v1m0 74v2m0 25v3m0 5v2m0 6v1M264 9v1m0 1v1m0 1v2m0 33v1m0 28v1m0 73v1m0 8v2m0 36v9M265 3v1m0 11v2m0 8v2m0 7v3m0 17v2m0 39v3m0 51v1m0 2v4m0 23v1m0 18v6m0 6v2M266 3v1m0 11v1m0 29v1m0 30v2m0 71v1m0 5v3m0 4v1m0 3v2m0 7v2m0 13v6M267 53v1m0 154v4M268 19v8m0 18v3m0 32v3m0 11v3m0 3v5m0 9v1m0 86v1m0 3v4M269 1v1m0 21v4m0 5v6m0 6v1m0 58v2m0 2v2m0 94v4M270 11v1m0 27v4m0 1v1m0 33v1m0 2v4m0 17v4m0 40v3m0 2v2m0 7v4m0 40v1m0 2v4M271 12v1m0 6v2m0 8v1m0 12v1m0 1v1m0 49v1m0 59v2m0 1v1m0 19v3m0 22v2M272 17v1m0 19v1m0 12v2m0 42v1m0 54v8M273 37v5m0 3v2m0 31v12m0 3v7m0 29v7M274 13v1m0 33v1m0 7v1m0 23v1m0 2v2m0 6v9m0 1v7m0 22v3m0 3v2m0 4v1m0 57v1M275 10v2m0 37v1m0 6v5m0 10v3m0 8v1m0 3v1m0 4v1m0 2v2m0 5v2m0 5v5m0 11v2m0 8v4m0 4v6m0 7v1m0 2v2m0 7v1m0 15v1m0 4v1m0 5v2m0 3v1m0 3v2M276 0v1m0 48v3m0 38v2m0 5v1m0 45v1m0 5v2m0 5v4M277 8v3m0 2v1m0 1v2m0 6v1m0 14v1m0 5v1m0 2v1m0 2v1m0 5v3m0 25v4m0 18v1m0 6v1m0 7v10m0 14v3m0 1v7M278 14v1m0 40v3m0 27v3m0 1v2m0 32v14m0 1v1m0 9v1M279 1v1m0 8v1m0 38v1m0 3v2m0 30v1m0 9v2m0 14v1m0 28v3m0 16v1m0 4v4m0 6v2m0 14v2m0 9v1m0 7v1M280 8v2m0 33v1m0 1v1m0 3v1m0 2v1m0 25v7m0 3v4m0 13v2m0 1v1m0 3v1m0 4v2m0 2v1m0 1v2m0 12v1m0 3v2m0 2v4m0 11v1m0 1v2m0 1v9m0 6v1m0 1v2m0 4v2m0 3v1m0 10v4M281 3v1m0 3v1m0 22v1m0 20v3m0 15v8m0 2v1m0 10v2m0 5v3m0 16v1m0 20v2m0 5v1m0 15v1m0 11v1m0 4v4m0 18v1M282 19v1m0 4v1m0 5v1m0 8v1m0 2v1m0 4v1m0 2v2m0 30v3m0 3v2m0 7v1m0 10v4m0 9v1m0 3v1m0 4v2m0 1v4m0 5v4m0 1v2m0 5v4m0 9v2m0 9v4m0 3v1m0 19v2m0 7v1M283 7v3m0 31v3m0 1v5m0 28v9m0 1v5m0 5v2m0 4v2m0 5v2m0 16v4m0 2v4m0 4v6m0 18v1m0 11v1m0 9v2m0 13v2m0 3v6M284 9v1m0 7v1m0 11v2m0 9v3m0 35v1m0 5v2m0 7v1m0 1v2m0 3v1m0 7v1m0 8v1m0 1v1M285 17v1m0 12v1m0 17v1m0 33v5m0 10v2m0 3v1m0 18v1m0 15v1M286 21v4m0 1v5m0 5v2m0 2v3m0 53v1m0 24v6m0 14v1m0 11v3m0 33v1M287 8v6m0 3v14m0 15v1m0 33v2m0 4v3m0 32v5m0 2v5m0 6v1m0 3v4m0 1v1m0 23v1m0 5v2m0 29v3M288 12v3m0 18v1m0 4v1m0 6v2m0 1v1m0 6v1m0 64v1m0 18v1M289 0v1m0 4v1m0 5v3m0 1v2m0 26v1m0 1v1m0 3v1m0 4v1m0 60v1m0 15v1m0 5v3m0 6v1M290 6v1m0 2v1m0 42v1m0 1v2m0 65v7m0 15v1m0 1v4m0 11v1m0 1v1M291 8v3m0 2v1m0 14v1m0 6v1m0 1v1m0 4v1m0 38v2m0 2v5m0 51v4m0 14v1M292 9v2m0 2v2m0 31v2m0 6v1m0 25v1m0 25v1m0 7v1m0 1v2m0 46v5m0 6v1m0 5v2m0 21v6M293 4v1m0 1v1m0 1v1m0 8v4m0 2v2m0 10v4m0 58v5m0 8v1m0 2v1m0 1v1m0 23v8m0 40v2m0 24v1M294 10v2m0 7v2m0 3v6m0 13v1m0 3v1m0 1v2m0 49v3m0 9v1m0 4v1m0 1v1m0 11v4m0 7v3m0 2v2m0 16v2m0 3v4m0 37v3M295 0v2m0 10v3m0 3v3m0 4v2m0 6v1m0 11v6m0 4v2m0 9v5m0 34v1m0 106v1M296 0v2m0 6v1m0 14v2m0 4v1m0 3v2m0 1v1m0 16v1m0 1v1m0 44v2m0 1v5m0 4v1m0 39v3M297 7v2m0 15v1m0 3v1m0 20v1m0 4v1m0 59v4M298 15v1m0 15v7m0 21v3m0 28v2m0 6v1m0 17v3m0 33v2m0 4v1m0 1v1m0 6v1m0 1v1m0 13v3m0 4v5m0 2v1m0 11v1m0 4v1M299 0v2m0 11v2m0 68v1M300 0v3m0 11v1m0 10v1m0 1v2m0 10v1m0 3v2m0 1v1m0 31v1m0 23v1m0 18v1m0 5v1m0 5v3m0 1v7m0 8v2m0 1v1m0 32v3M301 40v1m0 73v1m0 10v2m0 3v2m0 8v1m0 9v1m0 38v1M302 1v3m0 2v1m0 3v2m0 4v1m0 23v1m0 11v2m0 1v1m0 104v2" stroke="#f4a0b4" stroke-width="1.03" fill="none"/>
<path transform="translate(0.5,0)" d="M0 0v1m0 32v3m0 76v1m0 10v5m0 1v5m0 3v4m0 9v2m0 7v2m0 5v1m0 2v2m0 2v2m0 2v2m0 3v2m0 2v2m0 2v2m0 2v9m0 10v1M1 9v1m0 2v2m0 36v3m0 1v1m0 1v3m0 41v1m0 7v5m0 38v4m0 7v2m0 14v10m0 3v1m0 5v1m0 2v2m0 1v1m0 2v5M2 1v1m0 10v3m0 25v1m0 3v1m0 8v3m0 1v2m0 43v2m0 2v1m0 2v1m0 2v1m0 49v5m0 1v1m0 7v2m0 8v4m0 1v1m0 3v14m0 3v3M3 1v3m0 17v5m0 4v1m0 1v2m0 1v5m0 6v2m0 1v1m0 5v1m0 44v5m0 4v4m0 59v3m0 1v3m0 10v1m0 2v4m0 14v3M4 0v2m0 2v1m0 12v5m0 16v7m0 3v1m0 6v1m0 66v7m0 2v1m0 6v6m0 11v2m0 3v11m0 7v1m0 10v4m0 12v1m0 6v2M5 6v1m0 7v1m0 4v3m0 4v1m0 1v1m0 1v2m0 8v1m0 11v1m0 52v6m0 10v7m0 1v3m0 4v5m0 2v6M6 23v1m0 6v10m0 61v2m0 5v3m0 10v10m0 2v3m0 1v2m0 4v6m0 4v5m0 7v1m0 1v1m0 3v2m0 2v2m0 1v2m0 11v5m0 7v1m0 9v2M7 5v1m0 11v3m0 3v1m0 5v3m0 6v2m0 16v3m0 42v4m0 4v4m0 37v1m0 4v2m0 3v1m0 7v8m0 3v4m0 1v2m0 3v3m0 10v1m0 3v1m0 7v1M8 1v3m0 11v4m0 11v1m0 5v4m0 8v7m0 2v2m0 47v1m0 12v3m0 17v10m0 3v3m0 5v2m0 5v1m0 8v4m0 5v3m0 1v3m0 7v7M9 15v5m0 5v2m0 3v6m0 8v2m0 1v1m0 6v2m0 44v2m0 1v4m0 1v5m0 47v2m0 2v1m0 1v1m0 2v1m0 6v4m0 1v2m0 4v2m0 7v8m0 1v10M10 14v1m0 5v3m0 1v6m0 23v1m0 46v1M11 0v1m0 9v1m0 17v1m0 8v4m0 4v2m0 82v4m0 24v1M12 5v1m0 4v2m0 3v1m0 4v2m0 4v8m0 1v1m0 4v2m0 1v2m0 2v1m0 6v2m0 71v2m0 1v2m0 4v1m0 1v6m0 4v2m0 3v2m0 3v1m0 1v1m0 8v3m0 3v30m0 6v1M13 2v3m0 3v3m0 6v4m0 1v3m0 1v4m0 1v1m0 6v2m0 1v1m0 79v2m0 1v10m0 11v5M14 10v2m0 13v3m0 12v1m0 6v2m0 72v2m0 15v2M15 5v1m0 9v5m0 1v3m0 2v3m0 15v1m0 2v1m0 6v1m0 47v2m0 1v2m0 5v1m0 9v1m0 16v5m0 8v1m0 43v3M16 2v1m0 12v2m0 2v1m0 11v1m0 2v3m0 13v2m0 54v1m0 5v1m0 10v1m0 15v3m0 1v6m0 51v1m0 8v3M17 26v3m0 2v3m0 4v6m0 8v1m0 1v1m0 45v6m0 4v3m0 8v3m0 7v1m0 11v6m0 4v4m0 35v1m0 14v1m0 4v3M18 3v1m0 13v9m0 8v3m0 4v3m0 8v1m0 47v5m0 1v2m0 1v4m0 24v1m0 23v1m0 8v1M19 7v1m0 4v2m0 1v1m0 5v1m0 11v2m0 2v3m0 2v2m0 2v1m0 53v2m0 3v3m0 3v2m0 16v1m0 24v2m0 7v12m0 2v2m0 3v2m0 2v1m0 1v1m0 3v8M20 1v4m0 2v2m0 12v3m0 1v2m0 4v9m0 15v1m0 65v1m0 3v2m0 10v2m0 7v3m0 3v4m0 8v1m0 17v1m0 2v3m0 12v3m0 5v7M21 7v2m0 8v1m0 1v1m0 7v3m0 8v6m0 9v6m0 96v2m0 2v1m0 4v5m0 2v2m0 4v4m0 6v1m0 3v3m0 1v2m0 1v3m0 5v3M22 9v1m0 5v6m0 13v2m0 141v2m0 6v1m0 6v2m0 5v3m0 8v5M23 6v3m0 11v1m0 1v3m0 8v2m0 9v1m0 7v2m0 107v1m0 1v3m0 2v1m0 11v1m0 12v2m0 9v1m0 5v5M24 0v5m0 6v1m0 15v4m0 5v6m0 1v2m0 5v1m0 109v6m0 7v2m0 8v2m0 7v10m0 7v2M25 2v4m0 9v3m0 5v3m0 4v2m0 6v2m0 1v1m0 11v2m0 95v4m0 8v1m0 2v2m0 4v5m0 2v2m0 10v7m0 5v6M26 0v1m0 3v4m0 6v3m0 1v3m0 4v1m0 14v2m0 3v1m0 3v4m0 68v6m0 1v5m0 27v6m0 2v5m0 4v4m0 2v4m0 6v1m0 5v1m0 3v1m0 2v3m0 3v1M27 7v1m0 3v1m0 7v1m0 2v6m0 2v6m0 3v8m0 3v1m0 2v1m0 78v2m0 1v7m0 5v1m0 17v1m0 4v10m0 4v3m0 4v5m0 3v1m0 8v3m0 1v3M28 0v1m0 17v2m0 6v3m0 1v2m0 1v2m0 3v2m0 1v2m0 6v4m0 2v1m0 65v1m0 6v1m0 2v2m0 3v1m0 3v5m0 1v2m0 12v24m0 6v2m0 9v6M29 10v3m0 1v1m0 2v4m0 5v1m0 4v3m0 1v5m0 3v1m0 1v3m0 96v5m0 14v3m0 1v1m0 3v3m0 4v2m0 8v3m0 1v5m0 4v3M30 2v1m0 12v8m0 2v1m0 1v1m0 1v5m0 4v1m0 2v4m0 2v2m0 3v3m0 71v5m0 5v3m0 1v2m0 11v1m0 1v1m0 11v3m0 12v2m0 1v5m0 3v3M31 0v2m0 2v1m0 6v1m0 2v7m0 2v3m0 5v1m0 1v6m0 10v1m0 102v8m0 5v2m0 3v12m0 1v9m0 6v1m0 7v9M32 3v2m0 1v4m0 12v5m0 4v3m0 3v3m0 4v7m0 86v1m0 22v1m0 4v1m0 4v2m0 8v6m0 6v1m0 2v3m0 4v7m0 1v1m0 2v2M33 3v2m0 14v1m0 11v1m0 1v1m0 2v4m0 1v5m0 1v1m0 7v1m0 104v7m0 10v6m0 1v4m0 1v2m0 1v1m0 7v2m0 4v5m0 3v1M34 0v1m0 1v2m0 3v1m0 1v1m0 2v1m0 1v1m0 1v7m0 17v2m0 3v2m0 1v1m0 84v6m0 4v5m0 20v1m0 1v2m0 10v1m0 12v1m0 2v9M35 2v2m0 4v2m0 30v3m0 4v1m0 2v1m0 3v1m0 64v2m0 4v3m0 2v8m0 2v6m0 18v2m0 3v2m0 1v2m0 3v4m0 6v4m0 9v5m0 7v3M36 0v1m0 9v3m0 27v3m0 7v2m0 80v2m0 1v1m0 11v2m0 5v2m0 8v2m0 3v3m0 1v2m0 2v1m0 3v2m0 7v6m0 4v3m0 3v9M37 5v5m0 1v3m0 40v1m0 75v3m0 4v2m0 2v1m0 2v5m0 13v4m0 5v1m0 4v7m0 1v3m0 5v3m0 1v2m0 2v6m0 8v1M38 0v1m0 4v1m0 8v1m0 17v2m0 7v1m0 2v2m0 4v2m0 56v5m0 53v1m0 4v5m0 1v3m0 1v5m0 10v1m0 6v6m0 1v5M39 42v3m0 2v1m0 52v2m0 6v1m0 15v5m0 1v2m0 2v1m0 2v4m0 1v1m0 4v2m0 1v1m0 7v1m0 3v5m0 4v3m0 5v6m0 2v1m0 2v1m0 7v3m0 5v1m0 5v3M40 7v3m0 14v1m0 4v1m0 10v2m0 2v1m0 7v4m0 45v3m0 25v1m0 2v3m0 1v5m0 6v2m0 4v7m0 2v1m0 2v2m0 9v2m0 14v8M41 4v1m0 3v1m0 12v1m0 18v2m0 4v1m0 6v1m0 50v2m0 48v2m0 6v2m0 1v1m0 7v2m0 14v5m0 1v4m0 1v1m0 2v4m0 3v4M42 0v4m0 8v2m0 8v4m0 4v1m0 12v1m0 3v3m0 50v6m0 4v3m0 9v2m0 5v6m0 1v4m0 3v1m0 4v1m0 3v5m0 8v3m0 3v1m0 14v1m0 2v3m0 16v2m0 2v3M43 2v2m0 5v2m0 3v1m0 26v2m0 62v1m0 17v2m0 21v1m0 1v1m0 6v3m0 8v2m0 7v6m0 11v4m0 2v2m0 10v3M44 5v1m0 5v4m0 1v2m0 23v1m0 5v1m0 4v2m0 46v1m0 9v1m0 14v6m0 2v1m0 11v4m0 7v4m0 8v5m0 3v1m0 1v2m0 10v2m0 1v3m0 9v1m0 4v3M45 123v4m0 6v6m0 2v1m0 2v1m0 2v4m0 3v1m0 5v3m0 13v3m0 1v1m0 6v1m0 4v1m0 4v2M46 55v1m0 46v1m0 3v4m0 11v1m0 2v3m0 8v3m0 2v4m0 1v4m0 1v1m0 12v3m0 2v6m0 2v2m0 7v1m0 5v1m0 7v2M47 2v2m0 48v4m0 44v1m0 7v2m0 15v2m0 1v7m0 3v1m0 22v4m0 1v2m0 10v1m0 1v9m0 6v1m0 2v3m0 7v1M48 9v1m0 30v1m0 37v2m0 1v2m0 14v1m0 23v5m0 6v3m0 5v2m0 3v4m0 11v2m0 1v1m0 3v1m0 3v9m0 3v3m0 6v5m0 2v2m0 1v3M49 42v1m0 1v1m0 1v2m0 7v1m0 23v6m0 2v1m0 4v3m0 5v6m0 15v4m0 6v4m0 1v1m0 10v1m0 17v2m0 5v1m0 16v9M50 2v4m0 5v3m0 8v1m0 57v3m0 2v2m0 5v2m0 10v2m0 2v5m0 31v3m0 2v1m0 10v1m0 7v2m0 4v1m0 13v2m0 15v5m0 1v1m0 2v1M51 5v2m0 44v1m0 120v1m0 25v1m0 9v2M52 0v4m0 7v3m0 26v1m0 14v1m0 29v2m0 13v2m0 9v2m0 36v1m0 8v1m0 2v1m0 10v1m0 7v2m0 13v3m0 2v1m0 11v3M53 3v5m0 3v1m0 33v2m0 3v1m0 1v2m0 50v3m0 68v3m0 19v1m0 4v1m0 2v1m0 3v1m0 4v1M54 7v1m0 38v1m0 3v1m0 32v4m0 13v2m0 2v3m0 21v2m0 6v2m0 5v1m0 16v8m0 13v5m0 2v4m0 3v6M55 10v3m0 32v1m0 6v2m0 24v1m0 21v2m0 2v6m0 2v1m0 8v15m0 5v5m0 63v1M56 9v6m0 28v2m0 7v1m0 32v5m0 1v2m0 72v1m0 4v1m0 1v1m0 14v2m0 3v9m0 5v2m0 1v5M57 5v1m0 41v1m0 30v4m0 3v1m0 7v1m0 1v3m0 23v1m0 23v2m0 13v1m0 1v1m0 1v22m0 3v1m0 6v1m0 6v3m0 5v4M58 4v2m0 1v4m0 16v1m0 12v11m0 4v1m0 91v1m0 5v3m0 4v3m0 4v4m0 4v5m0 5v1m0 3v1m0 1v1m0 1v1m0 1v17m0 2v1M59 40v2m0 2v4m0 1v1m0 1v2m0 79v1m0 20v2m0 5v9m0 2v8m0 3v2m0 11v3m0 1v1m0 2v1m0 1v7m0 3v1M60 1v1m0 9v4m0 25v2m0 5v1m0 3v1m0 73v6m0 6v4m0 13v10m0 4v2m0 20v14M61 15v1m0 33v1m0 71v8m0 10v3m0 3v7m0 1v2m0 3v1m0 1v5m0 1v3m0 1v2m0 3v8m0 2v5m0 1v5m0 3v6m0 1v3m0 5v1M62 4v2m0 2v1m0 42v1m0 69v9m0 2v5m0 2v10m0 11v6m0 1v6m0 3v2m0 1v2m0 5v10m0 12v1m0 2v1M63 7v3m0 34v3m0 3v2m0 108v3m0 6v1m0 11v2m0 4v1m0 5v2m0 3v1m0 5v3M64 6v3m0 25v8m0 118v1m0 19v3m0 10v8m0 8v1M65 2v1m0 8v1m0 31v4m0 4v2m0 3v2m0 4v1m0 6v7m0 89v1m0 3v8m0 13v2m0 1v4m0 13v2m0 1v2M66 3v2m0 35v3m0 2v1m0 4v1m0 3v3m0 65v3m0 11v3m0 3v5m0 17v2m0 2v7m0 1v4m0 1v4m0 7v14m0 2v5M67 8v2m0 2v1m0 34v2m0 1v1m0 74v4m0 1v6m0 6v3m0 1v3m0 12v2m0 11v1m0 17v1m0 12v3m0 3v1M68 14v1m0 29v2m0 4v3m0 30v1m0 48v1m0 2v14m0 11v3m0 6v1m0 3v1m0 2v2m0 2v3m0 1v1m0 14v4m0 1v2M69 9v2m0 19v3m0 20v3m0 24v3m0 6v7m0 39v4m0 21v3m0 1v4m0 4v1m0 5v7m0 7v5m0 5v4m0 1v1m0 1v1m0 2v3M70 3v1m0 74v8m0 7v3m0 27v6m0 3v1m0 1v5m0 1v2m0 4v1m0 24v1m0 28v1m0 11v3M71 2v1m0 9v1m0 40v1m0 30v1m0 2v4m0 40v4m0 26v2m0 3v2m0 4v2m0 6v1m0 11v5m0 2v4m0 2v2m0 2v6M72 0v1m0 2v1m0 1v2m0 2v1m0 19v1m0 6v5m0 3v1m0 2v1m0 74v3m0 3v8m0 2v1m0 1v2m0 12v1m0 4v1m0 4v2m0 28v1m0 3v11M73 3v1m0 3v3m0 32v2m0 2v5m0 79v1m0 3v10m0 17v1m0 9v6m0 6v9m0 4v1m0 1v2m0 3v2m0 2v1m0 6v1M74 122v1m0 1v1m0 1v7m0 7v9m0 5v2m0 6v1m0 1v1m0 7v3m0 1v1m0 2v3m0 14v2m0 5v5M75 6v4m0 30v1m0 2v1m0 4v4m0 97v4m0 13v4m0 2v1m0 16v3m0 10v2m0 1v4M76 15v3m0 17v3m0 1v1m0 8v1m0 67v2m0 1v1m0 32v1m0 58v1M77 7v1m0 20v6m0 4v2m0 7v1m0 7v1m0 50v1m0 53v2m0 5v2M78 6v3m0 9v1m0 1v8m0 9v1m0 3v1m0 3v3M79 12v2m0 4v2m0 11v4m0 21v3m0 55v3m0 2v2m0 83v1m0 4v5M80 0v3m0 16v1m0 8v13m0 4v2m0 1v1m0 111v2M81 0v1m0 2v2m0 10v1m0 8v1m0 2v2m0 9v2m0 5v2m0 128v3m0 21v1m0 4v2M82 15v3m0 8v7m0 5v1m0 1v1m0 71v1m0 92v2m0 2v4M83 13v1m0 1v1m0 1v1m0 1v6m0 6v2m0 5v3m0 12v6m0 50v2m0 43v1m0 1v2M84 14v1m0 6v8m0 1v7m0 71v2m0 50v1m0 8v2m0 1v1m0 3v5m0 6v1m0 2v2m0 8v1M85 3v1m0 7v1m0 7v6m0 10v4m0 1v2m0 1v1m0 1v1m0 10v1m0 96v4m0 10v1m0 38v1M86 3v2m0 2v2m0 1v1m0 6v2m0 3v9m0 1v2m0 2v1m0 2v2m0 108v4M87 5v6m0 4v4m0 3v3m0 6v2m0 1v4m0 19v2m0 96v1M88 35v1m0 4v1m0 3v1m0 1v5m0 5v1m0 115v2M89 5v1m0 27v2m0 1v3m0 2v2m0 8v1m0 100v4m0 26v1m0 6v1m0 8v1M90 7v2m0 7v1m0 10v1m0 6v3m0 3v2m0 111v1m0 6v3m0 1v1m0 5v3m0 2v1m0 3v13m0 4v2m0 1v4M91 15v5m0 7v1m0 1v1m0 1v6m0 6v1m0 3v3m0 4v1m0 97v2m0 21v1m0 7v1m0 10v3m0 6v7M92 16v6m0 11v5m0 15v3m0 53v1m0 59v1m0 4v1m0 2v3m0 18v4m0 2v1m0 3v2m0 4v1M93 17v2m0 20v1m0 11v3m0 56v3m0 42v2m0 3v8m0 5v1m0 16v7m0 15v2M94 4v6m0 2v3m0 2v3m0 14v1m0 3v1m0 6v2m0 2v2m0 13v8m0 2v4m0 62v7m0 18v2m0 2v1m0 8v3m0 1v1m0 3v4m0 10v1m0 3v2m0 2v2M95 0v4m0 3v2m0 2v4m0 31v3m0 4v1m0 1v1m0 47v3m0 15v1m0 7v2m0 9v2m0 1v6m0 6v1m0 5v2m0 42v2M96 0v4m0 6v3m0 30v2m0 7v1m0 3v1m0 3v11m0 55v1m0 3v14m0 3v1M97 7v3m0 37v1m0 1v1m0 1v1m0 17v5m0 134v2M98 2v3m0 44v2m0 8v15m0 3v1m0 43v2m0 13v1m0 3v1m0 14v1m0 36v1m0 12v1m0 7v1M99 2v3m0 2v1m0 1v1m0 26v2m0 12v1m0 8v5m0 11v3M100 11v1m0 40v1m0 17v8m0 43v6m0 4v1m0 5v9m0 1v2m0 22v2M101 13v1m0 45v4m0 7v8m0 8v6m0 1v3m0 2v1m0 24v1m0 12v4m0 5v2m0 25v3m0 18v2m0 17v3M102 46v1m0 16v10m0 14v1m0 1v2m0 4v1m0 3v1m0 21v10m0 1v6m0 2v1m0 1v7m0 16v6m0 6v7M103 12v1m0 40v3m0 3v3m0 36v1m0 24v13m0 5v6m0 20v1m0 2v3m0 4v1m0 13v7m0 2v2m0 6v4M104 6v2m0 35v2m0 4v1m0 35v2m0 21v1m0 12v3m0 2v5m0 1v1m0 7v4m0 24v1m0 26v6m0 9v1M105 61v3m0 8v4m0 24v3m0 4v2m0 2v2m0 3v1m0 43v1m0 1v2m0 13v2m0 10v1m0 2v2m0 6v1M106 9v1m0 6v7m0 9v1m0 10v1m0 5v3m0 2v1m0 7v3m0 3v1m0 6v1m0 19v5m0 18v2m0 40v3m0 4v3m0 10v4m0 13v2m0 6v5m0 3v2M107 3v2m0 3v1m0 32v4m0 40v1m0 4v1m0 22v1m0 44v2m0 3v1m0 4v1m0 3v8m0 7v1m0 4v1m0 2v1m0 13v2m0 1v3M108 0v2m0 31v2m0 16v1m0 7v2m0 1v4m0 19v3m0 2v1m0 9v1m0 6v4m0 49v2m0 1v3m0 2v6m0 1v3m0 7v4m0 1v2m0 3v3m0 7v1M109 7v4m0 3v1m0 25v1m0 18v1m0 7v5m0 2v1m0 11v2m0 7v2m0 3v1m0 1v2m0 10v4m0 32v1m0 21v1m0 7v1m0 9v1m0 5v2m0 1v1M110 14v1m0 30v1m0 4v1m0 11v13m0 4v1m0 5v4m0 18v1m0 1v3m0 1v4m0 1v3m0 32v2m0 5v1m0 4v3m0 7v1m0 10v2m0 2v8m0 2v2m0 5v8M111 6v1m0 3v2m0 4v1m0 12v1m0 18v1m0 29v3m0 7v3m0 4v3m0 48v2m0 12v2m0 7v1m0 2v5m0 11v2m0 4v1m0 3v5m0 4v1m0 4v2M112 2v2m0 3v1m0 19v2m0 5v5m0 20v6m0 7v4m0 15v2M113 9v2m0 29v1m0 38v2m0 4v3m0 26v5m0 1v1m0 84v1M114 2v8m0 2v3m0 12v1m0 21v2m0 20v1m0 6v1m0 4v1m0 35v1m0 33v1m0 26v1M115 19v2m0 4v2m0 6v5m0 14v1m0 1v2m0 12v10m0 7v2m0 2v5m0 5v1m0 19v1m0 34v2m0 1v1m0 1v4m0 4v1m0 1v1m0 3v1m0 5v1m0 1v2m0 10v1m0 4v3m0 2v1m0 2v2m0 1v2M116 3v1m0 1v3m0 2v1m0 1v1m0 31v2m0 13v4m0 8v4m0 6v6m0 6v7m0 62v1m0 1v1m0 10v3m0 1v1m0 13v1m0 9v7m0 1v2M117 4v1m0 1v1m0 6v1m0 41v1m0 3v2m0 2v1m0 14v4m0 4v8m0 6v2m0 2v1m0 5v1m0 6v3m0 17v1m0 50v2m0 23v2M118 1v3m0 17v1m0 8v1m0 3v1m0 5v1m0 2v1m0 5v1m0 29v3m0 2v1m0 8v4m0 3v1m0 3v4m0 1v12M119 0v1m0 8v2m0 16v3m0 53v2m0 5v3m0 4v6m0 10v1m0 2v5m0 37v1m0 9v1m0 4v3m0 8v1m0 4v2m0 1v1m0 5v1m0 10v5M120 19v1m0 29v3m0 26v7m0 11v1m0 3v5m0 3v1m0 5v7m0 34v1m0 7v1m0 27v5m0 3v4m0 5v1m0 3v2M121 5v1m0 5v3m0 29v1m0 5v1m0 18v2m0 4v4m0 1v6m0 15v3m0 4v1m0 2v1m0 2v7m0 35v2m0 4v2M122 8v1m0 1v1m0 2v2m0 21v2m0 17v1m0 3v6m0 6v1m0 6v8m0 11v1m0 16v3m0 2v1m0 25v4M123 0v5m0 16v1m0 18v1m0 25v14m0 5v1m0 30v5m0 34v1M124 8v2m0 4v1m0 1v4m0 20v1m0 4v2m0 8v13m0 12v1m0 1v3m0 12v3m0 2v3m0 3v6m0 2v1m0 32v5M125 6v1m0 3v1m0 7v2m0 10v1m0 3v1m0 8v2m0 11v3m0 10v7m0 6v2m0 3v2m0 5v1m0 5v3m0 8v10m0 39v3m0 8v11m0 31v2M126 10v2m0 5v1m0 26v3m0 9v7m0 1v1m0 5v1m0 21v1m0 20v1m0 1v2m0 1v3m0 33v2m0 7v1m0 1v3m0 4v8m0 11v2m0 8v6m0 4v3M127 12v3m0 6v1m0 16v2m0 39v2m0 4v1m0 4v8m0 67v2m0 21v1M128 9v6m0 11v1m0 7v2m0 7v1m0 15v1m0 18v6m0 29v1m0 3v4m0 66v3m0 24v1M129 3v2m0 30v5m0 1v1m0 7v1m0 30v2m0 3v1m0 4v4m0 3v3m0 13v1m0 2v1m0 58v4m0 11v1m0 11v1M130 11v4m0 7v1m0 17v2m0 4v2m0 1v1m0 5v1m0 4v7m0 21v1m0 26v1m0 3v2m0 29v4m0 6v1m0 14v4m0 6v1M131 0v1m0 13v1m0 28v2m0 36v4m0 7v1m0 1v5m0 51v1m0 4v1M132 1v3m0 10v1m0 11v4m0 19v2m0 21v6m0 2v2m0 83v2M133 13v2m0 32v1m0 14v2m0 23v3m0 2v3m0 23v1m0 33v2m0 1v1m0 58v1M134 2v4m0 5v4m0 11v1m0 6v3m0 8v1m0 4v1m0 31v9m0 3v7m0 16v1m0 2v1m0 33v3m0 4v3m0 4v1m0 3v2m0 15v1m0 19v3M135 0v1m0 5v9m0 15v2m0 16v4m0 3v1m0 4v2m0 14v2m0 28v2m0 6v2m0 36v4m0 3v1m0 2v2m0 8v4M136 1v3m0 7v2m0 1v1m0 29v1m0 15v12m0 8v2m0 9v1m0 3v1m0 17v2m0 5v1m0 7v3m0 47v1m0 2v1m0 1v2m0 2v4M137 10v1m0 1v3m0 35v2m0 4v6m0 4v2m0 10v1m0 5v1m0 7v1m0 2v1m0 5v6m0 4v3m0 38v1m0 8v5m0 9v1M138 0v1m0 21v4m0 8v1m0 24v4m0 13v5m0 12v6m0 2v3m0 6v5m0 9v10m0 18v4m0 27v3m0 2v1M139 9v4m0 1v1m0 25v1m0 7v3m0 4v1m0 22v1m0 2v1m0 5v5m0 2v3m0 17v7m0 23v2m0 3v2m0 1v3m0 2v1m0 1v1m0 29v3m0 12v1M140 0v2m0 48v1m0 29v1m0 4v1m0 69v3m0 2v1m0 18v2m0 3v1m0 5v2M141 0v1m0 21v4m0 14v3m0 9v1m0 6v4m0 6v1m0 9v2m0 7v2m0 29v1m0 33v1m0 12v2M142 41v2m0 37v4m0 30v2m0 2v3m0 47v3m0 6v1M143 9v2m0 29v2m0 7v3m0 8v1m0 7v1m0 5v3m0 4v4m0 32v1m0 37v3M144 12v2m0 7v1m0 4v1m0 9v1m0 42v2m0 4v5m0 2v1m0 2v2m0 16v1m0 4v3m0 46v5m0 3v2m0 1v2m0 7v5M145 0v1m0 6v2m0 8v2m0 21v5m0 9v1m0 23v1m0 16v2m0 19v5m0 41v1m0 12v1M146 5v1m0 1v1m0 5v2m0 63v3m0 32v1m0 2v2m0 44v3m0 11v3m0 30v3M147 7v1m0 3v3m0 26v5m0 15v2m0 19v5m0 8v3m0 16v2m0 3v3m0 31v1m0 52v2m0 6v2M148 0v3m0 3v2m0 38v1m0 16v16m0 1v5m0 4v2m0 1v2m0 19v2m0 1v3m0 1v1m0 31v5M149 1v1m0 41v1m0 10v1m0 4v2m0 2v2m0 6v4m0 10v3m0 2v10m0 52v5m0 2v1m0 14v1M150 0v2m0 10v2m0 26v2m0 37v3m0 2v1m0 11v2m0 15v2m0 1v1m0 3v1m0 23v3M151 3v1m0 30v1m0 6v3m0 3v3m0 33v2m0 2v1m0 2v5m0 1v4m0 14v2m0 1v1M152 19v3m0 31v2m0 28v4m0 3v1m0 5v1m0 24v1m0 1v4m0 4v1m0 9v7m0 21v1M153 51v1m0 46v2m0 62v4M154 17v3m0 64v4m0 9v3m0 13v1m0 48v3m0 10v1M155 53v2m0 113v1m0 2v1m0 6v1M156 14v1m0 26v1m0 8v1m0 10v1m0 1v5m0 27v2m0 56v2m0 10v1m0 5v4m0 1v1m0 37v1M157 6v2m0 3v2m0 37v1m0 4v1m0 5v1m0 4v6m0 16v2m0 79v2m0 2v2M158 10v2m0 44v5m0 6v3m0 22v8M159 43v2m0 12v5m0 1v15m0 12v5m0 77v2M160 12v6m0 27v4m0 6v1m0 8v6m0 5v3m0 13v1m0 7v1m0 30v3m0 10v4M161 5v2m0 3v2m0 26v2m0 10v1m0 21v6M162 1v1m0 16v1m0 20v1m0 13v1m0 1v1m0 27v1m0 3v8M163 21v1m0 18v2m0 12v1m0 6v4m0 25v1m0 1v1m0 2v5m0 24v2m0 10v7m0 1v4m0 27v5m0 14v1m0 10v1M164 44v7m0 4v1m0 3v4m0 1v14m0 5v13m0 2v1m0 61v1m0 4v1m0 3v2m0 10v3m0 11v1m0 4v4M165 13v2m0 25v3m0 13v10m0 8v4m0 5v2m0 1v3m0 1v3m0 2v1m0 81v1M166 8v4m0 3v2m0 16v1m0 21v3m0 19v1m0 11v1m0 3v4m0 1v1m0 56v2m0 2v1m0 5v2m0 2v7m0 1v3M167 5v1m0 41v2m0 4v2m0 1v4m0 7v11m0 42v1m0 32v1m0 23v3m0 19v1M168 21v1m0 14v1m0 1v2m0 7v2m0 17v5m0 14v1m0 3v5m0 1v5M169 0v2m0 1v1m0 6v1m0 2v1m0 3v2m0 11v3m0 7v8m0 1v1m0 12v5m0 19v2m0 5v1m0 2v3m0 61v2m0 7v1m0 1v1m0 1v3m0 1v3m0 33v2M170 12v1m0 2v1m0 1v5m0 7v7m0 2v1m0 3v2m0 16v9m0 24v1m0 60v4m0 15v2m0 4v1M171 5v1m0 42v1m0 6v1m0 7v2m0 9v4m0 5v5m0 6v2m0 4v2m0 4v2m0 1v1m0 8v3m0 49v1m0 4v5M172 3v3m0 45v2m0 9v4m0 4v8m0 12v5m0 77v1M173 5v2m0 2v1m0 4v1m0 1v2m0 38v10m0 19v5m0 3v5m0 3v3m0 56v1m0 18v1M174 0v1m0 8v1m0 8v1m0 24v4m0 3v2m0 31v1m0 15v1m0 2v1m0 51v1m0 22v2M175 38v1m0 45v2m0 2v1m0 3v2m0 3v3m0 12v1m0 56v2m0 7v2M176 0v3m0 15v1m0 1v2m0 62v3m0 1v1m0 4v5m0 2v1m0 1v4m0 6v1m0 54v2m0 3v1m0 4v2M177 12v2m0 34v2m0 36v1m0 2v4m0 6v7m0 66v2m0 5v1M178 1v1m0 11v2m0 6v1m0 22v2m0 10v5m0 26v5m0 86v1M179 0v2m0 3v3m0 41v1m0 5v1m0 7v6m0 4v5m0 5v5m0 6v6m0 73v1m0 1v2m0 1v2M180 3v3m0 5v4m0 29v1m0 19v6m0 17v3m0 3v2m0 3v2m0 70v1m0 6v1M181 8v1m0 4v2m0 35v1m0 6v2m0 7v12m0 5v2m0 5v4m0 2v1m0 1v2m0 3v1m0 3v2m0 38v1m0 6v1m0 19v1m0 4v1m0 25v1M182 0v1m0 39v2m0 10v4m0 9v1m0 8v4m0 6v1m0 3v1m0 7v4m0 2v3m0 2v3m0 1v1m0 65v2M183 6v1m0 33v3m0 12v4m0 2v11m0 12v2m0 74v3m0 6v4m0 3v3M184 13v2m0 1v1m0 73v2m0 8v1m0 51v2M185 4v1m0 9v1m0 25v2m0 6v1m0 10v1m0 4v2m0 7v1m0 1v2m0 6v3m0 2v1m0 86v1M186 15v1m0 22v1m0 3v5m0 11v18m0 1v1m0 5v2m0 3v3m0 77v3m0 3v3m0 18v2M187 7v1m0 11v3m0 23v1m0 1v1m0 4v3m0 1v12m0 2v5m0 19v5m0 7v4m0 50v1M188 11v1m0 7v1m0 24v1m0 2v1m0 8v5m0 2v3m0 1v3m0 5v1m0 7v3m0 2v2m0 70v1m0 12v1M189 61v2m0 7v3m0 10v4m0 4v2m0 5v2m0 47v1m0 5v1m0 8v2M190 6v3m0 6v2m0 9v2m0 8v2m0 16v1m0 5v2m0 14v2m0 14v4m0 1v1m0 22v1m0 48v3m0 4v1m0 2v1M191 63v15m0 14v5m0 4v3m0 1v1m0 2v4m0 48v1m0 4v2m0 2v11M192 40v2m0 7v4m0 6v9m0 15v11m0 6v1m0 68v5m0 2v1M193 11v4m0 37v1m0 1v1m0 1v6m0 7v3m0 12v3m0 13v2m0 8v3M194 12v2m0 27v3m0 2v2m0 1v1m0 1v2m0 6v1m0 25v1m0 2v2M195 19v1m0 36v6m0 4v11m0 7v7m0 2v3m0 4v10m0 50v2M196 1v1m0 6v3m0 29v1m0 9v3m0 3v5m0 3v3m0 8v1m0 8v10M197 40v1m0 7v1m0 34v1m0 4v3m0 15v1M198 92v3m0 1v4m0 60v2M199 1v2m0 4v1m0 6v1m0 34v4m0 1v1m0 35v2m0 4v4M200 9v2m0 12v4m0 6v2m0 73v1m0 59v1m0 31v1M201 0v2m0 13v3m0 2v4m0 9v2m0 3v2m0 1v2m0 3v4m0 61v1m0 42v5M202 0v1m0 5v1m0 5v1m0 13v2m0 2v1m0 9v2m0 61v1m0 1v1M203 26v2m0 12v1m0 2v3m0 1v1m0 6v2m0 25v2m0 22v1m0 3v3M204 23v2m0 23v1m0 63v1m0 47v1M205 0v1m0 7v1m0 2v4m0 31v4m0 54v4m0 3v2m0 6v1M206 2v1m0 4v1m0 3v2m0 5v1m0 11v4m0 9v1m0 3v2m0 51v12M207 6v4m0 4v1m0 8v2m0 1v1m0 8v1m0 1v1m0 6v1m0 64v1m0 92v1M208 5v3m0 18v1m0 7v4m0 73v2M209 12v2m0 24v1m0 2v5m0 55v5m0 2v5M210 0v5m0 1v2m0 7v18m0 83v4M211 2v1m0 4v2m0 13v3m0 17v1m0 7v2m0 2v1M212 24v1m0 1v1m0 2v3m0 2v1m0 5v1m0 4v2m0 128v2M213 15v6m0 5v1m0 9v4m0 120v4M214 4v1m0 21v1m0 1v3m0 1v6m0 9v2m0 1v1m0 88v3M215 1v4m0 27v4m0 4v1m0 76v1M216 0v1m0 5v1m0 8v6m0 6v6m0 3v1m0 4v1m0 118v3M217 19v2m0 1v5m0 2v3m0 2v3m0 3v4M218 32v2m0 45v6m0 7v1m0 4v3M219 4v1m0 18v2m0 1v2m0 7v3m0 42v2m0 58v1m0 19v2m0 22v1M220 1v1m0 10v2m0 1v1m0 2v1m0 5v1m0 6v1m0 2v3m0 17v1m0 50v2m0 4v2m0 42v2m0 8v3m0 46v1M221 4v1m0 4v1m0 2v1m0 10v1m0 27v1m0 3v1m0 50v1m0 4v2m0 66v1m0 25v2M222 7v1m0 6v1m0 6v1m0 4v1m0 16v1m0 7v4m0 23v2m0 4v2m0 16v2m0 5v1m0 12v2m0 36v1m0 11v3m0 14v1m0 14v2M223 11v4m0 1v1m0 14v1m0 3v1m0 2v1m0 5v2m0 3v2m0 45v2m0 6v4m0 3v1m0 23v1m0 4v7m0 13v6m0 6v2m0 32v2M224 0v5m0 2v1m0 4v2m0 2v6m0 2v3m0 11v1m0 7v2m0 4v1m0 53v3m0 3v1m0 1v1m0 6v1m0 9v1m0 3v10m0 1v3m0 26v2m0 2v5m0 25v4m0 1v1M225 22v1m0 20v3m0 3v1m0 45v2m0 32v3m0 3v5m0 7v2M226 8v2m0 5v1m0 19v3m0 8v1m0 3v1m0 80v1m0 14v2m0 29v1M227 0v1m0 5v3m0 3v2m0 23v1m0 2v2m0 62v3m0 16v2m0 7v1m0 1v2m0 10v3m0 39v1M228 0v4m0 4v1m0 1v2m0 2v1m0 25v1m0 3v1m0 33v3m0 6v4m0 3v2m0 4v6m0 1v3m0 16v2m0 19v2m0 1v6m0 18v1m0 39v1M229 89v1m0 8v1m0 1v1m0 39v3m0 6v2m0 1v1m0 2v3M230 2v2m0 25v1m0 33v1m0 10v1m0 1v1m0 1v7m0 1v2m0 2v3m0 9v2m0 1v1m0 5v1m0 11v3m0 54v3m0 9v1M231 46v2m0 30v2m0 8v5m0 7v3m0 2v8m0 15v4m0 1v1m0 1v3m0 8v2m0 6v2m0 15v2m0 18v2m0 8v3m0 1v1m0 8v1M232 5v1m0 16v2m0 4v2m0 7v1m0 40v1m0 3v2m0 2v4m0 2v1m0 2v1m0 2v2m0 21v1m0 10v3m0 11v3M233 0v1m0 4v1m0 23v2m0 12v1m0 9v1m0 25v1m0 6v5m0 4v5m0 21v1m0 3v7m0 12v1M234 0v1m0 54v1m0 23v1m0 18v1m0 22v5m0 1v13m0 3v3M235 78v4m0 3v3m0 5v2m0 26v2m0 4v3m0 13v3m0 23v2m0 1v1m0 17v1m0 13v3m0 6v2M236 43v1m0 2v9m0 53v1m0 27v1m0 7v1m0 10v1m0 4v5m0 5v2M237 41v1m0 9v2m0 48v2m0 3v1m0 1v3m0 33v5m0 1v1m0 20v2m0 2v2m0 3v3M238 0v1m0 13v1m0 63v2m0 15v3m0 2v3m0 62v1M239 3v1m0 28v1m0 5v1m0 2v1m0 5v1m0 6v1m0 45v7m0 3v2m0 17v1m0 10v2M240 2v2m0 18v2m0 17v8m0 48v2m0 48v2m0 5v1m0 7v1m0 2v1m0 1v1m0 2v1m0 5v1m0 25v13M241 7v1m0 22v2m0 14v1m0 45v3m0 1v3m0 26v1m0 18v3M242 0v1m0 21v1m0 20v2m0 33v6m0 9v1m0 36v3m0 9v3M243 6v3m0 3v1m0 33v1m0 10v1m0 14v2m0 23v1m0 23v8m0 11v9m0 4v3m0 3v1M244 0v4m0 36v1m0 5v1m0 7v2m0 6v12m0 49v8m0 9v2m0 9v1M245 11v1m0 1v1m0 32v1m0 3v1m0 4v2m0 4v16m0 3v12m0 2v2m0 26v4m0 1v4m0 2v1m0 10v5M246 2v1m0 2v2m0 15v3m0 22v1m0 9v13m0 8v3m0 7v2m0 2v3m0 2v3m0 21v1m0 1v2m0 22v2M247 1v3m0 25v1m0 25v6m0 5v5m0 9v2m0 4v3m0 3v7m0 37v7m0 12v1M248 22v2m0 19v5m0 8v11m0 8v3m0 24v2m0 6v2m0 18v2m0 6v1m0 3v1m0 2v4M249 58v1m0 16v3m0 23v3m0 19v1m0 10v2m0 3v10m0 18v1m0 15v1m0 14v1M250 40v1m0 5v1m0 7v1m0 82v3m0 24v3m0 6v1M251 6v5m0 32v5m0 112v1M252 0v1m0 9v3m0 35v1m0 73v5m0 18v2M253 8v1m0 39v2m0 71v1m0 11v5m0 2v2m0 7v1m0 6v2M254 2v2m0 19v1m0 13v3m0 9v1m0 53v1m0 44v1m0 4v5m0 46v2M255 1v3m0 39v1m0 1v4m0 34v4m0 14v1m0 48v2m0 1v1m0 1v1m0 16v1m0 30v4M256 12v1m0 32v1m0 54v2m0 2v1m0 5v3m0 39v1m0 2v1m0 20v2M257 11v1m0 1v1m0 3v1m0 4v1m0 11v3m0 63v2m0 2v3m0 2v1m0 2v1m0 33v1m0 2v2M258 6v2m0 6v1m0 131v1m0 3v1m0 54v4M259 7v1m0 92v3m0 1v3m0 14v3m0 14v2m0 9v2m0 3v2m0 1v1m0 48v3M260 0v1m0 11v1m0 38v2m0 52v4m0 1v2m0 35v2m0 2v1M261 40v1m0 14v1m0 90v3m0 1v1m0 9v1m0 30v1m0 7v2m0 9v2M262 146v3m0 3v3m0 1v1m0 41v4m0 8v1m0 3v1M263 0v1m0 3v1m0 3v1m0 31v1m0 105v3m0 3v2m0 54v2M264 8v1m0 129v2m0 6v3m0 3v2m0 53v1M265 1v2m0 143v1m0 46v2m0 9v6M266 46v3m0 51v1m0 4v1m0 3v3m0 39v3m0 14v6M267 11v3m0 89v2m0 6v1m0 39v3m0 3v1m0 20v2m0 26v2M268 1v2m0 40v2m0 64v4M269 2v2m0 37v2m0 62v2m0 3v3M270 47v3m0 62v1m0 25v2m0 1v2m0 10v1m0 4v2m0 45v2M271 107v1m0 3v1m0 7v2m0 16v4m0 68v3M272 46v3m0 108v1M273 49v2m0 89v3M274 52v1m0 27v2m0 39v1M275 61v10m0 3v2m0 2v2m0 3v3m0 1v1m0 2v1m0 5v3m0 94v1m0 6v3m0 2v7M276 33v2m0 20v1m0 22v12m0 5v2m0 11v1m0 35v2m0 5v3m0 1v1M277 21v2m0 13v1m0 9v1m0 8v1m0 33v1m0 5v1m0 4v2m0 1v3m0 5v2M278 47v1m0 3v1m0 26v1m0 1v1m0 7v1m0 3v8m0 37v1m0 6v2M279 46v1m0 1v1m0 1v1m0 39v2m0 14v5m0 38v4m0 4v2M280 55v1m0 69v1m0 3v6m0 3v3M281 5v1m0 6v3m0 99v1m0 13v5m0 12v1M282 17v1m0 18v1m0 15v2m0 47v7m0 14v3m0 1v4m0 2v1m0 4v5m0 4v1m0 13v4m0 45v4M283 40v1m0 46v1m0 8v1m0 9v2m0 13v6m0 6v2m0 6v2m0 17v3M284 26v2m0 51v2m0 9v3m0 1v1m0 2v2m0 3v3m0 2v1m0 1v4M285 18v1m0 12v4m0 2v3m0 60v2m0 1v4m0 1v2M286 3v1m0 5v2m0 1v1m0 12v1m0 12v1m0 11v1m0 63v1M287 31v5m0 4v5m0 37v4M288 24v1m0 14v1m0 3v1m0 10v1m0 25v4m0 37v1m0 3v2m0 13v2m0 2v2M289 19v15m0 4v5m0 3v3m0 91v2m0 1v3M290 13v1m0 3v4m0 4v1m0 2v6m0 4v2m0 5v6M291 0v3m0 14v11m0 5v1m0 4v4m0 1v2m0 100v3M292 17v13m0 8v1m0 1v1m0 1v1m0 6v2m0 58v2M293 0v1m0 8v1m0 1v4m0 6v2m0 5v2m0 3v2m0 67v4m0 5v2m0 10v2m0 12v1M294 1v1m0 3v2m0 25v4m0 6v1m0 60v3m0 1v2m0 2v1m0 9v9m0 8v4m0 3v2m0 20v1m0 20v1M295 2v1m0 3v3m0 18v6m0 1v3m0 2v1m0 1v1m0 11v1m0 52v2M296 20v3m0 2v4m0 1v3m0 21v1m0 47v1m0 5v4M297 2v1m0 16v3m0 3v3m0 2v3m0 2v1m0 5v1m0 4v2m0 65v1M298 2v1m0 3v3m0 3v1m0 6v4m0 1v2m0 12v2m0 11v1m0 1v2m0 99v4m0 3v2m0 1v3m0 5v1m0 2v6m0 7v2M299 5v1m0 12v1m0 9v3m0 4v2M300 12v2m0 3v4m0 3v1m0 7v1m0 3v1m0 10v3m0 79v4m0 3v1m0 17v1m0 38v1M301 2v2m0 37v3m0 77v4m0 7v4m0 6v6M302 54v1m0 99v2m0 13v2" stroke="#ee586a" stroke-width="1.03" fill="none"/>
<path transform="translate(0.5,0)" d="M0 2v1m0 8v2m0 32v3m0 8v3m0 47v2m0 2v1m0 17v1m0 6v2m0 6v5m0 4v4m0 5v2m0 4v1m0 7v2m0 2v3m0 2v2m0 2v2m0 2v2m0 9v1m0 10v1M1 0v5m0 2v2m0 2v1m0 43v1m0 45v3m0 1v3m0 56v14m0 11v2m0 2v2m0 4v1m0 4v2m0 7v2M2 0v1m0 40v1m0 58v2m0 2v2m0 1v2m0 2v1m0 48v2m0 7v7m0 3v2m0 9v1m0 2v1m0 15v3M3 0v1m0 16v4m0 5v4m0 1v1m0 2v1m0 5v4m0 61v4M4 5v3m0 7v2m0 5v3m0 1v3m0 7v1m0 9v2m0 4v3m0 45v4m0 5v4m0 8v1m0 7v2m0 1v6m0 6v5m0 57v1M5 0v4m0 6v1m0 4v4m0 3v4m0 1v1m0 1v1m0 2v4m0 7v2m0 6v1m0 2v1m0 73v1m0 3v1m0 8v2M6 0v1m0 9v2m0 5v3m0 27v1m0 6v1m0 81v1m0 2v4m0 17v1m0 8v2m0 34v6M7 15v2m0 3v3m0 3v1m0 7v2m0 70v3m0 44v2M8 0v1m0 6v2m0 5v1m0 4v9m0 3v5m0 88v15M9 0v4m0 1v2m0 4v4m0 21v4m0 6v1m0 55v1m0 4v1m0 57v1m0 1v2m0 20v3m0 12v1M10 0v11m0 32v3m0 3v1m0 105v1M11 5v1m0 21v1m0 3v6m0 4v1m0 5v3m0 100v2m0 2v2M12 2v3m0 1v1m0 9v4m0 2v2m0 28v2m0 67v6m0 2v1m0 2v4m0 1v1m0 6v4m0 7v2m0 8v1m0 39v2m0 5v3M13 0v1m0 4v1m0 9v1m0 9v1m0 4v1m0 22v3m0 86v3M14 0v1m0 7v1m0 6v10m0 3v6m0 2v4m0 100v3m0 14v1M15 3v1m0 20v2m0 3v11m0 61v1m0 27v3m0 16v1M16 17v2m0 1v11m0 2v1m0 3v4m0 2v2m0 1v3m0 3v1m0 1v2m0 99v2m0 42v1M17 5v4m0 6v8m0 1v2m0 3v2m0 3v4m0 11v1m0 5v1m0 50v4m0 16v1m0 2v2m0 1v3m0 7v1M18 26v8m0 3v3m0 7v2m0 5v1M19 10v1m0 3v1m0 1v5m0 2v5m0 2v1m0 1v1m0 2v2m0 3v1m0 6v6m0 49v3m0 4v2m0 49v3m0 12v2m0 2v3m0 2v2m0 3v3m0 8v6m0 4v5M20 29v2m0 9v1m0 5v3m0 2v4m0 81v1m0 7v2m0 13v4m0 2v6m0 1v2m0 6v2m0 2v1m0 3v12m0 3v4M21 0v1m0 34v2m0 115v2m0 8v1m0 6v2m0 2v1m0 10v1m0 3v2m0 11v1m0 1v3m0 3v6M22 21v5m0 3v5m0 2v4m0 120v17m0 2v6m0 2v5m0 2v5m0 3v8M23 0v4m0 5v4m0 2v4m0 2v1m0 3v4m0 6v9m0 1v7m0 2v2m0 104v1m0 6v1m0 13v1m0 6v1m0 2v1m0 6v1m0 6v5M24 7v3m0 5v1m0 2v9m0 4v5m0 6v1m0 3v4m0 1v5m0 112v1m0 2v2m0 2v2m0 14v1m0 19v4M25 0v2m0 10v1m0 5v3m0 5v3m0 3v6m0 2v1m0 1v3m0 2v6m0 107v2m0 1v2m0 2v3m0 6v2m0 9v3m0 7v4m0 10v4M26 11v3m0 3v1m0 8v8m0 2v3m0 8v2m0 4v3m0 110v2m0 5v4m0 4v2m0 5v3m0 1v1m0 1v5m0 1v3m0 1v2m0 3v3M27 15v4m0 1v2m0 6v2m0 6v3m0 9v2m0 4v2m0 88v2m0 14v5m0 1v4m0 10v1m0 1v2m0 3v4m0 5v3m0 1v4m0 2v2m0 3v1M28 1v1m0 5v2m0 2v2m0 1v3m0 5v3m0 4v1m0 2v1m0 2v3m0 2v1m0 5v2m0 5v1m0 68v3m0 4v2m0 14v1m0 38v3m0 1v2M29 0v2m0 11v1m0 1v2m0 4v5m0 28v1m0 105v3m0 3v1m0 1v3m0 3v4m0 2v8m0 3v1m0 5v4m0 3v6m0 3v2M30 7v3m0 1v1m0 14v1m0 1v1m0 5v4m0 2v1m0 119v7m0 3v1m0 1v4m0 1v5m0 2v1m0 5v1m0 1v1m0 3v13m0 2v4M31 5v6m0 1v1m0 8v2m0 3v5m0 1v1m0 17v2m0 99v1m0 8v5m0 2v3m0 12v1m0 9v1m0 6v3m0 1v3M32 0v3m0 2v1m0 4v1m0 3v1m0 6v1m0 12v3m0 17v1m0 69v1m0 36v4m0 1v4m0 2v8m0 6v4m0 1v1m0 1v2m0 3v4m0 7v1m0 1v2M33 2v1m0 3v2m0 6v4m0 2v11m0 15v1m0 120v10m0 11v1m0 2v1m0 1v2m0 3v2m0 2v4m0 5v3M34 15v1m0 7v5m0 1v9m0 16v2m0 65v5m0 2v5m0 6v3m0 6v1m0 11v3m0 1v4m0 1v1m0 2v7m0 1v2m0 6v4m0 1v2m0 1v2m0 9v8M35 123v2m0 13v2m0 6v3m0 11v4m0 3v1m0 3v1m0 3v2m0 14v1m0 7v1m0 5v6M36 121v11m0 2v1m0 1v11m0 25v1m0 30v3M37 10v1m0 42v1m0 67v9m0 3v4m0 2v2m0 1v2m0 16v2m0 7v1m0 5v1m0 12v4m0 3v1m0 2v2m0 6v4m0 3v1M38 3v2m0 37v2m0 2v4m0 2v1m0 49v6m0 52v1m0 4v1m0 1v3m0 6v1m0 3v1m0 5v6m0 1v3m0 2v5m0 6v1M39 0v2m0 6v1m0 93v6m0 1v4m0 8v3m0 5v1m0 6v1m0 4v1m0 1v4m0 13v1m0 16v2m0 13v4m0 5v5m0 1v5M40 11v1m0 92v8m0 14v3m0 6v1m0 8v3m0 25v4m0 2v3m0 3v2m0 23v1m0 2v1M41 0v3m0 47v2m0 48v1m0 5v4m0 62v1m0 2v4M42 5v1m0 5v1m0 42v1m0 66v1m0 2v5m0 11v3m0 1v4m0 12v3m0 5v2m0 18v1m0 3v10m0 3v3m0 2v2M43 0v2m0 38v1m0 3v2m0 2v1m0 3v1m0 56v2m0 10v2m0 2v10m0 16v1m0 2v1M44 1v1m0 99v1m0 19v4m0 9v11m0 5v6m0 52v1M45 12v3m0 114v2m0 24v1m0 9v11m0 10v1m0 1v4m0 1v1m0 5v16M46 44v2m0 54v2m0 1v3m0 4v1m0 21v1m0 11v1m0 17v1m0 4v1m0 6v1m0 4v4m0 3v5m0 1v7m0 2v7m0 1v6M47 40v2m0 59v7m0 2v2m0 27v10m0 11v1m0 4v1m0 2v9m0 2v1m0 9v1m0 2v3m0 1v2m0 8v2m0 1v1M48 0v1m0 4v1m0 8v1m0 26v1m0 38v1m0 2v5m0 74v1m0 1v3m0 1v3m0 9v3m0 3v2m0 2v2m0 5v2m0 2v1m0 3v10M49 78v1m0 6v1m0 4v1m0 15v7m0 12v6m0 4v1m0 1v10m0 1v1m0 20v3m0 42v1M50 9v2m0 29v2m0 8v2m0 26v2m0 4v1m0 2v5m0 2v2m0 1v1m0 2v3m0 3v2m0 83v1m0 8v3M51 165v1m0 44v3M52 5v1m0 35v5m0 56v9m0 42v4m0 47v3m0 2v3M53 94v1m0 64v1m0 38v4M54 12v2m0 15v2m0 1v5m0 3v1m0 61v2m0 37v1m0 45v1m0 4v1m0 8v7m0 6v1M55 49v1m0 60v2m0 94v1M56 5v4m0 38v1m0 3v1m0 26v7m0 5v1m0 6v1m0 65v1m0 25v3m0 10v4M57 21v1m0 19v1m0 2v1m0 9v1m0 36v2m0 97v2m0 5v1m0 2v3m0 3v2m0 1v2M58 165v1m0 7v2m0 15v1m0 1v1m0 19v2M59 7v1m0 1v1m0 40v1m0 2v2m0 100v1m0 14v1m0 10v1m0 2v1m0 6v1m0 9v1m0 10v2M60 45v1m0 9v1m0 97v1m0 13v1m0 36v1M61 9v2m0 32v5m0 107v1m0 9v1m0 3v1m0 2v3m0 8v2m0 11v1m0 8v1m0 3v1m0 2v2M62 6v1m0 4v1m0 28v1m0 11v4m0 81v2m0 27v1m0 6v3m0 8v2m0 10v7m0 1v4m0 1v2M63 1v2m0 44v1m0 4v1m0 148v1m0 5v1m0 3v4M64 49v1M65 50v1m0 109v1m0 5v3m0 8v4m0 11v1m0 6v11m0 2v1M66 5v4m0 2v1m0 2v1m0 32v1m0 73v1m0 9v5m0 3v3m0 5v2m0 26v1m0 4v1m0 25v2m0 5v2M67 5v3m0 41v1m0 1v1m0 69v4m0 14v3m0 18v1m0 2v11m0 1v6m0 2v9m0 1v12m0 3v3m0 1v3M68 49v1m0 71v11m0 1v2m0 37v1m0 15v2m0 2v1m0 5v1m0 8v2M69 11v2m0 65v2m0 3v6m0 7v2m0 23v14m0 4v10m0 38v2M70 87v1m0 3v2m0 3v2m0 31v3m0 7v1m0 2v4m0 1v2m0 4v6M71 13v1m0 71v2m0 35v8m0 5v14M72 10v2m0 1v2m0 106v1m0 3v3m0 8v2m0 1v1m0 2v7m0 6v3M73 0v1m0 120v9m0 1v3m0 10v3m0 30v1m0 2v1m0 24v1m0 2v3M74 0v1m0 39v3m0 1v1m0 76v1m0 1v1m0 1v1m0 7v2m0 1v1m0 23v2m0 1v1m0 1v7m0 3v1m0 1v2m0 3v4m0 4v6m0 2v3m0 1v1m0 5v7M75 3v1m0 40v1m0 108v2m0 42v5m0 7v2m0 2v2M76 18v2m0 12v3m0 8v2m0 11v3m0 56v1m0 4v1m0 38v1M77 15v5m0 1v7m0 6v4m0 2v1m0 2v2m0 3v3m0 5v3M78 1v5m0 13v1m0 8v1m0 7v1m0 2v2m0 12v2m0 1v3M79 15v3m0 3v1m0 17v1m0 73v1M80 17v2m0 2v2m0 26v3M81 5v1m0 41v1m0 6v5M82 2v1m0 5v3m0 3v1m0 7v1m0 10v4m0 6v2m0 4v2m0 4v4m0 95v4M83 14v1m0 1v1m0 1v1m0 8v4m0 2v4m0 4v1m0 9v1m0 60v1M84 0v1m0 14v2m0 3v1m0 8v1m0 7v3m0 16v3m0 116v1m0 12v2m0 14v4M85 15v1m0 9v2m0 4v4m0 4v1m0 17v2m0 109v2M86 5v2m0 4v2m0 18v1m0 2v1m0 21v3m0 98v3M87 21v1m0 11v1m0 4v2m0 12v1M88 16v1m0 19v2m0 20v1M89 21v1m0 18v1m0 3v1m0 5v1M90 15v1m0 3v2m0 7v3m0 11v1m0 120v1m0 3v3m0 6v3m0 13v4m0 2v1m0 4v12M91 20v7m0 1v1m0 1v1m0 13v1m0 115v4m0 33v2m0 13v1M92 3v2m0 21v1m0 164v1M93 2v2m0 1v1m0 6v1m0 7v1m0 8v5m0 2v2m0 17v1m0 149v1m0 8v1M94 0v3m0 26v4m0 6v1m0 11v1m0 7v5m0 8v2m0 47v3m0 5v11m0 7v2m0 11v1m0 6v2m0 8v1m0 12v2m0 14v1M95 44v1m0 4v2m0 3v1m0 154v4M96 5v3m0 39v1m0 5v3m0 3v1m0 11v7m0 66v3m0 12v1M97 10v1m0 1v1m0 27v1m0 13v1m0 4v10m0 5v4M98 6v3m0 65v3m0 46v2m0 2v9m0 5v3m0 3v2m0 60v4M99 10v1m0 36v2m0 2v3M100 2v2m0 123v1m0 4v5m0 9v1M101 3v2m0 3v1m0 54v7m0 15v1m0 6v1m0 4v1m0 23v2m0 5v8m0 4v5m0 2v2M102 41v1m0 9v2m0 6v4m0 10v5m0 7v2m0 1v1m0 2v4m0 1v3m0 32v1m0 6v2m0 1v1m0 18v3M103 148v1m0 11v1m0 1v2m0 5v1m0 3v1m0 1v2m0 10v3m0 22v3M104 40v3m0 11v2m0 82v2m0 4v1M105 41v3m0 5v4m0 6v2m0 3v4m0 8v2m0 18v4m0 3v2m0 4v2m0 2v3m0 1v4M106 7v2m0 2v4m0 29v2m0 13v3m0 3v3m0 1v6m0 1v2m0 35v2m0 57v1M107 0v2m0 7v3m0 28v1m0 5v2m0 54v6m0 1v1m0 2v1m0 41v4m0 2v2m0 3v3m0 1v3m0 8v3m0 1v3m0 1v4m0 1v2m0 8v3m0 2v1m0 2v1M108 7v2m0 5v1m0 25v2m0 19v1m0 4v12m0 20v1m0 5v3m0 60v1m0 10v4m0 12v1m0 8v2m0 1v1M109 46v1m0 7v1m0 5v7m0 5v2m0 1v3m0 12v1m0 10v1m0 3v9m0 51v3m0 30v1M110 0v9m0 1v1m0 11v1m0 36v3m0 13v3m0 2v5m0 7v2m0 5v8m0 1v1m0 3v1m0 4v1m0 58v4m0 4v1m0 3v2M111 5v1m0 75v4m0 28v2m0 4v1m0 42v3m0 16v3m0 20v3m0 4v1M112 0v2m0 63v7m0 4v2m0 1v6M113 0v2m0 3v4m0 2v1m0 2v1m0 66v3M114 11v1m0 47v12m0 1v6m0 1v4m0 1v1m0 16v2M115 40v2m0 2v5m0 4v1m0 24v7m0 2v2m0 5v5m0 53v1m0 10v4m0 19v5m0 4v3m0 6v1m0 8v2M116 0v3m0 5v2m0 1v1m0 31v1m0 19v8m0 4v6m0 6v2m0 2v2m0 67v1m0 4v5m0 19v3m0 21v2M117 0v4m0 5v2m0 38v1m0 11v2m0 1v14m0 4v4m0 16v2m0 1v5m0 1v2m0 80v4M118 5v2m0 21v1m0 12v1m0 10v1m0 29v2m0 17v3m0 4v1M119 2v2m0 74v4m0 21v9m0 2v2m0 56v1m0 33v3M120 47v2m0 56v3m0 1v4m0 67v2m0 22v2M121 59v9m0 2v4m0 29v2m0 3v2m0 1v2m0 7v1m0 63v1M122 41v1m0 23v6m0 5v2m0 35v1M123 43v1m0 15v7m0 14v5m0 29v2M124 0v5m0 6v3m0 54v7m0 2v3m0 1v1m0 14v1m0 20v1m0 36v1M125 1v5m0 16v1m0 17v1m0 4v6m0 8v10m0 15v1m0 8v1m0 12v5M126 0v1m0 5v4m0 2v2m0 49v1m0 1v5m0 1v14m0 4v2m0 26v1M127 0v3m0 43v1m0 34v4m0 29v1m0 60v6m0 8v2m0 22v2M128 0v4m0 2v1m0 1v1m0 46v1m0 4v14m0 1v3m0 6v1m0 29v2M129 50v2m0 27v1m0 2v3m0 1v2m0 6v3m0 22v2m0 39v2M130 78v7m0 29v1m0 1v3m0 43v4m0 22v2M131 1v1m0 8v2m0 39v2m0 25v3m0 4v7m0 1v1m0 5v1M132 13v1m0 40v1m0 23v2m0 2v2m0 35v1M133 0v1m0 4v4m0 1v3m0 31v1m0 6v5m0 23v3m0 1v4m0 3v2m0 3v5m0 60v7m0 21v2M134 7v1m0 32v1m0 13v1m0 35v2m0 83v3M135 3v1m0 49v2m0 4v1m0 18v5m0 77v2M136 5v4m0 4v1m0 32v2m0 11v1m0 12v8m0 2v3m0 31v2m0 33v2m0 2v3m0 14v2m0 31v3M137 36v1m0 15v1m0 9v4m0 6v3m0 4v5m0 1v3m0 2v2m0 4v4m0 7v4m0 3v1m0 1v2m0 1v2M138 5v4m0 3v3m0 37v2m0 1v1m0 25v12m0 11v3m0 10v2M139 13v1m0 65v2m0 1v5m0 5v2m0 3v1m0 6v1m0 50v2M140 2v3m0 2v3m0 1v4m0 25v1m0 4v3m0 3v1m0 26v2m0 4v1M141 1v8m0 21v2m0 17v3m0 2v1m0 9v5m0 6v3m0 3v5M142 78v1m0 34v1m0 3v1M143 44v1m0 9v2m0 3v1m0 9v5m0 3v4M144 47v1m0 30v1m0 2v4m0 5v2m0 1v2m0 2v3m0 14v4m0 42v3m0 14v1M145 6v1m0 48v1m0 23v6m0 93v4M146 0v1m0 45v2m0 33v4m0 29v2m0 3v2M147 78v3m0 6v7m0 3v3M148 10v3m0 1v1m0 26v1m0 1v1m0 6v2m0 1v3m0 29v3m0 3v1m0 2v6m0 15v1m0 3v1m0 38v1M149 55v1m0 22v7m0 3v2m0 23v2m0 35v1M150 78v1m0 3v2m0 1v4m0 3v4m0 2v2m0 17v1M151 0v1m0 12v1m0 36v4m0 27v2m0 2v2m0 1v2m0 5v1M152 14v1m0 21v3m0 7v6M153 0v1m0 10v3m0 6v4m0 14v6m0 39v3M154 83v1M155 2v1m0 169v6m0 1v1M156 45v2m0 9v5m0 1v1m0 5v10m0 91v1m0 7v3M157 56v5m0 14v3m0 97v3M158 43v2m0 10v1m0 5v6m0 3v8M159 55v2m0 5v1M160 44v1m0 11v8m0 6v5m0 8v1M161 0v3m0 52v17M162 10v2m0 1v1m0 42v22m0 18v1M163 18v3m0 34v6m0 4v13m0 5v3m0 3v1m0 1v1m0 1v2m0 53v1m0 20v4M164 58v1m0 4v1m0 33v1m0 1v1m0 72v4m0 3v1M165 66v8m0 11v1m0 3v1m0 3v2m0 1v4M166 12v3m0 5v2m0 3v3m0 30v7m0 8v3m0 7v6m0 1v3m0 6v1M167 10v1m0 2v2m0 40v1m0 4v7m0 16v17M168 55v11m0 5v7m0 5v2m0 1v3m0 5v1M169 11v2m0 2v1m0 3v1m0 35v7m0 5v7m0 9v3m0 4v3m0 1v2m0 3v1m0 72v1M170 16v1m0 23v2m0 5v1m0 7v1m0 113v1m0 5v4M171 40v2m0 14v4m0 5v3m0 34v4m0 2v1m0 1v3m0 56v1M172 7v3m0 3v2m0 41v6m0 4v4M173 47v1m0 7v1m0 10v10m0 7v2m0 5v3m0 5v1m0 7v2m0 4v1m0 59v1M174 11v1m0 73v3m0 8v3M175 12v3m0 68v1m0 5v3m0 8v1M176 19v1m0 70v3m0 13v1m0 3v2M177 83v3m0 1v2m0 4v6m0 7v2m0 1v1M178 17v3m0 35v1m0 5v17m0 5v4m0 5v8M179 10v5m0 41v7m0 6v4m0 15v6m0 76v3m0 1v1m0 2v1M180 21v1m0 33v9m0 6v8m0 5v3m0 85v6m0 1v2M181 12v1m0 35v1m0 2v1m0 4v1m0 2v3m0 42v3m0 4v1M182 3v1m0 4v2m0 2v1m0 1v1m0 32v1m0 8v9m0 1v8m0 32v1M183 1v1m0 12v1m0 36v1m0 7v1m0 12v6m0 95v3M184 45v1m0 4v12m0 12v4m0 23v6m0 1v3M185 12v2m0 33v1m0 7v4m0 1v4m0 2v7m0 4v1M186 48v2m0 5v3m0 115v1m0 3v3M187 15v1m0 30v1m0 115v2m0 5v6m0 4v1M188 13v1m0 36v1m0 4v1m0 10v1m0 102v2M189 3v1m0 10v1m0 41v5m0 2v7m0 3v5m0 91v5M190 11v4m0 6v1m0 18v1m0 6v2m0 6v5m0 2v14m0 7v6m0 1v2m0 85v2M191 56v7m0 20v2m0 15v1m0 3v1m0 1v2m0 4v1M192 43v5m0 8v3m0 9v10m0 23v12m0 47v2m0 15v3M193 5v2m0 33v2m0 1v2m0 10v1m0 11v1m0 34v2m0 2v4M194 40v1m0 9v1m0 4v4m0 1v18m0 5v2m0 1v2m0 2v1m0 2v2m0 3v2M195 5v1m0 39v1m0 1v3m0 33v1m0 7v1m0 4v3M196 55v1m0 20v2m0 5v1m0 10v4m0 1v1M197 5v1m0 37v5M198 40v6m0 37v4M199 24v2m0 57v1m0 11v1M200 3v1m0 36v3m0 57v8m0 1v4M201 2v2m0 32v2m0 62v11m0 1v1M202 100v3m0 1v1m0 1v7M203 21v3m0 88v1M204 101v7m0 2v1M205 1v3M206 0v2m0 1v1m0 4v1m0 6v3m0 1v3m0 4v4m0 5v3m0 2v2M207 1v1m0 34v1m0 3v1m0 6v1m0 52v1m0 9v3M208 50v1m0 50v10M209 1v2m0 51v1m0 51v1M210 14v1m0 18v3M211 1v1m0 10v1M212 14v3m0 33v1M213 9v1m0 11v2m0 11v2M215 47v4M216 7v3m0 4v1m0 18v3m0 1v1M217 18v1m0 2v1m0 10v2m0 14v2M218 3v1m0 81v1m0 3v3m0 2v3M219 1v2m0 2v3m0 1v2m0 3v1m0 26v1m0 36v1m0 3v4m0 4v3m0 7v13m0 54v2M220 0v1m0 4v1m0 10v2m0 14v2m0 6v2m0 58v1m0 1v3m0 2v4M221 2v2m0 7v1m0 2v1M222 12v1m0 87v2m0 37v2M223 9v2m0 14v1m0 3v2m0 10v1m0 1v1m0 2v1m0 6v1m0 47v3m0 4v2m0 13v12m0 1v4m0 7v2M224 11v1m0 2v1m0 89v1m0 17v9m0 1v3m0 10v1M225 0v1m0 10v4m0 25v1m0 80v4m0 3v1m0 3v3m0 5v6M226 0v2m0 2v1m0 2v1m0 6v1M227 50v3m0 68v2m0 2v7m0 1v1m0 2v8M228 96v2m0 8v1m0 3v3m0 52v2M229 82v2m0 17v12m0 25v2m0 13v1m0 51v2m0 5v1M230 94v5m0 5v1m0 50v1M231 83v1m0 37v1m0 4v1m0 5v1m0 5v4m0 3v1m0 6v2m0 5v1M232 38v1m0 40v3m0 3v1m0 4v2m0 2v1m0 1v2m0 47v1M233 12v2m0 26v2m0 2v1m0 10v1m0 22v1m0 1v1m0 1v1m0 1v2m0 5v4m0 38v3m0 9v4M234 78v1m0 1v1m0 1v10m0 2v4M235 53v1m0 28v3m0 3v5m0 4v3m0 89v1M236 1v2m0 7v2m0 32v1m0 81v2m0 60v1M237 11v1m0 32v1m0 2v3m0 138v1m0 20v5M238 138v4M239 112v1M240 82v1M241 84v2M242 90v3m0 1v6m0 21v9m0 3v9m0 3v4m0 6v2M243 1v1m0 53v1m0 73v11M244 8v2m0 37v1m0 85v4m0 2v1m0 5v4M245 5v4m0 68v3m0 16v4m0 21v1m0 9v1M246 50v2m0 29v4m0 5v2m0 3v2M247 61v5m0 5v8m0 3v4m0 57v6M248 55v1m0 11v8m0 53v1m0 3v1M249 56v2m0 1v16m0 46v2m0 1v4m0 1v5m0 2v3M251 14v1m0 36v2M252 137v8m0 8v2M253 146v3m0 1v1m0 1v4M254 0v1m0 145v2m0 1v1m0 2v1m0 55v2M255 146v4m0 2v1m0 1v1m0 1v2m0 40v5M256 7v2m0 93v2m0 1v2m0 2v1m0 36v6m0 1v2m0 1v2m0 40v5m0 4v5M257 0v3m0 99v2m0 43v2m0 6v3M258 0v1m0 146v3m0 1v7M259 103v1m0 3v1m0 4v1m0 33v3m0 2v3m0 2v1M260 100v5m0 4v1m0 2v1m0 33v1m0 2v2m0 1v5M261 149v1m0 1v7m0 40v1m0 5v4M262 0v1m0 10v3m0 135v3m0 3v1m0 1v1m0 44v8M263 12v3m0 35v2m0 97v3m0 2v4m0 43v1M264 149v2m0 3v4M265 12v1m0 37v3m0 94v2m0 1v2m0 4v2M266 8v7m0 25v5m0 6v1m0 49v4m0 1v3m0 3v1m0 33v3m0 1v1m0 3v1m0 43v2m0 4v8M267 0v3m0 97v3m0 2v6m0 1v1m0 33v5m0 3v3M268 51v1M269 52v1m0 47v3m0 6v1M270 52v2m0 100v2M271 100v7m0 1v3m0 1v1M272 54v1m0 104v1M275 76v2m0 120v1M276 109v4M277 1v1m0 1v3m0 34v1m0 39v4m0 6v3m0 9v1M278 0v2m0 77v1m0 1v4M279 5v2m0 48v1m0 97v4M281 189v1M282 100v1m0 11v1M283 97v1M284 81v3m0 17v1m0 3v2M285 19v11m0 5v2m0 3v3m0 1v1m0 2v1m0 59v1m0 2v1M286 5v1M287 3v4m0 30v3m0 11v1M288 0v3m0 2v1m0 11v1m0 1v2m0 1v2m0 1v4m0 5v4M289 7v1m0 6v1m0 2v2m0 15v4m0 12v1M290 2v2m0 10v1m0 6v3m0 2v2m0 6v4m0 2v3M291 14v1m0 14v4m0 3v1m0 17v1M292 2v1m0 2v4m0 21v2M293 40v1m0 1v1m0 63v4M294 0v1m0 1v1m0 4v3m0 2v2m0 7v1m0 14v6m0 4v1m0 59v1m0 98v1M295 17v1m0 3v4m0 12v2m0 1v1m0 1v1M296 11v3m0 21v1m0 1v2m0 1v1m0 10v1M297 5v2m0 3v2m0 5v2m0 3v2m0 5v1m0 3v2m0 1v5M298 17v2m0 4v1m0 2v5m0 9v1m0 3v1M299 17v1m0 1v8m0 4v4m0 2v6M300 21v3m0 2v1m0 3v2m0 1v3m0 1v2m0 11v2m0 2v2m0 91v1M301 0v2m0 43v1m0 90v4M302 7v1m0 33v1" stroke="#e62430" stroke-width="1.03" fill="none"/>
</g></g></g>
<text x="183" y="610.1" font-size="7.7" fill="#1c1c1c" text-anchor="middle" textLength="23.4" lengthAdjust="spacingAndGlyphs">Genes</text>
<text transform="translate(25.0,470.8) rotate(-90)" font-size="7.7" fill="#1c1c1c" text-anchor="middle" textLength="29" lengthAdjust="spacingAndGlyphs">Patients</text>
<text x="339.1" y="325.7" font-size="8.6" fill="#1c1c1c" textLength="87" lengthAdjust="spacingAndGlyphs">Cytogenetic Alterations</text>
<text x="339.1" y="336.3" font-size="8.6" fill="#1c1c1c" textLength="69.4" lengthAdjust="spacingAndGlyphs"><tspan font-style="italic">CREBBP</tspan> Alteration</text>
<rect x="339.2" y="342.40" width="9.1" height="3.63" fill="rgb(237, 165, 201)"/>
<rect x="339.2" y="345.73" width="9.1" height="3.63" fill="rgb(236, 137, 185)"/>
<rect x="339.2" y="349.06" width="9.1" height="3.63" fill="rgb(236, 108, 154)"/>
<rect x="339.2" y="352.39" width="9.1" height="3.63" fill="rgb(235, 83, 123)"/>
<rect x="339.2" y="355.72" width="9.1" height="3.63" fill="rgb(233, 62, 94)"/>
<rect x="339.2" y="359.05" width="9.1" height="3.63" fill="rgb(231, 49, 71)"/>
<rect x="339.2" y="362.38" width="9.1" height="3.63" fill="rgb(230, 36, 50)"/>
<rect x="339.2" y="365.71" width="9.1" height="3.63" fill="rgb(230, 34, 46)"/>
<rect x="339.2" y="369.04" width="9.1" height="3.63" fill="rgb(230, 34, 46)"/>
<rect x="339.2" y="372.37" width="9.1" height="3.63" fill="rgb(230, 34, 46)"/>
<rect x="339.2" y="375.70" width="9.1" height="3.63" fill="rgb(230, 34, 46)"/>
<rect x="339.2" y="379.03" width="9.1" height="3.63" fill="rgb(230, 34, 46)"/>
<rect x="339.2" y="382.36" width="9.1" height="3.63" fill="rgb(230, 34, 46)"/>
<rect x="339.2" y="385.69" width="9.1" height="3.63" fill="rgb(232, 45, 59)"/>
<rect x="339.2" y="389.02" width="9.1" height="3.63" fill="rgb(236, 71, 86)"/>
<rect x="339.2" y="392.35" width="9.1" height="3.63" fill="rgb(238, 95, 115)"/>
<rect x="339.2" y="395.68" width="9.1" height="3.63" fill="rgb(241, 121, 144)"/>
<rect x="339.2" y="399.01" width="9.1" height="3.63" fill="rgb(243, 151, 172)"/>
<rect x="339.2" y="402.34" width="9.1" height="3.63" fill="rgb(238, 180, 200)"/>
<rect x="339.2" y="405.67" width="9.1" height="3.63" fill="rgb(221, 207, 226)"/>
<rect x="339.2" y="409.00" width="9.1" height="3.63" fill="rgb(194, 222, 238)"/>
<rect x="339.2" y="412.33" width="9.1" height="3.63" fill="rgb(187, 220, 237)"/>
<rect x="339.2" y="415.66" width="9.1" height="3.63" fill="rgb(180, 218, 237)"/>
<rect x="339.2" y="418.99" width="9.1" height="3.63" fill="rgb(173, 217, 236)"/>
<rect x="339.2" y="422.32" width="9.1" height="3.63" fill="rgb(167, 216, 236)"/>
<rect x="339.2" y="425.65" width="9.1" height="3.63" fill="rgb(163, 214, 236)"/>
<rect x="339.2" y="428.98" width="9.1" height="3.63" fill="rgb(158, 213, 235)"/>
<rect x="339.2" y="432.31" width="9.1" height="3.63" fill="rgb(154, 211, 235)"/>
<rect x="339.2" y="435.64" width="9.1" height="3.63" fill="rgb(150, 210, 235)"/>
<rect x="339.2" y="438.97" width="9.1" height="3.63" fill="rgb(146, 209, 234)"/>
<rect x="339.2" y="442.30" width="9.1" height="3.63" fill="rgb(142, 207, 234)"/>
<rect x="339.2" y="445.63" width="9.1" height="3.63" fill="rgb(138, 205, 233)"/>
<rect x="339.2" y="448.96" width="9.1" height="3.63" fill="rgb(134, 203, 232)"/>
<rect x="339.2" y="452.29" width="9.1" height="3.63" fill="rgb(130, 201, 232)"/>
<rect x="339.2" y="455.62" width="9.1" height="3.63" fill="rgb(126, 199, 231)"/>
<rect x="339.2" y="458.95" width="9.1" height="3.63" fill="rgb(122, 197, 230)"/>
<rect x="339.2" y="462.28" width="9.1" height="3.63" fill="rgb(119, 195, 230)"/>
<rect x="339.2" y="465.61" width="9.1" height="3.63" fill="rgb(117, 192, 229)"/>
<rect x="339.2" y="468.94" width="9.1" height="3.63" fill="rgb(114, 189, 228)"/>
<rect x="339.2" y="472.27" width="9.1" height="3.63" fill="rgb(112, 186, 227)"/>
<text x="353.2" y="359.10" font-size="6.4" fill="#1c1c1c">4</text>
<text x="353.2" y="385.50" font-size="6.4" fill="#1c1c1c">2</text>
<text x="353.2" y="411.90" font-size="6.4" fill="#1c1c1c">0</text>
<text x="353.2" y="438.30" font-size="6.4" fill="#1c1c1c">−2</text>
<text x="353.2" y="464.70" font-size="6.4" fill="#1c1c1c">−4</text>
<text transform="translate(367.8,411.5) rotate(-90)" font-size="6.3" textLength="44.3" lengthAdjust="spacingAndGlyphs" fill="#1c1c1c" text-anchor="middle">Intensity (<tspan font-style="italic">z</tspan>-score)</text>
<text x="380" y="348.5" font-size="8.6" fill="#1c1c1c" textLength="88.2" lengthAdjust="spacingAndGlyphs">Cytogenetic Alterations</text>
<rect x="380" y="349.8" width="88.2" height="0.6" fill="#1c1c1c"/>
<rect x="380" y="352.50" width="13" height="13.70" fill="#f9a11b"/>
<text x="397" y="362.4" font-size="8.5" fill="#1c1c1c" textLength="52.3" lengthAdjust="spacingAndGlyphs"><tspan font-style="italic">CBFB::MYH11</tspan></text>
<rect x="380" y="366.00" width="13" height="13.70" fill="#fde725"/>
<text x="397" y="375.9" font-size="8.5" fill="#1c1c1c" textLength="51.3" lengthAdjust="spacingAndGlyphs"><tspan font-style="italic">KMT2A</tspan> fusion</text>
<rect x="380" y="379.50" width="13" height="13.70" fill="#8e3fa8"/>
<text x="397" y="389.4" font-size="8.5" fill="#1c1c1c" textLength="67.3" lengthAdjust="spacingAndGlyphs">Other abnormality</text>
<rect x="380" y="393.00" width="13" height="13.70" fill="#9ad2f2"/>
<text x="397" y="402.9" font-size="8.5" fill="#1c1c1c" textLength="67.5" lengthAdjust="spacingAndGlyphs"><tspan font-style="italic">RUNX1::RUNX1T1</tspan></text>
<rect x="380" y="406.50" width="13" height="13.70" fill="#a81e22"/>
<text x="397" y="416.4" font-size="8.5" fill="#1c1c1c" textLength="79.3" lengthAdjust="spacingAndGlyphs">Normal Bone Marrow</text>
<rect x="380" y="420.00" width="13" height="13.70" fill="#6cb52d"/>
<text x="397" y="429.9" font-size="8.5" fill="#1c1c1c" textLength="61.3" lengthAdjust="spacingAndGlyphs"><tspan font-style="italic">CBFA2T3::GLIS2</tspan></text>
<rect x="380" y="433.50" width="13" height="13.70" fill="#cccccc"/>
<text x="397" y="443.4" font-size="8.5" fill="#1c1c1c" textLength="51.5" lengthAdjust="spacingAndGlyphs"><tspan font-style="italic">DEK::NUP214</tspan></text>
<rect x="380" y="447.00" width="13" height="13.70" fill="#e3191c"/>
<text x="397" y="456.9" font-size="8.5" fill="#1c1c1c" textLength="59.9" lengthAdjust="spacingAndGlyphs"><tspan font-style="italic">NUP98::KDM5A</tspan></text>
<rect x="380" y="460.50" width="13" height="13.70" fill="#ee6bb0"/>
<text x="397" y="470.4" font-size="8.5" fill="#1c1c1c" textLength="53" lengthAdjust="spacingAndGlyphs"><tspan font-style="italic">NUP98::NSD1</tspan></text>
<rect x="380" y="474.00" width="13" height="13.70" fill="#f47d4a"/>
<text x="397" y="483.9" font-size="8.5" fill="#1c1c1c" textLength="40.2" lengthAdjust="spacingAndGlyphs">ETS Family</text>
<text x="380" y="503.6" font-size="8.6" fill="#1c1c1c" textLength="70.5" lengthAdjust="spacingAndGlyphs"><tspan font-style="italic">CREBBP</tspan> Alteration</text>
<rect x="380" y="504.90000000000003" width="70.5" height="0.6" fill="#1c1c1c"/>
<rect x="380" y="506.60" width="13" height="13.90" fill="#3b4ba8"/>
<text x="397" y="516.5" font-size="8.5" fill="#1c1c1c" textLength="17.5" lengthAdjust="spacingAndGlyphs">Indel</text>
<rect x="380" y="520.30" width="13" height="13.90" fill="#e3191c"/>
<text x="397" y="530.2" font-size="8.5" fill="#1c1c1c" textLength="23.7" lengthAdjust="spacingAndGlyphs">Fusion</text>
<rect x="380" y="534.00" width="13" height="13.90" fill="#c9c9c9"/>
<text x="397" y="543.9" font-size="8.5" fill="#1c1c1c" textLength="20.5" lengthAdjust="spacingAndGlyphs">None</text>
<rect x="380" y="547.70" width="13" height="13.90" fill="#6ab023"/>
<text x="397" y="557.6" font-size="8.5" fill="#1c1c1c" textLength="15.7" lengthAdjust="spacingAndGlyphs">SNV</text>
<rect x="380" y="561.40" width="13" height="13.90" fill="#a52020"/>
<text x="397" y="571.3" font-size="8.5" fill="#1c1c1c" textLength="79.3" lengthAdjust="spacingAndGlyphs">Normal Bone Marrow</text>
</g>
<rect x="0" y="0" width="520" height="1.0" fill="#555"/>
<rect x="0" y="617.6" width="520" height="1.4" fill="#555"/>
<rect x="0" y="0" width="1.05" height="619" fill="#555"/>
<rect x="518.6" y="0" width="1.4" height="619" fill="#555"/>
</svg></body></html>
